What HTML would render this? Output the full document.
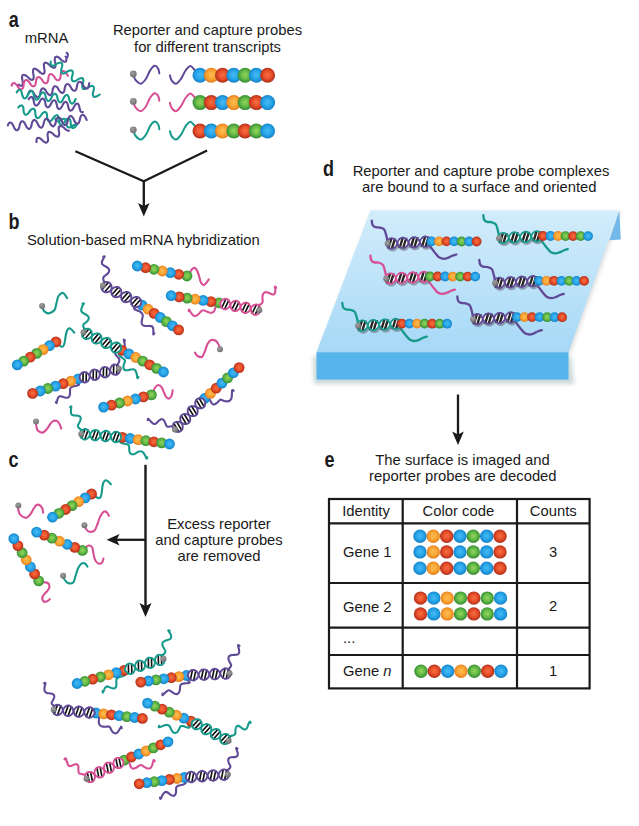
<!DOCTYPE html>
<html><head><meta charset="utf-8"><title>nCounter workflow</title>
<style>
html,body{margin:0;padding:0;background:#fff;}
body{width:639px;height:826px;overflow:hidden;font-family:"Liberation Sans",sans-serif;}
svg{display:block;}
svg text{font-family:"Liberation Sans",sans-serif;fill:#1a1a1a;}
svg path{stroke-linecap:round;stroke-linejoin:round;}
</style></head><body>
<svg width="639" height="826" viewBox="0 0 639 826">
<defs>
<radialGradient id="gb" cx="50%" cy="48%" r="52%"><stop offset="0" stop-color="#48baf3"/><stop offset="0.55" stop-color="#27a5e8"/><stop offset="0.85" stop-color="#1a8cd2"/><stop offset="1" stop-color="#1a80c2"/></radialGradient>
<radialGradient id="go" cx="50%" cy="48%" r="52%"><stop offset="0" stop-color="#fdbd50"/><stop offset="0.55" stop-color="#f9a535"/><stop offset="0.85" stop-color="#ee8a24"/><stop offset="1" stop-color="#e17b20"/></radialGradient>
<radialGradient id="gr" cx="50%" cy="48%" r="52%"><stop offset="0" stop-color="#f56f42"/><stop offset="0.5" stop-color="#ea512b"/><stop offset="0.82" stop-color="#c43a20"/><stop offset="1" stop-color="#a9311c"/></radialGradient>
<radialGradient id="gg" cx="50%" cy="48%" r="52%"><stop offset="0" stop-color="#93d45c"/><stop offset="0.5" stop-color="#68bd48"/><stop offset="0.82" stop-color="#449c3b"/><stop offset="1" stop-color="#3a8b36"/></radialGradient>
<radialGradient id="gd" cx="40%" cy="35%" r="65%"><stop offset="0" stop-color="#a0a0a0"/><stop offset="1" stop-color="#707070"/></radialGradient>
<linearGradient id="top" x1="0" y1="0" x2="0" y2="1"><stop offset="0" stop-color="#d2ecfb"/><stop offset="0.5" stop-color="#bde3f9"/><stop offset="1" stop-color="#a6d8f6"/></linearGradient>
<filter id="sh" x="-5%" y="-5%" width="110%" height="115%"><feGaussianBlur stdDeviation="2"/></filter>
</defs>
<text transform="translate(8.7 26.7) scale(0.8 1)" font-size="22.5" font-weight="bold">a</text>
<text x="46.5" y="43" font-size="14.8" text-anchor="middle" font-weight="normal" >mRNA</text>
<text x="207.5" y="35.2" font-size="14.8" text-anchor="middle" font-weight="normal" >Reporter and capture probes</text>
<text x="207.5" y="52.1" font-size="14.8" text-anchor="middle" font-weight="normal" >for different transcripts</text>
<text transform="translate(8.6 229.2) scale(0.8 1)" font-size="22.5" font-weight="bold">b</text>
<text x="27" y="244.8" font-size="14.8" text-anchor="start" font-weight="normal" >Solution-based mRNA hybridization</text>
<text transform="translate(8.5 466.6) scale(0.8 1)" font-size="22.5" font-weight="bold">c</text>
<text x="219" y="528.6" font-size="14.8" text-anchor="middle" font-weight="normal" >Excess reporter</text>
<text x="219" y="544.9" font-size="14.8" text-anchor="middle" font-weight="normal" >and capture probes</text>
<text x="219" y="561" font-size="14.8" text-anchor="middle" font-weight="normal" >are removed</text>
<text transform="translate(323 175.9) scale(0.8 1)" font-size="22.5" font-weight="bold">d</text>
<text x="481" y="175.8" font-size="14.8" text-anchor="middle" font-weight="normal" >Reporter and capture probe complexes</text>
<text x="479.3" y="192.2" font-size="14.8" text-anchor="middle" font-weight="normal" >are bound to a surface and oriented</text>
<text transform="translate(324.6 466.5) scale(0.8 1)" font-size="22.5" font-weight="bold">e</text>
<text x="462.5" y="465.2" font-size="14.8" text-anchor="middle" font-weight="normal" >The surface is imaged and</text>
<text x="462.8" y="481.1" font-size="14.8" text-anchor="middle" font-weight="normal" >reporter probes are decoded</text>
<path d="M75.4 151.2L143.8 181.2L207.1 150.6" fill="none" stroke="#1a1a1a" stroke-width="2.2" style="stroke-linejoin:miter;stroke-linecap:butt"/>
<path d="M143.8 181.2V207.1" fill="none" style="stroke-linecap:butt" stroke="#1a1a1a" stroke-width="2.3"/>
<path d="M143.8 216.6L138 203.1L143.8 206.1L149.6 203.1Z" fill="#1a1a1a" stroke="none"/>
<path d="M145.5 464.8V607" fill="none" style="stroke-linecap:butt" stroke="#1a1a1a" stroke-width="2.4"/>
<path d="M145.5 617L139.5 603L145.5 606L151.5 603Z" fill="#1a1a1a" stroke="none"/>
<path d="M145.5 539.8H115.6" fill="none" style="stroke-linecap:butt" stroke="#1a1a1a" stroke-width="2.3"/>
<path d="M106.6 539.8L119.6 534L116.6 539.8L119.6 545.6Z" fill="#1a1a1a" stroke="none"/>
<path d="M458 394.5V435.5" fill="none" style="stroke-linecap:butt" stroke="#1a1a1a" stroke-width="2.3"/>
<path d="M458 445L452.2 431.5L458 434.5L463.8 431.5Z" fill="#1a1a1a" stroke="none"/>
<path d="M18.4 84.6C18.7 84.8 19.6 85.4 20.2 85.6C20.7 85.8 21.1 85.9 21.5 85.9C21.9 85.8 22.1 85.6 22.4 85.3C22.6 84.9 22.7 84.4 22.8 83.8C22.8 83.2 22.8 82.5 22.7 81.6C22.6 80.6 22.2 79.1 22.1 78.2C22 77.3 22.1 76.7 22.2 76.2C22.3 75.7 22.5 75.3 22.7 75C23 74.8 23.3 74.7 23.7 74.7C24.2 74.7 24.6 74.9 25.2 75.2C25.8 75.5 26.4 75.9 27.2 76.5C27.9 77.1 28.9 78.3 29.6 78.8C30.3 79.3 30.8 79.5 31.3 79.7C31.8 79.9 32.2 79.9 32.6 79.8C32.9 79.7 33.2 79.4 33.4 79C33.6 78.6 33.7 78.1 33.7 77.5C33.7 76.8 33.7 75.9 33.5 75C33.4 74 33 72.6 33 71.7C32.9 70.9 33 70.4 33.1 69.9C33.3 69.4 33.5 69.1 33.8 68.9C34.1 68.7 34.4 68.6 34.9 68.7C35.3 68.8 35.8 68.9 36.4 69.3C37 69.7 37.8 70.3 38.5 70.9C39.3 71.6 40.2 72.5 40.9 73C41.6 73.5 42 73.6 42.5 73.8C43 73.9 43.4 73.9 43.7 73.7C44 73.5 44.2 73.2 44.4 72.8C44.5 72.3 44.7 71.8 44.6 71.1C44.6 70.3 44.3 69.1 44.2 68.1C44.1 67.1 43.9 66.1 43.9 65.3C43.9 64.6 44 64.1 44.1 63.6C44.3 63.2 44.5 62.9 44.9 62.8C45.2 62.6 45.6 62.6 46 62.7C46.5 62.8 47 63 47.7 63.5C48.3 64 49.3 65 50.1 65.6C50.8 66.2 51.5 66.8 52.1 67.2C52.7 67.6 53.2 67.7 53.7 67.8C54.1 67.8 54.5 67.8 54.7 67.6C55 67.4 55.2 67 55.4 66.5C55.5 66 55.6 65.5 55.5 64.6C55.5 63.8 55.1 62.3 54.9 61.4C54.8 60.4 54.8 59.6 54.8 58.9C54.8 58.3 55 57.8 55.1 57.4C55.3 57 55.6 56.8 56 56.7C56.3 56.6 56.7 56.6 57.2 56.8C57.7 56.9 58.2 57.2 58.9 57.7C59.6 58.2 60.7 59.4 61.4 60C62.2 60.6 62.8 61 63.4 61.3C63.9 61.6 64.4 61.8 64.8 61.8C65.2 61.8 65.5 61.7 65.8 61.4C66.1 61.1 66.2 60.7 66.3 60.2C66.4 59.7 66.4 58.5 66.4 58.2" fill="none" stroke="#604996" stroke-width="2.1" />
<path d="M65.5 56.5C65.8 56.7 66.8 57.9 67.2 57.5C67.6 57.1 67.9 54.8 67.8 54C67.7 53.2 66.8 53 66.6 52.8" fill="none" stroke="#604996" stroke-width="2.1" />
<path d="M11.6 85.7C11.7 85.4 12 84.5 12.2 84C12.5 83.6 12.8 83.3 13.1 83.2C13.4 83 13.8 83 14.2 83.1C14.6 83.1 15 83.4 15.4 83.7C15.9 84.1 16.4 84.6 16.9 85.2C17.4 85.9 18.1 87.2 18.6 87.8C19.1 88.4 19.5 88.7 20 89C20.4 89.2 20.8 89.3 21.2 89.3C21.5 89.3 21.9 89.2 22.1 88.9C22.4 88.7 22.7 88.3 23 87.8C23.2 87.2 23.4 86.6 23.5 85.8C23.7 84.9 23.7 83.5 23.9 82.7C24.1 81.9 24.3 81.5 24.6 81C24.8 80.6 25.1 80.3 25.5 80.2C25.8 80 26.1 80 26.5 80.1C26.9 80.1 27.3 80.4 27.8 80.7C28.2 81.1 28.7 81.6 29.2 82.2C29.8 82.9 30.4 84.2 30.9 84.8C31.4 85.4 31.9 85.7 32.3 86C32.7 86.2 33.1 86.3 33.5 86.3C33.9 86.3 34.2 86.2 34.5 85.9C34.8 85.7 35.1 85.3 35.3 84.8C35.5 84.2 35.7 83.6 35.9 82.8C36 81.9 36.1 80.5 36.2 79.7C36.4 78.9 36.7 78.5 36.9 78C37.2 77.6 37.5 77.3 37.8 77.2C38.1 77 38.5 77 38.9 77.1C39.2 77.1 39.7 77.4 40.1 77.7C40.6 78.1 41 78.6 41.6 79.2C42.1 79.9 42.8 81.2 43.3 81.8C43.8 82.4 44.2 82.7 44.6 83C45.1 83.2 45.5 83.3 45.8 83.3C46.2 83.3 46.5 83.2 46.8 82.9C47.1 82.7 47.4 82.3 47.6 81.8C47.9 81.2 48.1 80.6 48.2 79.8C48.4 78.9 48.4 77.5 48.6 76.7C48.7 75.9 49 75.5 49.2 75C49.5 74.6 49.8 74.3 50.1 74.2C50.4 74 50.8 74 51.2 74.1C51.6 74.1 52 74.4 52.4 74.7C52.9 75.1 53.4 75.6 53.9 76.2C54.4 76.9 55.1 78.2 55.6 78.8C56.1 79.4 56.5 79.7 57 80C57.4 80.2 57.8 80.3 58.2 80.3C58.5 80.3 58.9 80.2 59.1 79.9C59.4 79.7 59.7 79.3 60 78.8C60.2 78.2 60.4 77.6 60.5 76.8C60.7 75.9 60.7 74.5 60.9 73.7C61.1 72.9 61.3 72.5 61.6 72C61.8 71.6 62.1 71.3 62.5 71.2C62.8 71 63.1 71 63.5 71.1C63.9 71.1 64.3 71.4 64.8 71.7C65.2 72.1 65.7 72.6 66.2 73.2C66.8 73.9 67.6 75.4 67.9 75.8" fill="none" stroke="#d74f94" stroke-width="2.1" />
<path d="M50.8 61.5C50.8 61.8 50.6 62.9 50.6 63.5C50.7 64.1 50.8 64.5 51 64.9C51.2 65.2 51.4 65.5 51.8 65.6C52.2 65.7 52.6 65.8 53.1 65.7C53.6 65.6 54.2 65.5 54.9 65.1C55.6 64.7 56.7 63.8 57.5 63.4C58.2 63 58.8 62.8 59.4 62.7C60 62.5 60.4 62.5 60.8 62.6C61.2 62.7 61.5 62.9 61.8 63.2C62 63.5 62.1 63.9 62.2 64.4C62.3 64.9 62.3 65.5 62.2 66.3C62 67.1 61.5 68.4 61.3 69.2C61.2 70.1 61.2 70.7 61.2 71.3C61.2 71.9 61.3 72.3 61.5 72.7C61.7 73 62 73.3 62.4 73.4C62.7 73.5 63.1 73.5 63.7 73.5C64.2 73.4 64.7 73.3 65.4 72.9C66.2 72.5 67.3 71.6 68 71.2C68.8 70.8 69.4 70.6 70 70.5C70.5 70.3 71 70.3 71.4 70.4C71.8 70.5 72.1 70.6 72.3 70.9C72.5 71.2 72.7 71.6 72.8 72.2C72.8 72.7 72.9 73.2 72.7 74C72.6 74.9 72.1 76.2 71.9 77C71.7 77.9 71.7 78.5 71.7 79.1C71.8 79.6 71.9 80.1 72.1 80.4C72.3 80.8 72.6 81 72.9 81.2C73.3 81.3 73.7 81.3 74.2 81.2C74.7 81.2 75.3 81 76 80.7C76.7 80.3 77.8 79.4 78.6 79C79.3 78.6 80 78.4 80.5 78.2C81.1 78.1 81.5 78.1 81.9 78.1C82.3 78.2 82.6 78.4 82.9 78.7C83.1 79 83.2 79.4 83.3 79.9C83.4 80.5 83.4 81 83.3 81.8C83.1 82.6 82.6 84 82.5 84.8C82.3 85.6 82.3 86.3 82.3 86.8C82.3 87.4 82.5 87.9 82.6 88.2C82.8 88.6 83.1 88.8 83.5 88.9C83.8 89.1 84.3 89.1 84.8 89C85.3 88.9 85.8 88.8 86.6 88.4C87.3 88.1 88.4 87.2 89.2 86.8C89.9 86.4 90.5 86.1 91.1 86C91.6 85.9 92.1 85.8 92.5 85.9C92.9 86 93.2 86.2 93.4 86.5C93.7 86.8 93.8 87.2 93.9 87.7C93.9 88.2 94 88.8 93.8 89.6C93.7 90.4 93.2 91.7 93 92.6C92.9 93.4 92.8 94.1 92.9 94.6C92.9 95.2 93 95.7 93.2 96C93.4 96.4 93.7 96.6 94 96.7C94.4 96.9 94.8 96.9 95.3 96.8C95.8 96.7 96.4 96.6 97.1 96.2C97.8 95.8 99.3 94.8 99.7 94.5" fill="none" stroke="#169a8b" stroke-width="2.1" />
<path d="M28.3 94C28.4 93.7 28.8 92.6 29 92C29.3 91.5 29.6 91.1 29.9 90.9C30.2 90.6 30.5 90.5 30.8 90.6C31.2 90.6 31.6 90.7 32 91C32.4 91.3 32.8 91.6 33.3 92.3C33.7 92.9 34.3 94.2 34.8 94.9C35.3 95.6 35.7 96.1 36.1 96.5C36.5 96.9 36.9 97.1 37.3 97.3C37.7 97.4 38 97.4 38.4 97.2C38.7 97.1 39 96.8 39.3 96.4C39.5 96 39.8 95.6 40 94.8C40.2 94 40.3 92.6 40.5 91.8C40.7 91 41 90.4 41.2 89.8C41.5 89.3 41.8 88.9 42.1 88.7C42.4 88.4 42.7 88.3 43 88.4C43.4 88.4 43.8 88.5 44.2 88.8C44.6 89.1 45 89.4 45.5 90.1C45.9 90.7 46.5 92 47 92.7C47.5 93.4 47.9 93.9 48.3 94.3C48.7 94.7 49.1 94.9 49.5 95.1C49.9 95.2 50.2 95.2 50.6 95C50.9 94.9 51.2 94.6 51.5 94.2C51.7 93.8 52 93.4 52.2 92.6C52.4 91.8 52.5 90.4 52.7 89.6C52.9 88.8 53.2 88.2 53.4 87.6C53.7 87.1 54 86.7 54.3 86.5C54.6 86.2 54.9 86.1 55.2 86.2C55.6 86.2 56 86.3 56.4 86.6C56.8 86.9 57.2 87.2 57.7 87.9C58.1 88.5 58.7 89.8 59.2 90.5C59.7 91.2 60.1 91.7 60.5 92.1C60.9 92.5 61.3 92.7 61.7 92.9C62.1 93 62.4 93 62.8 92.8C63.1 92.7 63.4 92.4 63.7 92C63.9 91.6 64.2 91.2 64.4 90.4C64.6 89.6 64.7 88.2 64.9 87.4C65.1 86.6 65.4 86 65.6 85.4C65.9 84.9 66.2 84.5 66.5 84.3C66.8 84 67.1 83.9 67.4 84C67.8 84 68.2 84.1 68.6 84.4C69 84.7 69.4 85 69.9 85.7C70.3 86.3 70.9 87.6 71.4 88.3C71.9 89 72.3 89.5 72.7 89.9C73.1 90.3 73.5 90.5 73.9 90.7C74.3 90.8 74.6 90.8 75 90.6C75.3 90.5 75.6 90.2 75.9 89.8C76.1 89.4 76.4 89 76.6 88.2C76.8 87.4 76.9 86 77.1 85.2C77.3 84.4 77.6 83.8 77.8 83.2C78.1 82.7 78.4 82.3 78.7 82.1C79 81.8 79.3 81.7 79.6 81.8C80 81.8 80.4 81.9 80.8 82.2C81.2 82.5 81.6 82.8 82.1 83.5C82.5 84.1 83.1 85.4 83.6 86.1C84.1 86.8 84.5 87.3 84.9 87.7C85.3 88.1 85.7 88.3 86.1 88.5C86.5 88.6 86.8 88.6 87.2 88.4C87.5 88.3 87.8 88 88.1 87.6C88.3 87.2 88.6 86.8 88.8 86C89 85.2 89.2 83.5 89.3 83" fill="none" stroke="#604996" stroke-width="2.1" />
<path d="M16.6 92.5C16.8 92.2 17.4 91.2 17.8 90.8C18.2 90.4 18.5 90.1 18.9 89.9C19.2 89.8 19.6 89.8 19.9 89.9C20.2 90 20.5 90.3 20.8 90.6C21.1 91 21.4 91.5 21.6 92.2C21.9 93 22 94.3 22.3 95.1C22.5 96 22.8 96.6 23.1 97.1C23.4 97.6 23.6 97.9 24 98.1C24.3 98.4 24.6 98.5 24.9 98.4C25.3 98.4 25.6 98.2 26 97.9C26.3 97.6 26.7 97.2 27.1 96.5C27.5 95.9 28 94.5 28.4 93.8C28.8 93.1 29.2 92.5 29.6 92.1C30 91.7 30.3 91.4 30.7 91.2C31 91.1 31.4 91.1 31.7 91.2C32 91.3 32.3 91.6 32.6 91.9C32.9 92.3 33.2 92.8 33.4 93.5C33.7 94.3 33.8 95.6 34.1 96.4C34.3 97.3 34.6 97.9 34.9 98.4C35.2 98.9 35.4 99.2 35.8 99.4C36.1 99.7 36.4 99.8 36.7 99.7C37.1 99.7 37.4 99.5 37.8 99.2C38.1 98.9 38.5 98.5 38.9 97.8C39.3 97.2 39.8 95.8 40.2 95.1C40.6 94.4 41 93.8 41.4 93.4C41.8 93 42.1 92.7 42.5 92.5C42.8 92.4 43.2 92.4 43.5 92.5C43.8 92.6 44.1 92.9 44.4 93.2C44.7 93.6 45 94.1 45.2 94.8C45.5 95.6 45.6 96.9 45.9 97.7C46.1 98.6 46.4 99.2 46.7 99.7C47 100.2 47.2 100.5 47.6 100.7C47.9 101 48.2 101.1 48.5 101C48.9 101 49.2 100.8 49.6 100.5C49.9 100.2 50.3 99.8 50.7 99.1C51.1 98.5 51.6 97.1 52 96.4C52.4 95.7 52.8 95.1 53.2 94.7C53.6 94.3 53.9 94 54.3 93.8C54.6 93.7 55 93.7 55.3 93.8C55.6 93.9 55.9 94.2 56.2 94.5C56.5 94.9 56.8 95.4 57 96.1C57.3 96.9 57.4 98.2 57.7 99C57.9 99.9 58.2 100.5 58.5 101C58.8 101.5 59 101.8 59.4 102C59.7 102.3 60 102.4 60.3 102.3C60.7 102.3 61 102.1 61.4 101.8C61.7 101.5 62.1 101.1 62.5 100.4C62.9 99.8 63.4 98.4 63.8 97.7C64.2 97 64.6 96.4 65 96C65.4 95.6 65.7 95.3 66.1 95.1C66.4 95 66.8 95 67.1 95.1C67.4 95.2 67.7 95.5 68 95.8C68.3 96.2 68.6 96.7 68.8 97.4C69.1 98.2 69.2 99.5 69.5 100.3C69.7 101.2 70 101.8 70.3 102.3C70.6 102.8 70.8 103.1 71.2 103.3C71.5 103.6 71.8 103.7 72.1 103.6C72.5 103.6 72.8 103.4 73.2 103.1C73.5 102.8 73.9 102.4 74.3 101.7C74.7 101.1 75.4 99.5 75.6 99" fill="none" stroke="#169a8b" stroke-width="2.1" />
<path d="M28.7 99.1C28.9 98.8 29.5 97.9 29.9 97.6C30.3 97.2 30.7 97 31 96.9C31.3 96.8 31.7 96.9 32 97.1C32.3 97.3 32.5 97.6 32.8 98.1C33.1 98.5 33.3 99.1 33.5 99.9C33.7 100.7 33.9 102.1 34.1 102.9C34.3 103.7 34.5 104.2 34.8 104.6C35.1 105 35.3 105.3 35.7 105.5C36 105.7 36.3 105.7 36.6 105.6C37 105.5 37.3 105.2 37.7 104.8C38.1 104.4 38.5 104 38.9 103.2C39.4 102.5 39.9 101.2 40.3 100.5C40.8 99.8 41.1 99.4 41.5 99.1C41.9 98.8 42.2 98.6 42.6 98.6C42.9 98.5 43.2 98.6 43.5 98.8C43.8 99 44.1 99.4 44.4 99.9C44.6 100.4 44.8 101 45.1 101.8C45.3 102.7 45.4 104.1 45.6 104.8C45.8 105.6 46.1 106 46.4 106.4C46.6 106.8 46.9 107.1 47.2 107.2C47.5 107.4 47.9 107.3 48.2 107.2C48.6 107.1 48.9 106.8 49.3 106.4C49.7 105.9 50.1 105.4 50.6 104.6C51 103.9 51.5 102.6 51.9 101.9C52.4 101.3 52.7 101 53.1 100.7C53.5 100.4 53.8 100.2 54.2 100.2C54.5 100.2 54.8 100.3 55.1 100.6C55.4 100.8 55.7 101.2 55.9 101.8C56.2 102.3 56.4 103 56.6 103.8C56.8 104.7 56.9 106 57.2 106.7C57.4 107.5 57.6 107.9 57.9 108.2C58.2 108.6 58.5 108.8 58.8 108.9C59.1 109 59.5 109 59.8 108.8C60.2 108.6 60.5 108.3 60.9 107.9C61.3 107.4 61.8 106.7 62.2 106C62.6 105.2 63.1 104 63.5 103.4C64 102.8 64.3 102.5 64.7 102.2C65.1 102 65.4 101.9 65.7 101.9C66.1 101.9 66.4 102.1 66.7 102.3C66.9 102.6 67.2 103 67.5 103.6C67.7 104.2 67.9 105.1 68.1 105.9C68.3 106.7 68.5 108 68.7 108.6C68.9 109.3 69.2 109.7 69.5 110C69.8 110.4 70.1 110.6 70.4 110.6C70.7 110.7 71 110.6 71.4 110.4C71.8 110.2 72.1 109.9 72.5 109.3C72.9 108.8 73.4 107.9 73.8 107.2C74.3 106.4 74.7 105.4 75.2 104.9C75.6 104.3 75.9 104 76.3 103.8C76.7 103.6 77 103.5 77.3 103.6C77.6 103.6 77.9 103.8 78.2 104.1C78.5 104.5 78.8 104.8 79 105.5C79.2 106.2 79.4 107.4 79.6 108.2C79.8 109 80 109.9 80.2 110.5C80.5 111.1 80.8 111.5 81 111.8C81.3 112.1 81.6 112.3 82 112.3C82.3 112.3 82.8 112 83 112" fill="none" stroke="#604996" stroke-width="2.1" />
<path d="M18.3 107.5C18.5 107.3 19.3 106.4 19.7 106C20.2 105.7 20.6 105.5 21 105.4C21.4 105.3 21.7 105.3 22 105.5C22.3 105.7 22.6 106 22.8 106.4C23.1 106.8 23.3 107.3 23.4 108.1C23.5 108.9 23.5 110.3 23.6 111.1C23.7 112 23.9 112.6 24.1 113.2C24.3 113.7 24.6 114.1 24.8 114.4C25.1 114.6 25.4 114.8 25.8 114.8C26.1 114.8 26.5 114.7 26.9 114.4C27.4 114.2 27.8 113.9 28.3 113.3C28.8 112.7 29.5 111.5 30.1 110.8C30.6 110.2 31.1 109.7 31.5 109.3C32 109 32.4 108.8 32.8 108.7C33.2 108.6 33.5 108.6 33.8 108.8C34.1 109 34.4 109.3 34.6 109.7C34.9 110.1 35.1 110.6 35.2 111.4C35.3 112.2 35.3 113.6 35.4 114.4C35.5 115.3 35.7 115.9 35.9 116.5C36.1 117 36.4 117.4 36.6 117.7C36.9 117.9 37.2 118.1 37.6 118.1C37.9 118.1 38.3 118 38.7 117.7C39.2 117.5 39.6 117.2 40.1 116.6C40.6 116 41.3 114.8 41.9 114.1C42.4 113.5 42.9 113 43.3 112.6C43.8 112.3 44.2 112.1 44.6 112C45 111.9 45.3 111.9 45.6 112.1C45.9 112.3 46.2 112.6 46.4 113C46.7 113.4 46.9 113.9 47 114.7C47.1 115.5 47.1 116.9 47.2 117.7C47.3 118.6 47.5 119.2 47.7 119.8C47.9 120.3 48.2 120.7 48.4 121C48.7 121.2 49 121.4 49.4 121.4C49.7 121.4 50.1 121.3 50.5 121C51 120.8 51.4 120.5 51.9 119.9C52.4 119.3 53.1 118.1 53.7 117.4C54.2 116.8 54.7 116.3 55.1 115.9C55.6 115.6 56 115.4 56.4 115.3C56.8 115.2 57.1 115.2 57.4 115.4C57.7 115.6 58 115.9 58.2 116.3C58.5 116.7 58.7 117.2 58.8 118C58.9 118.8 58.9 120.2 59 121C59.1 121.9 59.3 122.5 59.5 123.1C59.7 123.6 60 124 60.2 124.3C60.5 124.5 60.8 124.7 61.2 124.7C61.5 124.7 61.9 124.6 62.3 124.3C62.8 124.1 63.2 123.8 63.7 123.2C64.2 122.6 64.9 121.4 65.5 120.7C66 120.1 66.5 119.6 66.9 119.2C67.4 118.9 67.8 118.7 68.2 118.6C68.6 118.5 68.9 118.5 69.2 118.7C69.5 118.9 69.8 119.2 70 119.6C70.3 120 70.5 120.5 70.6 121.3C70.7 122.1 70.7 123.5 70.8 124.3C70.9 125.2 71.1 125.8 71.3 126.4C71.5 126.9 71.8 127.3 72 127.6C72.3 127.8 72.6 128 73 128C73.3 128 73.7 127.9 74.1 127.6C74.6 127.4 75 127.1 75.5 126.5C76 125.9 77 124.4 77.3 124" fill="none" stroke="#169a8b" stroke-width="2.1" />
<path d="M55.4 118.6C55.5 118.8 55.7 119.7 55.8 120.1C56 120.5 56.2 120.9 56.5 121.1C56.8 121.4 57.1 121.5 57.5 121.5C57.9 121.6 58.3 121.6 58.8 121.4C59.3 121.3 59.8 121.1 60.4 120.7C61 120.3 61.8 119.6 62.3 119.3C62.9 119 63.4 118.9 63.8 118.8C64.3 118.7 64.6 118.7 65 118.9C65.3 119 65.6 119.2 65.9 119.5C66.1 119.8 66.3 120.2 66.5 120.7C66.6 121.2 66.7 121.8 66.7 122.5C66.8 123.2 66.6 124.2 66.7 124.9C66.8 125.5 66.9 125.9 67.1 126.3C67.4 126.7 67.6 127 67.9 127.1C68.2 127.3 68.6 127.4 69 127.4C69.4 127.5 69.8 127.4 70.3 127.2C70.8 127 71.4 126.6 72 126.3C72.6 125.9 73.3 125.3 73.9 125C74.4 124.7 74.9 124.7 75.3 124.6C75.7 124.6 76.2 124.8 76.4 124.8" fill="none" stroke="#169a8b" stroke-width="2.1" />
<path d="M7.8 125.5C8 125.2 8.4 124.1 8.7 123.7C8.9 123.2 9.3 122.9 9.6 122.7C9.9 122.5 10.2 122.5 10.6 122.6C10.9 122.7 11.3 122.9 11.7 123.3C12.1 123.7 12.4 124.2 12.9 124.9C13.3 125.7 13.8 127.1 14.2 127.8C14.6 128.6 15 129.1 15.4 129.4C15.8 129.8 16.1 130.1 16.5 130.2C16.8 130.3 17.2 130.3 17.5 130.1C17.8 129.9 18.1 129.6 18.4 129.1C18.7 128.7 19 128.2 19.2 127.3C19.5 126.5 19.7 125 19.9 124.2C20.2 123.4 20.4 122.8 20.7 122.4C21 121.9 21.3 121.6 21.6 121.4C22 121.2 22.3 121.2 22.7 121.3C23 121.4 23.4 121.6 23.8 122C24.1 122.4 24.5 122.9 24.9 123.6C25.4 124.4 25.9 125.8 26.3 126.5C26.7 127.3 27.1 127.7 27.5 128.1C27.9 128.5 28.2 128.8 28.6 128.9C28.9 129 29.3 129 29.6 128.8C29.9 128.6 30.2 128.3 30.5 127.8C30.8 127.4 31.1 126.8 31.3 126C31.6 125.2 31.7 123.7 32 122.9C32.2 122.1 32.5 121.5 32.8 121.1C33.1 120.6 33.4 120.3 33.7 120.1C34 119.9 34.4 119.9 34.7 120C35.1 120.1 35.4 120.3 35.8 120.7C36.2 121.1 36.6 121.6 37 122.3C37.4 123.1 37.9 124.5 38.4 125.2C38.8 126 39.2 126.4 39.5 126.8C39.9 127.2 40.3 127.5 40.6 127.6C41 127.7 41.3 127.7 41.7 127.5C42 127.3 42.3 127 42.6 126.5C42.9 126.1 43.1 125.5 43.4 124.7C43.6 123.9 43.8 122.4 44.1 121.6C44.3 120.7 44.6 120.2 44.9 119.8C45.2 119.3 45.5 119 45.8 118.8C46.1 118.6 46.5 118.6 46.8 118.7C47.2 118.8 47.5 119 47.9 119.4C48.3 119.8 48.7 120.3 49.1 121C49.5 121.8 50 123.2 50.4 123.9C50.9 124.7 51.2 125.1 51.6 125.5C52 125.9 52.4 126.2 52.7 126.3C53.1 126.4 53.4 126.3 53.7 126.2C54 126 54.4 125.7 54.6 125.2C54.9 124.8 55.2 124.2 55.5 123.4C55.7 122.6 55.9 121.1 56.1 120.3C56.4 119.4 56.7 118.9 57 118.4C57.3 118 57.6 117.7 57.9 117.5C58.2 117.3 58.5 117.3 58.9 117.4C59.2 117.5 59.6 117.7 60 118.1C60.4 118.5 60.8 118.9 61.2 119.7C61.6 120.4 62.1 121.9 62.5 122.6C62.9 123.4 63.3 123.8 63.7 124.2C64.1 124.6 64.4 124.9 64.8 125C65.2 125.1 65.5 125 65.8 124.9C66.1 124.7 66.4 124.4 66.7 123.9C67 123.4 67.3 122.9 67.5 122.1C67.8 121.3 68 119.8 68.2 119C68.5 118.1 68.8 117.6 69 117.1C69.3 116.7 69.6 116.4 70 116.2C70.3 116 70.6 116 71 116.1C71.3 116.2 71.7 116.4 72.1 116.8C72.4 117.2 72.8 117.6 73.3 118.4C73.7 119.1 74.2 120.6 74.6 121.3C75 122.1 75.4 122.5 75.8 122.9C76.2 123.3 76.5 123.5 76.9 123.7C77.2 123.8 77.6 123.7 77.9 123.6C78.2 123.4 78.5 123.1 78.8 122.6C79.1 122.1 79.4 121.6 79.6 120.8C79.9 120 80 118.5 80.3 117.7C80.5 116.8 80.8 116.3 81.1 115.8C81.4 115.4 81.7 115 82 114.9C82.4 114.7 82.7 114.7 83 114.8C83.4 114.9 83.8 115.1 84.1 115.5C84.5 115.9 84.9 116.3 85.3 117.1C85.7 117.8 86.4 119.5 86.7 120" fill="none" stroke="#604996" stroke-width="2.1" />
<path d="M36.5 142.1C36.5 141.7 36.5 140.5 36.5 139.9C36.6 139.3 36.8 138.8 37 138.5C37.2 138.1 37.5 137.9 37.9 137.8C38.2 137.8 38.6 137.8 39.1 138C39.6 138.2 40.2 138.4 40.8 138.9C41.5 139.4 42.5 140.5 43.2 141.1C43.9 141.6 44.5 142 45 142.2C45.6 142.5 46 142.6 46.4 142.6C46.8 142.6 47.1 142.4 47.4 142.1C47.6 141.9 47.8 141.5 47.9 140.9C48.1 140.4 48.2 139.8 48.1 139C48 138.1 47.7 136.6 47.6 135.8C47.5 134.9 47.6 134.2 47.7 133.7C47.8 133.1 48 132.7 48.2 132.4C48.4 132.1 48.8 131.9 49.1 131.9C49.5 131.8 50 131.9 50.5 132.1C51 132.4 51.5 132.6 52.2 133.2C52.9 133.7 53.9 134.9 54.6 135.4C55.3 135.9 55.8 136.2 56.4 136.4C56.9 136.6 57.3 136.7 57.7 136.6C58.1 136.6 58.4 136.4 58.6 136.1C58.8 135.8 59 135.3 59.1 134.8C59.2 134.2 59.3 133.5 59.2 132.7C59.1 131.8 58.7 130.3 58.7 129.5C58.6 128.6 58.7 128 58.8 127.5C59 127 59.2 126.6 59.4 126.3C59.7 126.1 60 126 60.4 125.9C60.8 125.9 61.3 126.1 61.8 126.3C62.4 126.6 63 126.9 63.7 127.5C64.4 128.1 65.3 129.2 66 129.7C66.7 130.2 67.2 130.4 67.7 130.6C68.2 130.7 68.7 130.7 69 130.7" fill="none" stroke="#604996" stroke-width="2.1" />
<path d="M133.3 74.2C133.6 75.1 134.1 78.1 135.3 79.7C136.6 81.3 139 83.9 140.8 83.7C142.6 83.5 144.5 81 146 78.8C147.5 76.6 148.6 72.8 150 70.6C151.4 68.4 153.2 66.1 154.6 65.8C156 65.5 157.4 67.4 158.2 68.7C159 70 159.1 72.6 159.3 73.4" fill="none" stroke="#604996" stroke-width="2" />
<circle cx="133.3" cy="74" r="3.4" fill="url(#gd)"/>
<path d="M169.9 75.4C170.2 76.2 170.6 79 171.6 80.4C172.6 81.8 174.5 84 176.1 83.7C177.7 83.4 179.4 81 181 78.8C182.6 76.6 183.9 72.7 185.5 70.6C187.1 68.5 188.8 66.2 190.3 66C191.8 65.8 193.2 68.5 194.5 69.7C195.8 70.9 197.4 72.6 198 73.2" fill="none" stroke="#604996" stroke-width="2" />
<circle cx="200" cy="75.2" r="7.5" fill="url(#gb)"/>
<circle cx="211.3" cy="75.2" r="7.5" fill="url(#go)"/>
<circle cx="222.5" cy="75.2" r="7.5" fill="url(#gr)"/>
<circle cx="233.8" cy="75.2" r="7.5" fill="url(#gb)"/>
<circle cx="245.1" cy="75.2" r="7.5" fill="url(#gg)"/>
<circle cx="256.3" cy="75.2" r="7.5" fill="url(#gb)"/>
<circle cx="267.6" cy="75.2" r="7.5" fill="url(#gr)"/>
<path d="M133.3 101.6C133.6 102.5 134.1 105.5 135.3 107.1C136.6 108.7 139 111.2 140.8 111.1C142.6 110.9 144.5 108.4 146 106.2C147.5 104 148.6 100.2 150 98C151.4 95.8 153.2 93.5 154.6 93.2C156 92.9 157.4 94.8 158.2 96.1C159 97.4 159.1 100 159.3 100.8" fill="none" stroke="#d74f94" stroke-width="2" />
<circle cx="133.3" cy="101.4" r="3.4" fill="url(#gd)"/>
<path d="M169.9 102.8C170.2 103.6 170.6 106.4 171.6 107.8C172.6 109.2 174.5 111.4 176.1 111.1C177.7 110.8 179.4 108.4 181 106.2C182.6 104 183.9 100.1 185.5 98C187.1 95.9 188.8 93.5 190.3 93.4C191.8 93.2 193.2 95.9 194.5 97.1C195.8 98.3 197.4 100 198 100.6" fill="none" stroke="#d74f94" stroke-width="2" />
<circle cx="200" cy="102.6" r="7.5" fill="url(#gg)"/>
<circle cx="211.3" cy="102.6" r="7.5" fill="url(#gr)"/>
<circle cx="222.5" cy="102.6" r="7.5" fill="url(#gb)"/>
<circle cx="233.8" cy="102.6" r="7.5" fill="url(#go)"/>
<circle cx="245.1" cy="102.6" r="7.5" fill="url(#gg)"/>
<circle cx="256.3" cy="102.6" r="7.5" fill="url(#gr)"/>
<circle cx="267.6" cy="102.6" r="7.5" fill="url(#gb)"/>
<path d="M133.3 130C133.6 130.9 134.1 133.9 135.3 135.5C136.6 137.1 139 139.7 140.8 139.5C142.6 139.3 144.5 136.8 146 134.6C147.5 132.4 148.6 128.6 150 126.4C151.4 124.2 153.2 121.9 154.6 121.6C156 121.3 157.4 123.2 158.2 124.5C159 125.8 159.1 128.4 159.3 129.2" fill="none" stroke="#169a8b" stroke-width="2" />
<circle cx="133.3" cy="129.8" r="3.4" fill="url(#gd)"/>
<path d="M169.9 131.2C170.2 132 170.6 134.8 171.6 136.2C172.6 137.6 174.5 139.8 176.1 139.5C177.7 139.2 179.4 136.8 181 134.6C182.6 132.4 183.9 128.5 185.5 126.4C187.1 124.3 188.8 122 190.3 121.8C191.8 121.6 193.2 124.3 194.5 125.5C195.8 126.7 197.4 128.4 198 129" fill="none" stroke="#169a8b" stroke-width="2" />
<circle cx="200" cy="131" r="7.5" fill="url(#gr)"/>
<circle cx="211.3" cy="131" r="7.5" fill="url(#gb)"/>
<circle cx="222.5" cy="131" r="7.5" fill="url(#go)"/>
<circle cx="233.8" cy="131" r="7.5" fill="url(#gg)"/>
<circle cx="245.1" cy="131" r="7.5" fill="url(#gr)"/>
<circle cx="256.3" cy="131" r="7.5" fill="url(#gg)"/>
<circle cx="267.6" cy="131" r="7.5" fill="url(#gb)"/>
<path d="M189 275C189 275 189 275 189.5 273.9C189.9 272.8 190.9 270.6 192 269.2C193.1 267.9 194.5 267.4 195.7 268.5C196.9 269.6 197.9 272.2 198.7 274.9C199.5 277.6 200 280.2 200.8 282.2C201.7 284.1 202.9 285.4 204.3 284.8C205.6 284.2 207.2 281.8 208 280.6C208.8 279.4 208.8 279.4 208.8 279.4" fill="none" stroke="#d74f94" stroke-width="2.1"/>
<circle cx="187" cy="276" r="5.4" fill="url(#gg)"/>
<circle cx="178.7" cy="274.3" r="5.4" fill="url(#gr)"/>
<circle cx="170.4" cy="272.7" r="5.4" fill="url(#gb)"/>
<circle cx="162.2" cy="271" r="5.4" fill="url(#go)"/>
<circle cx="153.9" cy="269.3" r="5.4" fill="url(#gg)"/>
<circle cx="145.6" cy="267.7" r="5.4" fill="url(#gr)"/>
<circle cx="137.3" cy="266" r="5.4" fill="url(#gb)"/>
<path d="M136.3 307C136 307.1 135.2 307.5 134.8 307.7C134.4 307.9 134 308.1 133.9 308.3C133.9 308.5 134 308.7 134.3 309C134.5 309.2 135.1 309.5 135.7 309.8C136.4 310.1 137.2 310.4 138 310.8C138.7 311.1 139.6 311.5 140.3 311.9C140.9 312.3 141.6 312.8 142 313.3C142.4 313.8 142.6 314.4 142.7 315C142.8 315.6 142.7 316.4 142.6 317.1C142.5 317.9 142.2 318.8 142 319.6C141.9 320.4 141.7 321.2 141.6 322C141.6 322.7 141.7 323.5 142 324.1C142.2 324.6 142.7 325.1 143.2 325.4C143.8 325.7 144.5 325.9 145.3 326C146 326.1 146.9 326 147.7 326C148.4 326 149.3 325.9 149.9 325.9C150.6 325.9 151.2 326 151.7 326.2C152.1 326.5 152.5 326.9 152.8 327.4C153 327.9 153.2 328.6 153.3 329.3C153.4 330 153.4 330.8 153.4 331.5C153.4 332.2 153.3 332.9 153.3 333.4C153.3 333.9 153.2 334.2 153.3 334.4C153.3 334.5 153.4 334.5 153.6 334.3C153.8 334.1 154.2 333.5 154.3 333.3" fill="none" stroke="#604996" stroke-width="2.1"/>
<path d="M102.9 285.4C103.1 285.5 103.9 285.9 104.3 286.1C104.7 286.2 105.1 286.4 105.3 286.3C105.5 286.3 105.6 286.1 105.6 285.8C105.5 285.4 105.4 284.9 105.2 284.3C105 283.7 104.6 282.9 104.3 282.2C104.1 281.5 103.7 280.8 103.5 280.1C103.3 279.5 103.2 278.9 103.2 278.4C103.2 277.8 103.4 277.4 103.7 277C104 276.5 104.5 276.2 105 275.7C105.5 275.3 106.2 274.9 106.8 274.4C107.4 273.9 108 273.3 108.4 272.7C108.8 272.1 109.2 271.5 109.2 270.9C109.3 270.3 109.2 269.6 108.9 269.1C108.6 268.5 108 268 107.5 267.6C106.9 267.1 106.1 266.7 105.5 266.3C104.8 266 104.1 265.6 103.5 265.3C103 264.9 102.5 264.5 102.2 264.1C102 263.6 101.9 263.1 101.9 262.6C101.9 262 102.1 261.3 102.3 260.7C102.6 260.1 103 259.3 103.3 258.7C103.6 258.2 104 257.6 104.2 257.2C104.5 256.8 104.7 256.5 104.7 256.3C104.7 256.2 104.6 256.2 104.4 256.2C104.2 256.3 103.5 256.6 103.3 256.7" fill="none" stroke="#604996" stroke-width="2.1"/>
<circle cx="142" cy="305.1" r="5.4" fill="url(#gb)"/>
<circle cx="148.1" cy="309.2" r="5.4" fill="url(#go)"/>
<circle cx="154.2" cy="313.4" r="5.4" fill="url(#gr)"/>
<circle cx="160.3" cy="317.5" r="5.4" fill="url(#gb)"/>
<circle cx="166.4" cy="321.6" r="5.4" fill="url(#gg)"/>
<circle cx="172.5" cy="325.8" r="5.4" fill="url(#gb)"/>
<circle cx="178.6" cy="329.9" r="5.4" fill="url(#gr)"/>
<g transform="translate(101.6 284.7) rotate(26.7)">
<path d="M0 0C0.2 0.4 0.6 1.7 0.9 2.3C1.2 2.9 1.5 3.1 1.8 3.4C2.1 3.8 2.4 4 2.8 4.3C3.1 4.5 3.4 4.7 3.7 4.8C4 5 4.3 5.1 4.6 5.2C4.9 5.3 5.2 5.3 5.5 5.3C5.8 5.3 6.1 5.3 6.4 5.2C6.7 5.1 7 5 7.3 4.8C7.7 4.7 8 4.5 8.3 4.3C8.6 4 8.9 3.8 9.2 3.4C9.5 3.1 9.8 2.9 10.1 2.3C10.4 1.7 10.7 0.8 11 0C11.3 -0.8 11.6 -1.7 11.9 -2.3C12.2 -2.9 12.6 -3.1 12.9 -3.4C13.2 -3.8 13.5 -4 13.8 -4.3C14.1 -4.5 14.4 -4.7 14.7 -4.8C15 -5 15.3 -5.1 15.6 -5.2C15.9 -5.3 16.2 -5.3 16.5 -5.3C16.8 -5.3 17.1 -5.3 17.4 -5.2C17.8 -5.1 18.1 -5 18.4 -4.8C18.7 -4.7 19 -4.5 19.3 -4.3C19.6 -4 19.9 -3.8 20.2 -3.4C20.5 -3.1 20.8 -2.9 21.1 -2.3C21.4 -1.7 21.7 -0.8 22 -0C22.3 0.8 22.7 1.7 23 2.3C23.3 2.9 23.6 3.1 23.9 3.4C24.2 3.8 24.5 4 24.8 4.3C25.1 4.5 25.4 4.7 25.7 4.8C26 5 26.3 5.1 26.6 5.2C26.9 5.3 27.2 5.3 27.6 5.3C27.9 5.3 28.2 5.3 28.5 5.2C28.8 5.1 29.1 5 29.4 4.8C29.7 4.7 30 4.5 30.3 4.3C30.6 4 30.9 3.8 31.2 3.4C31.5 3.1 31.8 2.9 32.1 2.3C32.4 1.7 32.8 0.8 33.1 0C33.4 -0.8 33.7 -1.7 34 -2.3C34.3 -2.9 34.6 -3.1 34.9 -3.4C35.2 -3.8 35.5 -4 35.8 -4.3C36.1 -4.5 36.4 -4.7 36.7 -4.8C37 -5 37.3 -5.1 37.7 -5.2C38 -5.3 38.3 -5.3 38.6 -5.3C38.9 -5.3 39.2 -5.3 39.5 -5.2C39.8 -5.1 40.1 -5 40.4 -4.8C40.7 -4.7 41 -4.5 41.3 -4.3C41.6 -4 41.9 -3.8 42.2 -3.4C42.6 -3.1 42.9 -2.9 43.2 -2.3C43.5 -1.7 43.9 -0.4 44.1 -0 L44.1 0 L43.2 2.3 L42.2 3.4 L41.3 4.3 L40.4 4.8 L39.5 5.2 L38.6 5.3 L37.7 5.2 L36.7 4.8 L35.8 4.3 L34.9 3.4 L34 2.3 L33.1 -0 L32.1 -2.3 L31.2 -3.4 L30.3 -4.3 L29.4 -4.8 L28.5 -5.2 L27.6 -5.3 L26.6 -5.2 L25.7 -4.8 L24.8 -4.3 L23.9 -3.4 L23 -2.3 L22 0 L21.1 2.3 L20.2 3.4 L19.3 4.3 L18.4 4.8 L17.4 5.2 L16.5 5.3 L15.6 5.2 L14.7 4.8 L13.8 4.3 L12.9 3.4 L11.9 2.3 L11 -0 L10.1 -2.3 L9.2 -3.4 L8.3 -4.3 L7.3 -4.8 L6.4 -5.2 L5.5 -5.3 L4.6 -5.2 L3.7 -4.8 L2.8 -4.3 L1.8 -3.4 L0.9 -2.3 L0 -0Z" fill="#fff" stroke="none"/>
<path d="M3.7 -4.9V4.9M7.3 -4.9V4.9M14.8 -4.9V4.9M18.3 -4.9V4.9M25.8 -4.9V4.9M29.3 -4.9V4.9M36.8 -4.9V4.9M40.3 -4.9V4.9" fill="none" stroke="#111" stroke-width="1.7" style="stroke-linecap:butt" transform="skewX(-15)"/>
<path d="M0 -0C0.2 -0.4 0.6 -1.7 0.9 -2.3C1.2 -2.9 1.5 -3.1 1.8 -3.4C2.1 -3.8 2.4 -4 2.8 -4.3C3.1 -4.5 3.4 -4.7 3.7 -4.8C4 -5 4.3 -5.1 4.6 -5.2C4.9 -5.3 5.2 -5.3 5.5 -5.3C5.8 -5.3 6.1 -5.3 6.4 -5.2C6.7 -5.1 7 -5 7.3 -4.8C7.7 -4.7 8 -4.5 8.3 -4.3C8.6 -4 8.9 -3.8 9.2 -3.4C9.5 -3.1 9.8 -2.9 10.1 -2.3C10.4 -1.7 10.7 -0.8 11 -0C11.3 0.8 11.6 1.7 11.9 2.3C12.2 2.9 12.6 3.1 12.9 3.4C13.2 3.8 13.5 4 13.8 4.3C14.1 4.5 14.4 4.7 14.7 4.8C15 5 15.3 5.1 15.6 5.2C15.9 5.3 16.2 5.3 16.5 5.3C16.8 5.3 17.1 5.3 17.4 5.2C17.8 5.1 18.1 5 18.4 4.8C18.7 4.7 19 4.5 19.3 4.3C19.6 4 19.9 3.8 20.2 3.4C20.5 3.1 20.8 2.9 21.1 2.3C21.4 1.7 21.7 0.8 22 0C22.3 -0.8 22.7 -1.7 23 -2.3C23.3 -2.9 23.6 -3.1 23.9 -3.4C24.2 -3.8 24.5 -4 24.8 -4.3C25.1 -4.5 25.4 -4.7 25.7 -4.8C26 -5 26.3 -5.1 26.6 -5.2C26.9 -5.3 27.2 -5.3 27.6 -5.3C27.9 -5.3 28.2 -5.3 28.5 -5.2C28.8 -5.1 29.1 -5 29.4 -4.8C29.7 -4.7 30 -4.5 30.3 -4.3C30.6 -4 30.9 -3.8 31.2 -3.4C31.5 -3.1 31.8 -2.9 32.1 -2.3C32.4 -1.7 32.8 -0.8 33.1 -0C33.4 0.8 33.7 1.7 34 2.3C34.3 2.9 34.6 3.1 34.9 3.4C35.2 3.8 35.5 4 35.8 4.3C36.1 4.5 36.4 4.7 36.7 4.8C37 5 37.3 5.1 37.7 5.2C38 5.3 38.3 5.3 38.6 5.3C38.9 5.3 39.2 5.3 39.5 5.2C39.8 5.1 40.1 5 40.4 4.8C40.7 4.7 41 4.5 41.3 4.3C41.6 4 41.9 3.8 42.2 3.4C42.6 3.1 42.9 2.9 43.2 2.3C43.5 1.7 43.9 0.4 44.1 0" fill="none" stroke="#604996" stroke-width="1.9"/>
<path d="M0 0C0.2 0.4 0.6 1.7 0.9 2.3C1.2 2.9 1.5 3.1 1.8 3.4C2.1 3.8 2.4 4 2.8 4.3C3.1 4.5 3.4 4.7 3.7 4.8C4 5 4.3 5.1 4.6 5.2C4.9 5.3 5.2 5.3 5.5 5.3C5.8 5.3 6.1 5.3 6.4 5.2C6.7 5.1 7 5 7.3 4.8C7.7 4.7 8 4.5 8.3 4.3C8.6 4 8.9 3.8 9.2 3.4C9.5 3.1 9.8 2.9 10.1 2.3C10.4 1.7 10.7 0.8 11 0C11.3 -0.8 11.6 -1.7 11.9 -2.3C12.2 -2.9 12.6 -3.1 12.9 -3.4C13.2 -3.8 13.5 -4 13.8 -4.3C14.1 -4.5 14.4 -4.7 14.7 -4.8C15 -5 15.3 -5.1 15.6 -5.2C15.9 -5.3 16.2 -5.3 16.5 -5.3C16.8 -5.3 17.1 -5.3 17.4 -5.2C17.8 -5.1 18.1 -5 18.4 -4.8C18.7 -4.7 19 -4.5 19.3 -4.3C19.6 -4 19.9 -3.8 20.2 -3.4C20.5 -3.1 20.8 -2.9 21.1 -2.3C21.4 -1.7 21.7 -0.8 22 -0C22.3 0.8 22.7 1.7 23 2.3C23.3 2.9 23.6 3.1 23.9 3.4C24.2 3.8 24.5 4 24.8 4.3C25.1 4.5 25.4 4.7 25.7 4.8C26 5 26.3 5.1 26.6 5.2C26.9 5.3 27.2 5.3 27.6 5.3C27.9 5.3 28.2 5.3 28.5 5.2C28.8 5.1 29.1 5 29.4 4.8C29.7 4.7 30 4.5 30.3 4.3C30.6 4 30.9 3.8 31.2 3.4C31.5 3.1 31.8 2.9 32.1 2.3C32.4 1.7 32.8 0.8 33.1 0C33.4 -0.8 33.7 -1.7 34 -2.3C34.3 -2.9 34.6 -3.1 34.9 -3.4C35.2 -3.8 35.5 -4 35.8 -4.3C36.1 -4.5 36.4 -4.7 36.7 -4.8C37 -5 37.3 -5.1 37.7 -5.2C38 -5.3 38.3 -5.3 38.6 -5.3C38.9 -5.3 39.2 -5.3 39.5 -5.2C39.8 -5.1 40.1 -5 40.4 -4.8C40.7 -4.7 41 -4.5 41.3 -4.3C41.6 -4 41.9 -3.8 42.2 -3.4C42.6 -3.1 42.9 -2.9 43.2 -2.3C43.5 -1.7 43.9 -0.4 44.1 -0" fill="none" stroke="#604996" stroke-width="1.9"/>
</g>
<circle cx="102.9" cy="285.4" r="3" fill="url(#gd)"/>
<path d="M219 305C218.8 304.8 218.3 304 218 303.6C217.7 303.3 217.5 303 217.2 303C217 302.9 216.7 303.1 216.5 303.5C216.3 303.8 216.1 304.5 215.9 305.1C215.7 305.8 215.6 306.7 215.4 307.5C215.2 308.3 215 309.2 214.7 309.9C214.4 310.6 214 311.3 213.6 311.8C213.1 312.2 212.5 312.5 211.8 312.7C211.2 312.8 210.4 312.7 209.6 312.6C208.9 312.4 208 312.1 207.3 311.8C206.5 311.5 205.8 311 205.1 310.8C204.5 310.6 203.9 310.3 203.4 310.3C202.9 310.3 202.4 310.4 202 310.7C201.5 311 201 311.5 200.5 312C200 312.5 199.4 313.2 198.9 313.7C198.3 314.3 197.7 314.9 197 315.3C196.4 315.6 195.8 315.9 195.2 316C194.6 316 194.1 315.9 193.5 315.6C193 315.3 192.5 314.8 192 314.2C191.6 313.7 191.1 312.9 190.7 312.3C190.4 311.7 190 311 189.7 310.6C189.5 310.2 189.3 309.8 189.2 309.7C189 309.6 188.9 309.7 188.9 309.9C188.8 310.2 188.7 310.9 188.7 311.1" fill="none" stroke="#d74f94" stroke-width="2.1"/>
<path d="M259.3 310.3C259 310.3 258.1 310.5 257.6 310.4C257.2 310.4 256.8 310.4 256.6 310.2C256.4 309.9 256.4 309.6 256.5 309.1C256.6 308.6 257 307.9 257.4 307.3C257.9 306.7 258.5 306 259.1 305.4C259.7 304.9 260.4 304.4 260.9 303.9C261.4 303.5 261.9 303.2 262.2 302.8C262.5 302.4 262.6 302.1 262.7 301.5C262.8 301 262.6 300.4 262.6 299.7C262.5 299 262.4 298.1 262.4 297.3C262.5 296.5 262.6 295.6 262.8 294.8C263.1 294.1 263.4 293.4 263.9 293C264.4 292.5 265 292.2 265.6 292.1C266.3 292 267 292.2 267.7 292.4C268.4 292.6 269.1 293 269.8 293.3C270.5 293.6 271.2 294 271.8 294.2C272.4 294.4 273 294.5 273.5 294.4C274 294.3 274.4 294 274.7 293.5C275 293.1 275.2 292.4 275.3 291.8C275.4 291.1 275.3 290.3 275.3 289.6C275.2 289 275.1 288.3 275 287.8C275 287.3 274.9 286.9 274.9 286.7C275 286.6 275.1 286.6 275.3 286.8C275.5 286.9 276 287.5 276.2 287.7" fill="none" stroke="#d74f94" stroke-width="2.1"/>
<circle cx="219" cy="302.8" r="5.4" fill="url(#gg)"/>
<circle cx="211" cy="301.6" r="5.4" fill="url(#gr)"/>
<circle cx="203.1" cy="300.4" r="5.4" fill="url(#gb)"/>
<circle cx="195.1" cy="299.2" r="5.4" fill="url(#go)"/>
<circle cx="187.1" cy="298.1" r="5.4" fill="url(#gg)"/>
<circle cx="179.2" cy="296.9" r="5.4" fill="url(#gr)"/>
<circle cx="171.2" cy="295.7" r="5.4" fill="url(#gb)"/>
<g transform="translate(260.8 310.6) rotate(-169.5)">
<path d="M0 0C0.1 0.4 0.6 1.7 0.9 2.3C1.1 2.9 1.4 3.1 1.7 3.4C2 3.8 2.3 4 2.6 4.3C2.9 4.5 3.2 4.7 3.4 4.8C3.7 5 4 5.1 4.3 5.2C4.6 5.3 4.9 5.3 5.2 5.3C5.4 5.3 5.7 5.3 6 5.2C6.3 5.1 6.6 5 6.9 4.8C7.2 4.7 7.5 4.5 7.7 4.3C8 4 8.3 3.8 8.6 3.4C8.9 3.1 9.2 2.9 9.5 2.3C9.7 1.7 10 0.8 10.3 0C10.6 -0.8 10.9 -1.7 11.2 -2.3C11.5 -2.9 11.8 -3.1 12 -3.4C12.3 -3.8 12.6 -4 12.9 -4.3C13.2 -4.5 13.5 -4.7 13.8 -4.8C14.1 -5 14.3 -5.1 14.6 -5.2C14.9 -5.3 15.2 -5.3 15.5 -5.3C15.8 -5.3 16.1 -5.3 16.3 -5.2C16.6 -5.1 16.9 -5 17.2 -4.8C17.5 -4.7 17.8 -4.5 18.1 -4.3C18.4 -4 18.6 -3.8 18.9 -3.4C19.2 -3.1 19.5 -2.9 19.8 -2.3C20.1 -1.7 20.4 -0.8 20.6 -0C20.9 0.8 21.2 1.7 21.5 2.3C21.8 2.9 22.1 3.1 22.4 3.4C22.7 3.8 22.9 4 23.2 4.3C23.5 4.5 23.8 4.7 24.1 4.8C24.4 5 24.7 5.1 24.9 5.2C25.2 5.3 25.5 5.3 25.8 5.3C26.1 5.3 26.4 5.3 26.7 5.2C27 5.1 27.2 5 27.5 4.8C27.8 4.7 28.1 4.5 28.4 4.3C28.7 4 29 3.8 29.2 3.4C29.5 3.1 29.8 2.9 30.1 2.3C30.4 1.7 30.7 0.8 31 0C31.3 -0.8 31.5 -1.7 31.8 -2.3C32.1 -2.9 32.4 -3.1 32.7 -3.4C33 -3.8 33.3 -4 33.5 -4.3C33.8 -4.5 34.1 -4.7 34.4 -4.8C34.7 -5 35 -5.1 35.3 -5.2C35.6 -5.3 35.8 -5.3 36.1 -5.3C36.4 -5.3 36.7 -5.3 37 -5.2C37.3 -5.1 37.6 -5 37.9 -4.8C38.1 -4.7 38.4 -4.5 38.7 -4.3C39 -4 39.3 -3.8 39.6 -3.4C39.9 -3.1 40.1 -2.9 40.4 -2.3C40.7 -1.7 41.1 -0.4 41.3 -0 L41.3 0 L40.4 2.3 L39.6 3.4 L38.7 4.3 L37.9 4.8 L37 5.2 L36.1 5.3 L35.3 5.2 L34.4 4.8 L33.5 4.3 L32.7 3.4 L31.8 2.3 L31 -0 L30.1 -2.3 L29.2 -3.4 L28.4 -4.3 L27.5 -4.8 L26.7 -5.2 L25.8 -5.3 L24.9 -5.2 L24.1 -4.8 L23.2 -4.3 L22.4 -3.4 L21.5 -2.3 L20.6 0 L19.8 2.3 L18.9 3.4 L18.1 4.3 L17.2 4.8 L16.3 5.2 L15.5 5.3 L14.6 5.2 L13.8 4.8 L12.9 4.3 L12 3.4 L11.2 2.3 L10.3 -0 L9.5 -2.3 L8.6 -3.4 L7.7 -4.3 L6.9 -4.8 L6 -5.2 L5.2 -5.3 L4.3 -5.2 L3.4 -4.8 L2.6 -4.3 L1.7 -3.4 L0.9 -2.3 L0 -0Z" fill="#fff" stroke="none"/>
<path d="M3.5 -4.9V4.9M6.8 -4.9V4.9M13.8 -4.9V4.9M17.1 -4.9V4.9M24.2 -4.9V4.9M27.5 -4.9V4.9M34.5 -4.9V4.9M37.8 -4.9V4.9" fill="none" stroke="#111" stroke-width="1.7" style="stroke-linecap:butt" transform="skewX(-15)"/>
<path d="M0 -0C0.1 -0.4 0.6 -1.7 0.9 -2.3C1.1 -2.9 1.4 -3.1 1.7 -3.4C2 -3.8 2.3 -4 2.6 -4.3C2.9 -4.5 3.2 -4.7 3.4 -4.8C3.7 -5 4 -5.1 4.3 -5.2C4.6 -5.3 4.9 -5.3 5.2 -5.3C5.4 -5.3 5.7 -5.3 6 -5.2C6.3 -5.1 6.6 -5 6.9 -4.8C7.2 -4.7 7.5 -4.5 7.7 -4.3C8 -4 8.3 -3.8 8.6 -3.4C8.9 -3.1 9.2 -2.9 9.5 -2.3C9.7 -1.7 10 -0.8 10.3 -0C10.6 0.8 10.9 1.7 11.2 2.3C11.5 2.9 11.8 3.1 12 3.4C12.3 3.8 12.6 4 12.9 4.3C13.2 4.5 13.5 4.7 13.8 4.8C14.1 5 14.3 5.1 14.6 5.2C14.9 5.3 15.2 5.3 15.5 5.3C15.8 5.3 16.1 5.3 16.3 5.2C16.6 5.1 16.9 5 17.2 4.8C17.5 4.7 17.8 4.5 18.1 4.3C18.4 4 18.6 3.8 18.9 3.4C19.2 3.1 19.5 2.9 19.8 2.3C20.1 1.7 20.4 0.8 20.6 0C20.9 -0.8 21.2 -1.7 21.5 -2.3C21.8 -2.9 22.1 -3.1 22.4 -3.4C22.7 -3.8 22.9 -4 23.2 -4.3C23.5 -4.5 23.8 -4.7 24.1 -4.8C24.4 -5 24.7 -5.1 24.9 -5.2C25.2 -5.3 25.5 -5.3 25.8 -5.3C26.1 -5.3 26.4 -5.3 26.7 -5.2C27 -5.1 27.2 -5 27.5 -4.8C27.8 -4.7 28.1 -4.5 28.4 -4.3C28.7 -4 29 -3.8 29.2 -3.4C29.5 -3.1 29.8 -2.9 30.1 -2.3C30.4 -1.7 30.7 -0.8 31 -0C31.3 0.8 31.5 1.7 31.8 2.3C32.1 2.9 32.4 3.1 32.7 3.4C33 3.8 33.3 4 33.5 4.3C33.8 4.5 34.1 4.7 34.4 4.8C34.7 5 35 5.1 35.3 5.2C35.6 5.3 35.8 5.3 36.1 5.3C36.4 5.3 36.7 5.3 37 5.2C37.3 5.1 37.6 5 37.9 4.8C38.1 4.7 38.4 4.5 38.7 4.3C39 4 39.3 3.8 39.6 3.4C39.9 3.1 40.1 2.9 40.4 2.3C40.7 1.7 41.1 0.4 41.3 0" fill="none" stroke="#d74f94" stroke-width="1.9"/>
<path d="M0 0C0.1 0.4 0.6 1.7 0.9 2.3C1.1 2.9 1.4 3.1 1.7 3.4C2 3.8 2.3 4 2.6 4.3C2.9 4.5 3.2 4.7 3.4 4.8C3.7 5 4 5.1 4.3 5.2C4.6 5.3 4.9 5.3 5.2 5.3C5.4 5.3 5.7 5.3 6 5.2C6.3 5.1 6.6 5 6.9 4.8C7.2 4.7 7.5 4.5 7.7 4.3C8 4 8.3 3.8 8.6 3.4C8.9 3.1 9.2 2.9 9.5 2.3C9.7 1.7 10 0.8 10.3 0C10.6 -0.8 10.9 -1.7 11.2 -2.3C11.5 -2.9 11.8 -3.1 12 -3.4C12.3 -3.8 12.6 -4 12.9 -4.3C13.2 -4.5 13.5 -4.7 13.8 -4.8C14.1 -5 14.3 -5.1 14.6 -5.2C14.9 -5.3 15.2 -5.3 15.5 -5.3C15.8 -5.3 16.1 -5.3 16.3 -5.2C16.6 -5.1 16.9 -5 17.2 -4.8C17.5 -4.7 17.8 -4.5 18.1 -4.3C18.4 -4 18.6 -3.8 18.9 -3.4C19.2 -3.1 19.5 -2.9 19.8 -2.3C20.1 -1.7 20.4 -0.8 20.6 -0C20.9 0.8 21.2 1.7 21.5 2.3C21.8 2.9 22.1 3.1 22.4 3.4C22.7 3.8 22.9 4 23.2 4.3C23.5 4.5 23.8 4.7 24.1 4.8C24.4 5 24.7 5.1 24.9 5.2C25.2 5.3 25.5 5.3 25.8 5.3C26.1 5.3 26.4 5.3 26.7 5.2C27 5.1 27.2 5 27.5 4.8C27.8 4.7 28.1 4.5 28.4 4.3C28.7 4 29 3.8 29.2 3.4C29.5 3.1 29.8 2.9 30.1 2.3C30.4 1.7 30.7 0.8 31 0C31.3 -0.8 31.5 -1.7 31.8 -2.3C32.1 -2.9 32.4 -3.1 32.7 -3.4C33 -3.8 33.3 -4 33.5 -4.3C33.8 -4.5 34.1 -4.7 34.4 -4.8C34.7 -5 35 -5.1 35.3 -5.2C35.6 -5.3 35.8 -5.3 36.1 -5.3C36.4 -5.3 36.7 -5.3 37 -5.2C37.3 -5.1 37.6 -5 37.9 -4.8C38.1 -4.7 38.4 -4.5 38.7 -4.3C39 -4 39.3 -3.8 39.6 -3.4C39.9 -3.1 40.1 -2.9 40.4 -2.3C40.7 -1.7 41.1 -0.4 41.3 -0" fill="none" stroke="#d74f94" stroke-width="1.9"/>
</g>
<circle cx="259.3" cy="310.3" r="3" fill="url(#gd)"/>
<path d="M42.1 305.9C42.4 306.8 42.9 309.8 44 311C45.1 312.2 47 313.6 48.8 313.4C50.5 313.2 53.2 311.7 54.5 310C55.8 308.3 55.8 305.3 56.5 303C57.2 300.7 57.4 297.7 58.5 296C59.6 294.3 61.7 292.6 63.1 293C64.5 293.4 66.4 297.2 67.1 298.1" fill="none" stroke="#169a8b" stroke-width="2.1" />
<circle cx="42.1" cy="305.9" r="3" fill="url(#gd)"/>
<path d="M220 349.2C219.8 348.5 219.5 346.4 218.8 345C218.1 343.6 217.3 341.8 216 341C214.7 340.2 212.6 339.6 211.2 340.1C209.8 340.6 208.5 342.2 207.5 344C206.5 345.8 205.9 348.9 205 351C204.1 353.1 203.3 356 202.1 356.8C200.8 357.6 198.7 356.7 197.5 356C196.3 355.3 195.3 353.1 194.9 352.5" fill="none" stroke="#d74f94" stroke-width="2.1" />
<circle cx="220" cy="349.2" r="3" fill="url(#gd)"/>
<path d="M58 342.9C58 342.9 58 342.9 58.5 343.7C59.1 344.5 60.1 346.2 61.2 346.6C62.3 347.1 63.4 346.4 64.1 344.5C64.8 342.7 65.1 339.7 65.5 337C65.9 334.3 66.4 331.9 67.2 330.3C68 328.8 69 328.1 70.3 328.6C71.5 329.2 72.9 330.9 73.6 331.8C74.3 332.7 74.3 332.7 74.3 332.7" fill="none" stroke="#169a8b" stroke-width="2.1"/>
<circle cx="56" cy="341.9" r="5.4" fill="url(#gr)"/>
<circle cx="49.5" cy="345.7" r="5.4" fill="url(#gb)"/>
<circle cx="43.1" cy="349.6" r="5.4" fill="url(#go)"/>
<circle cx="36.6" cy="353.4" r="5.4" fill="url(#gg)"/>
<circle cx="30.2" cy="357.2" r="5.4" fill="url(#gr)"/>
<circle cx="23.7" cy="361.1" r="5.4" fill="url(#gg)"/>
<circle cx="17.3" cy="364.9" r="5.4" fill="url(#gb)"/>
<path d="M77 383C77.2 383.1 78 383.6 78.3 383.8C78.6 384.1 78.9 384.3 79 384.5C79 384.7 78.9 384.9 78.6 385C78.3 385.2 77.8 385.3 77.2 385.5C76.6 385.6 75.8 385.8 75.1 385.9C74.3 386.1 73.5 386.3 72.9 386.5C72.2 386.7 71.6 387 71.2 387.3C70.7 387.7 70.4 388.1 70.3 388.6C70.1 389.1 70 389.8 70 390.5C70 391.2 70.1 392 70 392.7C70 393.5 70 394.3 69.8 395C69.6 395.7 69.4 396.3 69 396.8C68.6 397.2 68.1 397.5 67.5 397.7C67 397.8 66.3 397.8 65.6 397.7C64.9 397.6 64.1 397.3 63.4 397.1C62.7 396.9 62 396.5 61.4 396.4C60.8 396.3 60.3 396.2 59.8 396.3C59.3 396.4 58.9 396.6 58.6 397C58.2 397.4 58 398 57.7 398.6C57.5 399.2 57.3 399.9 57.2 400.5C57 401.1 56.9 401.8 56.8 402.2C56.7 402.7 56.7 403 56.6 403.1C56.5 403.2 56.5 403.2 56.4 403C56.2 402.8 56 402.1 55.9 401.9" fill="none" stroke="#604996" stroke-width="2.1"/>
<path d="M118.8 368.8C118.5 368.9 117.6 369.2 117.2 369.2C116.8 369.3 116.4 369.4 116.1 369.2C115.9 369.1 115.9 368.8 115.9 368.4C116 368 116.2 367.3 116.5 366.7C116.8 366 117.2 365.2 117.6 364.5C118 363.7 118.5 363 118.8 362.3C119.1 361.6 119.3 361 119.4 360.4C119.5 359.9 119.4 359.4 119.1 358.9C118.9 358.4 118.4 357.9 118 357.4C117.5 356.9 116.9 356.3 116.4 355.7C116 355.1 115.4 354.3 115.2 353.7C114.9 353 114.8 352.2 114.9 351.6C115 351 115.3 350.4 115.8 350C116.2 349.6 117 349.3 117.7 349.1C118.4 348.8 119.2 348.8 120 348.7C120.7 348.6 121.5 348.6 122.2 348.5C122.8 348.4 123.4 348.3 123.8 348C124.2 347.7 124.4 347.2 124.6 346.7C124.8 346.2 124.8 345.5 124.7 344.8C124.7 344.1 124.5 343.3 124.4 342.6C124.2 342 124 341.3 123.9 340.8C123.8 340.3 123.7 339.9 123.8 339.7C123.8 339.6 123.9 339.6 124.1 339.7C124.3 339.9 124.9 340.4 125.1 340.5" fill="none" stroke="#604996" stroke-width="2.1"/>
<circle cx="78.3" cy="378.8" r="5.4" fill="url(#gb)"/>
<circle cx="70.7" cy="381.2" r="5.4" fill="url(#go)"/>
<circle cx="63.1" cy="383.7" r="5.4" fill="url(#gr)"/>
<circle cx="55.5" cy="386.1" r="5.4" fill="url(#gb)"/>
<circle cx="47.8" cy="388.5" r="5.4" fill="url(#gg)"/>
<circle cx="40.2" cy="391" r="5.4" fill="url(#gb)"/>
<circle cx="32.6" cy="393.4" r="5.4" fill="url(#gr)"/>
<g transform="translate(120.3 368.4) rotate(166.1)">
<path d="M0 0C0.1 0.4 0.6 1.7 0.9 2.3C1.2 2.9 1.5 3.1 1.8 3.4C2 3.8 2.3 4 2.6 4.3C2.9 4.5 3.2 4.7 3.5 4.8C3.8 5 4.1 5.1 4.4 5.2C4.7 5.3 5 5.3 5.3 5.3C5.5 5.3 5.8 5.3 6.1 5.2C6.4 5.1 6.7 5 7 4.8C7.3 4.7 7.6 4.5 7.9 4.3C8.2 4 8.5 3.8 8.8 3.4C9 3.1 9.3 2.9 9.6 2.3C9.9 1.7 10.2 0.8 10.5 0C10.8 -0.8 11.1 -1.7 11.4 -2.3C11.7 -2.9 12 -3.1 12.3 -3.4C12.5 -3.8 12.8 -4 13.1 -4.3C13.4 -4.5 13.7 -4.7 14 -4.8C14.3 -5 14.6 -5.1 14.9 -5.2C15.2 -5.3 15.5 -5.3 15.8 -5.3C16 -5.3 16.3 -5.3 16.6 -5.2C16.9 -5.1 17.2 -5 17.5 -4.8C17.8 -4.7 18.1 -4.5 18.4 -4.3C18.7 -4 19 -3.8 19.3 -3.4C19.5 -3.1 19.8 -2.9 20.1 -2.3C20.4 -1.7 20.7 -0.8 21 -0C21.3 0.8 21.6 1.7 21.9 2.3C22.2 2.9 22.5 3.1 22.8 3.4C23.1 3.8 23.3 4 23.6 4.3C23.9 4.5 24.2 4.7 24.5 4.8C24.8 5 25.1 5.1 25.4 5.2C25.7 5.3 26 5.3 26.3 5.3C26.6 5.3 26.8 5.3 27.1 5.2C27.4 5.1 27.7 5 28 4.8C28.3 4.7 28.6 4.5 28.9 4.3C29.2 4 29.5 3.8 29.8 3.4C30.1 3.1 30.3 2.9 30.6 2.3C30.9 1.7 31.2 0.8 31.5 0C31.8 -0.8 32.1 -1.7 32.4 -2.3C32.7 -2.9 33 -3.1 33.3 -3.4C33.6 -3.8 33.8 -4 34.1 -4.3C34.4 -4.5 34.7 -4.7 35 -4.8C35.3 -5 35.6 -5.1 35.9 -5.2C36.2 -5.3 36.5 -5.3 36.8 -5.3C37.1 -5.3 37.3 -5.3 37.6 -5.2C37.9 -5.1 38.2 -5 38.5 -4.8C38.8 -4.7 39.1 -4.5 39.4 -4.3C39.7 -4 40 -3.8 40.3 -3.4C40.6 -3.1 40.8 -2.9 41.1 -2.3C41.4 -1.7 41.9 -0.4 42 -0 L42 0 L41.1 2.3 L40.3 3.4 L39.4 4.3 L38.5 4.8 L37.6 5.2 L36.8 5.3 L35.9 5.2 L35 4.8 L34.1 4.3 L33.3 3.4 L32.4 2.3 L31.5 -0 L30.6 -2.3 L29.8 -3.4 L28.9 -4.3 L28 -4.8 L27.1 -5.2 L26.3 -5.3 L25.4 -5.2 L24.5 -4.8 L23.6 -4.3 L22.8 -3.4 L21.9 -2.3 L21 0 L20.1 2.3 L19.3 3.4 L18.4 4.3 L17.5 4.8 L16.6 5.2 L15.8 5.3 L14.9 5.2 L14 4.8 L13.1 4.3 L12.3 3.4 L11.4 2.3 L10.5 -0 L9.6 -2.3 L8.8 -3.4 L7.9 -4.3 L7 -4.8 L6.1 -5.2 L5.3 -5.3 L4.4 -5.2 L3.5 -4.8 L2.6 -4.3 L1.8 -3.4 L0.9 -2.3 L0 -0Z" fill="#fff" stroke="none"/>
<path d="M3.6 -4.9V4.9M6.9 -4.9V4.9M14.1 -4.9V4.9M17.4 -4.9V4.9M24.6 -4.9V4.9M27.9 -4.9V4.9M35.1 -4.9V4.9M38.4 -4.9V4.9" fill="none" stroke="#111" stroke-width="1.7" style="stroke-linecap:butt" transform="skewX(-15)"/>
<path d="M0 -0C0.1 -0.4 0.6 -1.7 0.9 -2.3C1.2 -2.9 1.5 -3.1 1.8 -3.4C2 -3.8 2.3 -4 2.6 -4.3C2.9 -4.5 3.2 -4.7 3.5 -4.8C3.8 -5 4.1 -5.1 4.4 -5.2C4.7 -5.3 5 -5.3 5.3 -5.3C5.5 -5.3 5.8 -5.3 6.1 -5.2C6.4 -5.1 6.7 -5 7 -4.8C7.3 -4.7 7.6 -4.5 7.9 -4.3C8.2 -4 8.5 -3.8 8.8 -3.4C9 -3.1 9.3 -2.9 9.6 -2.3C9.9 -1.7 10.2 -0.8 10.5 -0C10.8 0.8 11.1 1.7 11.4 2.3C11.7 2.9 12 3.1 12.3 3.4C12.5 3.8 12.8 4 13.1 4.3C13.4 4.5 13.7 4.7 14 4.8C14.3 5 14.6 5.1 14.9 5.2C15.2 5.3 15.5 5.3 15.8 5.3C16 5.3 16.3 5.3 16.6 5.2C16.9 5.1 17.2 5 17.5 4.8C17.8 4.7 18.1 4.5 18.4 4.3C18.7 4 19 3.8 19.3 3.4C19.5 3.1 19.8 2.9 20.1 2.3C20.4 1.7 20.7 0.8 21 0C21.3 -0.8 21.6 -1.7 21.9 -2.3C22.2 -2.9 22.5 -3.1 22.8 -3.4C23.1 -3.8 23.3 -4 23.6 -4.3C23.9 -4.5 24.2 -4.7 24.5 -4.8C24.8 -5 25.1 -5.1 25.4 -5.2C25.7 -5.3 26 -5.3 26.3 -5.3C26.6 -5.3 26.8 -5.3 27.1 -5.2C27.4 -5.1 27.7 -5 28 -4.8C28.3 -4.7 28.6 -4.5 28.9 -4.3C29.2 -4 29.5 -3.8 29.8 -3.4C30.1 -3.1 30.3 -2.9 30.6 -2.3C30.9 -1.7 31.2 -0.8 31.5 -0C31.8 0.8 32.1 1.7 32.4 2.3C32.7 2.9 33 3.1 33.3 3.4C33.6 3.8 33.8 4 34.1 4.3C34.4 4.5 34.7 4.7 35 4.8C35.3 5 35.6 5.1 35.9 5.2C36.2 5.3 36.5 5.3 36.8 5.3C37.1 5.3 37.3 5.3 37.6 5.2C37.9 5.1 38.2 5 38.5 4.8C38.8 4.7 39.1 4.5 39.4 4.3C39.7 4 40 3.8 40.3 3.4C40.6 3.1 40.8 2.9 41.1 2.3C41.4 1.7 41.9 0.4 42 0" fill="none" stroke="#604996" stroke-width="1.9"/>
<path d="M0 0C0.1 0.4 0.6 1.7 0.9 2.3C1.2 2.9 1.5 3.1 1.8 3.4C2 3.8 2.3 4 2.6 4.3C2.9 4.5 3.2 4.7 3.5 4.8C3.8 5 4.1 5.1 4.4 5.2C4.7 5.3 5 5.3 5.3 5.3C5.5 5.3 5.8 5.3 6.1 5.2C6.4 5.1 6.7 5 7 4.8C7.3 4.7 7.6 4.5 7.9 4.3C8.2 4 8.5 3.8 8.8 3.4C9 3.1 9.3 2.9 9.6 2.3C9.9 1.7 10.2 0.8 10.5 0C10.8 -0.8 11.1 -1.7 11.4 -2.3C11.7 -2.9 12 -3.1 12.3 -3.4C12.5 -3.8 12.8 -4 13.1 -4.3C13.4 -4.5 13.7 -4.7 14 -4.8C14.3 -5 14.6 -5.1 14.9 -5.2C15.2 -5.3 15.5 -5.3 15.8 -5.3C16 -5.3 16.3 -5.3 16.6 -5.2C16.9 -5.1 17.2 -5 17.5 -4.8C17.8 -4.7 18.1 -4.5 18.4 -4.3C18.7 -4 19 -3.8 19.3 -3.4C19.5 -3.1 19.8 -2.9 20.1 -2.3C20.4 -1.7 20.7 -0.8 21 -0C21.3 0.8 21.6 1.7 21.9 2.3C22.2 2.9 22.5 3.1 22.8 3.4C23.1 3.8 23.3 4 23.6 4.3C23.9 4.5 24.2 4.7 24.5 4.8C24.8 5 25.1 5.1 25.4 5.2C25.7 5.3 26 5.3 26.3 5.3C26.6 5.3 26.8 5.3 27.1 5.2C27.4 5.1 27.7 5 28 4.8C28.3 4.7 28.6 4.5 28.9 4.3C29.2 4 29.5 3.8 29.8 3.4C30.1 3.1 30.3 2.9 30.6 2.3C30.9 1.7 31.2 0.8 31.5 0C31.8 -0.8 32.1 -1.7 32.4 -2.3C32.7 -2.9 33 -3.1 33.3 -3.4C33.6 -3.8 33.8 -4 34.1 -4.3C34.4 -4.5 34.7 -4.7 35 -4.8C35.3 -5 35.6 -5.1 35.9 -5.2C36.2 -5.3 36.5 -5.3 36.8 -5.3C37.1 -5.3 37.3 -5.3 37.6 -5.2C37.9 -5.1 38.2 -5 38.5 -4.8C38.8 -4.7 39.1 -4.5 39.4 -4.3C39.7 -4 40 -3.8 40.3 -3.4C40.6 -3.1 40.8 -2.9 41.1 -2.3C41.4 -1.7 41.9 -0.4 42 -0" fill="none" stroke="#604996" stroke-width="1.9"/>
</g>
<circle cx="118.8" cy="368.8" r="3" fill="url(#gd)"/>
<path d="M121.5 353.5C121.2 353.5 120.3 353.5 119.8 353.6C119.4 353.6 119 353.7 118.8 353.8C118.7 354 118.7 354.3 118.9 354.6C119.1 354.9 119.5 355.4 119.9 355.9C120.4 356.4 121.1 356.9 121.7 357.4C122.3 357.9 123 358.4 123.5 358.8C124 359.3 124.5 359.6 124.7 360C124.9 360.4 125 360.8 125 361.3C124.9 361.8 124.6 362.3 124.4 362.9C124.2 363.5 123.8 364.2 123.7 364.9C123.5 365.7 123.3 366.5 123.3 367.2C123.4 367.9 123.6 368.6 123.9 369.1C124.2 369.6 124.8 370 125.4 370.2C125.9 370.4 126.7 370.3 127.4 370.3C128.2 370.2 129 369.9 129.8 369.7C130.5 369.6 131.3 369.3 132 369.3C132.7 369.2 133.4 369.2 134 369.4C134.5 369.6 135 370 135.4 370.5C135.8 371 136.1 371.8 136.3 372.5C136.6 373.2 136.7 374.1 136.9 374.9C137 375.6 137.1 376.4 137.2 377C137.2 377.5 137.3 377.9 137.4 378.1C137.5 378.3 137.6 378.2 137.8 378.1C138 377.9 138.4 377.2 138.5 377.1" fill="none" stroke="#169a8b" stroke-width="2.1"/>
<path d="M83.5 332.2C83.7 332.3 84.6 332.7 85 332.8C85.4 332.9 85.7 333.1 85.9 333C86.1 332.9 86.2 332.8 86.1 332.5C86.1 332.2 85.9 331.7 85.6 331.1C85.4 330.6 85 329.9 84.6 329.3C84.3 328.6 83.9 327.9 83.7 327.3C83.4 326.8 83.2 326.2 83.2 325.7C83.2 325.3 83.3 324.9 83.5 324.4C83.8 324 84.3 323.7 84.8 323.2C85.3 322.8 86 322.4 86.5 321.9C87 321.4 87.7 320.8 88 320.2C88.4 319.7 88.7 319 88.8 318.4C88.8 317.8 88.7 317.2 88.4 316.7C88 316.2 87.5 315.7 86.9 315.2C86.3 314.8 85.6 314.4 84.9 314C84.2 313.6 83.5 313.3 83 312.9C82.4 312.5 81.9 312.1 81.6 311.6C81.3 311.1 81.2 310.5 81.2 309.9C81.2 309.3 81.4 308.6 81.6 308C81.9 307.3 82.2 306.5 82.5 305.9C82.8 305.3 83.2 304.7 83.4 304.3C83.7 303.8 83.9 303.5 83.9 303.4C83.9 303.2 83.8 303.2 83.6 303.3C83.4 303.3 82.7 303.6 82.5 303.7" fill="none" stroke="#169a8b" stroke-width="2.1"/>
<circle cx="122" cy="350.3" r="5.4" fill="url(#gr)"/>
<circle cx="128.9" cy="353.9" r="5.4" fill="url(#gb)"/>
<circle cx="135.8" cy="357.5" r="5.4" fill="url(#go)"/>
<circle cx="142.8" cy="361.1" r="5.4" fill="url(#gg)"/>
<circle cx="149.7" cy="364.8" r="5.4" fill="url(#gr)"/>
<circle cx="156.6" cy="368.4" r="5.4" fill="url(#gg)"/>
<circle cx="163.5" cy="372" r="5.4" fill="url(#gb)"/>
<g transform="translate(82.1 331.6) rotate(25.2)">
<path d="M0 0C0.1 0.4 0.6 1.7 0.9 2.3C1.2 2.9 1.5 3.1 1.8 3.4C2.1 3.8 2.4 4 2.7 4.3C3 4.5 3.3 4.7 3.6 4.8C3.9 5 4.2 5.1 4.5 5.2C4.8 5.3 5.1 5.3 5.4 5.3C5.7 5.3 6 5.3 6.2 5.2C6.5 5.1 6.8 5 7.1 4.8C7.4 4.7 7.7 4.5 8 4.3C8.3 4 8.6 3.8 8.9 3.4C9.2 3.1 9.5 2.9 9.8 2.3C10.1 1.7 10.4 0.8 10.7 0C11 -0.8 11.3 -1.7 11.6 -2.3C11.9 -2.9 12.2 -3.1 12.5 -3.4C12.8 -3.8 13.1 -4 13.4 -4.3C13.7 -4.5 14 -4.7 14.3 -4.8C14.6 -5 14.9 -5.1 15.2 -5.2C15.5 -5.3 15.8 -5.3 16.1 -5.3C16.4 -5.3 16.7 -5.3 17 -5.2C17.3 -5.1 17.6 -5 17.9 -4.8C18.1 -4.7 18.4 -4.5 18.7 -4.3C19 -4 19.3 -3.8 19.6 -3.4C19.9 -3.1 20.2 -2.9 20.5 -2.3C20.8 -1.7 21.1 -0.8 21.4 -0C21.7 0.8 22 1.7 22.3 2.3C22.6 2.9 22.9 3.1 23.2 3.4C23.5 3.8 23.8 4 24.1 4.3C24.4 4.5 24.7 4.7 25 4.8C25.3 5 25.6 5.1 25.9 5.2C26.2 5.3 26.5 5.3 26.8 5.3C27.1 5.3 27.4 5.3 27.7 5.2C28 5.1 28.3 5 28.6 4.8C28.9 4.7 29.2 4.5 29.5 4.3C29.8 4 30 3.8 30.3 3.4C30.6 3.1 30.9 2.9 31.2 2.3C31.5 1.7 31.8 0.8 32.1 0C32.4 -0.8 32.7 -1.7 33 -2.3C33.3 -2.9 33.6 -3.1 33.9 -3.4C34.2 -3.8 34.5 -4 34.8 -4.3C35.1 -4.5 35.4 -4.7 35.7 -4.8C36 -5 36.3 -5.1 36.6 -5.2C36.9 -5.3 37.2 -5.3 37.5 -5.3C37.8 -5.3 38.1 -5.3 38.4 -5.2C38.7 -5.1 39 -5 39.3 -4.8C39.6 -4.7 39.9 -4.5 40.2 -4.3C40.5 -4 40.8 -3.8 41.1 -3.4C41.4 -3.1 41.7 -2.9 41.9 -2.3C42.2 -1.7 42.7 -0.4 42.8 -0 L42.8 0 L41.9 2.3 L41.1 3.4 L40.2 4.3 L39.3 4.8 L38.4 5.2 L37.5 5.3 L36.6 5.2 L35.7 4.8 L34.8 4.3 L33.9 3.4 L33 2.3 L32.1 -0 L31.2 -2.3 L30.3 -3.4 L29.5 -4.3 L28.6 -4.8 L27.7 -5.2 L26.8 -5.3 L25.9 -5.2 L25 -4.8 L24.1 -4.3 L23.2 -3.4 L22.3 -2.3 L21.4 0 L20.5 2.3 L19.6 3.4 L18.7 4.3 L17.9 4.8 L17 5.2 L16.1 5.3 L15.2 5.2 L14.3 4.8 L13.4 4.3 L12.5 3.4 L11.6 2.3 L10.7 -0 L9.8 -2.3 L8.9 -3.4 L8 -4.3 L7.1 -4.8 L6.2 -5.2 L5.4 -5.3 L4.5 -5.2 L3.6 -4.8 L2.7 -4.3 L1.8 -3.4 L0.9 -2.3 L0 -0Z" fill="#fff" stroke="none"/>
<path d="M3.6 -4.9V4.9M7.1 -4.9V4.9M14.4 -4.9V4.9M17.8 -4.9V4.9M25.1 -4.9V4.9M28.5 -4.9V4.9M35.8 -4.9V4.9M39.2 -4.9V4.9" fill="none" stroke="#111" stroke-width="1.7" style="stroke-linecap:butt" transform="skewX(-15)"/>
<path d="M0 -0C0.1 -0.4 0.6 -1.7 0.9 -2.3C1.2 -2.9 1.5 -3.1 1.8 -3.4C2.1 -3.8 2.4 -4 2.7 -4.3C3 -4.5 3.3 -4.7 3.6 -4.8C3.9 -5 4.2 -5.1 4.5 -5.2C4.8 -5.3 5.1 -5.3 5.4 -5.3C5.7 -5.3 6 -5.3 6.2 -5.2C6.5 -5.1 6.8 -5 7.1 -4.8C7.4 -4.7 7.7 -4.5 8 -4.3C8.3 -4 8.6 -3.8 8.9 -3.4C9.2 -3.1 9.5 -2.9 9.8 -2.3C10.1 -1.7 10.4 -0.8 10.7 -0C11 0.8 11.3 1.7 11.6 2.3C11.9 2.9 12.2 3.1 12.5 3.4C12.8 3.8 13.1 4 13.4 4.3C13.7 4.5 14 4.7 14.3 4.8C14.6 5 14.9 5.1 15.2 5.2C15.5 5.3 15.8 5.3 16.1 5.3C16.4 5.3 16.7 5.3 17 5.2C17.3 5.1 17.6 5 17.9 4.8C18.1 4.7 18.4 4.5 18.7 4.3C19 4 19.3 3.8 19.6 3.4C19.9 3.1 20.2 2.9 20.5 2.3C20.8 1.7 21.1 0.8 21.4 0C21.7 -0.8 22 -1.7 22.3 -2.3C22.6 -2.9 22.9 -3.1 23.2 -3.4C23.5 -3.8 23.8 -4 24.1 -4.3C24.4 -4.5 24.7 -4.7 25 -4.8C25.3 -5 25.6 -5.1 25.9 -5.2C26.2 -5.3 26.5 -5.3 26.8 -5.3C27.1 -5.3 27.4 -5.3 27.7 -5.2C28 -5.1 28.3 -5 28.6 -4.8C28.9 -4.7 29.2 -4.5 29.5 -4.3C29.8 -4 30 -3.8 30.3 -3.4C30.6 -3.1 30.9 -2.9 31.2 -2.3C31.5 -1.7 31.8 -0.8 32.1 -0C32.4 0.8 32.7 1.7 33 2.3C33.3 2.9 33.6 3.1 33.9 3.4C34.2 3.8 34.5 4 34.8 4.3C35.1 4.5 35.4 4.7 35.7 4.8C36 5 36.3 5.1 36.6 5.2C36.9 5.3 37.2 5.3 37.5 5.3C37.8 5.3 38.1 5.3 38.4 5.2C38.7 5.1 39 5 39.3 4.8C39.6 4.7 39.9 4.5 40.2 4.3C40.5 4 40.8 3.8 41.1 3.4C41.4 3.1 41.7 2.9 41.9 2.3C42.2 1.7 42.7 0.4 42.8 0" fill="none" stroke="#169a8b" stroke-width="1.9"/>
<path d="M0 0C0.1 0.4 0.6 1.7 0.9 2.3C1.2 2.9 1.5 3.1 1.8 3.4C2.1 3.8 2.4 4 2.7 4.3C3 4.5 3.3 4.7 3.6 4.8C3.9 5 4.2 5.1 4.5 5.2C4.8 5.3 5.1 5.3 5.4 5.3C5.7 5.3 6 5.3 6.2 5.2C6.5 5.1 6.8 5 7.1 4.8C7.4 4.7 7.7 4.5 8 4.3C8.3 4 8.6 3.8 8.9 3.4C9.2 3.1 9.5 2.9 9.8 2.3C10.1 1.7 10.4 0.8 10.7 0C11 -0.8 11.3 -1.7 11.6 -2.3C11.9 -2.9 12.2 -3.1 12.5 -3.4C12.8 -3.8 13.1 -4 13.4 -4.3C13.7 -4.5 14 -4.7 14.3 -4.8C14.6 -5 14.9 -5.1 15.2 -5.2C15.5 -5.3 15.8 -5.3 16.1 -5.3C16.4 -5.3 16.7 -5.3 17 -5.2C17.3 -5.1 17.6 -5 17.9 -4.8C18.1 -4.7 18.4 -4.5 18.7 -4.3C19 -4 19.3 -3.8 19.6 -3.4C19.9 -3.1 20.2 -2.9 20.5 -2.3C20.8 -1.7 21.1 -0.8 21.4 -0C21.7 0.8 22 1.7 22.3 2.3C22.6 2.9 22.9 3.1 23.2 3.4C23.5 3.8 23.8 4 24.1 4.3C24.4 4.5 24.7 4.7 25 4.8C25.3 5 25.6 5.1 25.9 5.2C26.2 5.3 26.5 5.3 26.8 5.3C27.1 5.3 27.4 5.3 27.7 5.2C28 5.1 28.3 5 28.6 4.8C28.9 4.7 29.2 4.5 29.5 4.3C29.8 4 30 3.8 30.3 3.4C30.6 3.1 30.9 2.9 31.2 2.3C31.5 1.7 31.8 0.8 32.1 0C32.4 -0.8 32.7 -1.7 33 -2.3C33.3 -2.9 33.6 -3.1 33.9 -3.4C34.2 -3.8 34.5 -4 34.8 -4.3C35.1 -4.5 35.4 -4.7 35.7 -4.8C36 -5 36.3 -5.1 36.6 -5.2C36.9 -5.3 37.2 -5.3 37.5 -5.3C37.8 -5.3 38.1 -5.3 38.4 -5.2C38.7 -5.1 39 -5 39.3 -4.8C39.6 -4.7 39.9 -4.5 40.2 -4.3C40.5 -4 40.8 -3.8 41.1 -3.4C41.4 -3.1 41.7 -2.9 41.9 -2.3C42.2 -1.7 42.7 -0.4 42.8 -0" fill="none" stroke="#169a8b" stroke-width="1.9"/>
</g>
<circle cx="83.5" cy="332.2" r="3" fill="url(#gd)"/>
<path d="M153 393C153 393 153 393 153.2 392C153.5 391.1 154 389.2 154.9 387.7C155.8 386.2 157.2 385.1 158.5 385C159.7 385 160.8 385.9 161.6 387.1C162.4 388.3 163 389.8 163.6 391.6C164.3 393.4 165 395.5 166 396.8C166.9 398.2 168.1 398.8 169.2 398.5C170.2 398.1 171.1 396.8 171.7 395.3C172.3 393.7 172.5 392 172.6 391.1C172.7 390.2 172.7 390.2 172.7 390.2" fill="none" stroke="#d74f94" stroke-width="2.1"/>
<circle cx="151.4" cy="394.9" r="5.4" fill="url(#gg)"/>
<circle cx="143.4" cy="396.9" r="5.4" fill="url(#gr)"/>
<circle cx="135.5" cy="399" r="5.4" fill="url(#gb)"/>
<circle cx="127.5" cy="401" r="5.4" fill="url(#go)"/>
<circle cx="119.5" cy="403" r="5.4" fill="url(#gg)"/>
<circle cx="111.6" cy="405.1" r="5.4" fill="url(#gr)"/>
<circle cx="103.6" cy="407.1" r="5.4" fill="url(#gb)"/>
<path d="M207.1 400.6C207.1 400.3 207.2 399.4 207.3 398.9C207.3 398.5 207.4 398.1 207.6 398C207.8 397.8 208 397.8 208.3 398C208.6 398.2 209 398.7 209.4 399.2C209.8 399.7 210.2 400.4 210.5 401C210.9 401.7 211.2 402.4 211.5 402.9C211.9 403.4 212.2 403.9 212.7 404.1C213.1 404.4 213.5 404.5 214 404.4C214.6 404.3 215.2 404 215.8 403.6C216.4 403.3 217 402.7 217.6 402.3C218.1 401.8 218.6 401.2 219 400.8C219.5 400.4 219.8 400 220.1 399.8C220.5 399.6 220.8 399.6 221.2 399.7C221.7 399.8 222.2 400.2 222.8 400.4C223.4 400.6 224.2 401 225 401.2C225.8 401.3 226.7 401.5 227.5 401.4C228.2 401.3 229 401.1 229.6 400.8C230.2 400.4 230.7 399.8 231.1 399.1C231.4 398.5 231.6 397.6 231.7 396.8C231.9 395.9 231.9 394.9 231.9 394C232 393.1 232 392.2 232 391.6C232.1 390.9 232.1 390.4 232.2 390.1C232.3 389.9 232.4 389.9 232.7 390C232.9 390.1 233.5 390.6 233.7 390.8" fill="none" stroke="#604996" stroke-width="2.1"/>
<path d="M175 429.6C175.2 429.4 175.9 428.8 176.1 428.5C176.4 428.1 176.6 427.8 176.6 427.5C176.5 427.2 176.2 426.9 175.8 426.7C175.3 426.4 174.6 426.3 173.9 426.2C173.2 426.1 172.3 426.2 171.5 426.3C170.8 426.3 170 426.5 169.4 426.6C168.7 426.7 168.2 426.8 167.8 426.8C167.3 426.7 167 426.5 166.7 426.1C166.4 425.8 166.1 425.2 165.9 424.6C165.6 424.1 165.4 423.3 165.1 422.6C164.8 422 164.5 421.2 164.1 420.7C163.8 420.2 163.4 419.7 162.9 419.4C162.4 419.2 161.9 419.1 161.3 419.2C160.8 419.3 160.2 419.7 159.6 420.1C159 420.4 158.5 421.1 158 421.6C157.5 422.1 157 422.7 156.5 423.1C156.1 423.5 155.7 423.9 155.2 424C154.7 424.1 154.2 424.1 153.7 423.9C153.2 423.7 152.6 423.2 152.1 422.8C151.6 422.3 151 421.7 150.5 421.2C150 420.6 149.5 420 149.1 419.6C148.7 419.3 148.4 418.9 148.2 418.8C148 418.7 147.9 418.8 147.8 419.1C147.7 419.3 147.7 420.1 147.7 420.3" fill="none" stroke="#604996" stroke-width="2.1"/>
<circle cx="204.7" cy="398.5" r="5.4" fill="url(#gb)"/>
<circle cx="210.4" cy="393.4" r="5.4" fill="url(#go)"/>
<circle cx="216.2" cy="388.2" r="5.4" fill="url(#gr)"/>
<circle cx="221.9" cy="383.1" r="5.4" fill="url(#gb)"/>
<circle cx="227.6" cy="377.9" r="5.4" fill="url(#gg)"/>
<circle cx="233.4" cy="372.8" r="5.4" fill="url(#gb)"/>
<circle cx="239.1" cy="367.6" r="5.4" fill="url(#gr)"/>
<g transform="translate(174 430.7) rotate(-46.3)">
<path d="M0 0C0.2 0.4 0.6 1.7 0.9 2.3C1.2 2.9 1.5 3.1 1.8 3.4C2.1 3.8 2.4 4 2.7 4.3C3 4.5 3.3 4.7 3.6 4.8C3.9 5 4.2 5.1 4.5 5.2C4.8 5.3 5.1 5.3 5.4 5.3C5.7 5.3 6 5.3 6.3 5.2C6.6 5.1 6.9 5 7.2 4.8C7.5 4.7 7.8 4.5 8.1 4.3C8.4 4 8.7 3.8 9 3.4C9.3 3.1 9.6 2.9 9.9 2.3C10.2 1.7 10.5 0.8 10.8 -0C11.1 -0.8 11.4 -1.7 11.7 -2.3C12 -2.9 12.3 -3.1 12.6 -3.4C12.9 -3.8 13.2 -4 13.5 -4.3C13.8 -4.5 14.1 -4.7 14.4 -4.8C14.7 -5 15 -5.1 15.3 -5.2C15.6 -5.3 15.9 -5.3 16.2 -5.3C16.5 -5.3 16.8 -5.3 17.1 -5.2C17.4 -5.1 17.7 -5 18 -4.8C18.3 -4.7 18.6 -4.5 18.9 -4.3C19.2 -4 19.5 -3.8 19.8 -3.4C20.1 -3.1 20.4 -2.9 20.7 -2.3C21.1 -1.7 21.4 -0.8 21.7 0C22 0.8 22.3 1.7 22.6 2.3C22.9 2.9 23.2 3.1 23.5 3.4C23.8 3.8 24.1 4 24.4 4.3C24.7 4.5 25 4.7 25.3 4.8C25.6 5 25.9 5.1 26.2 5.2C26.5 5.3 26.8 5.3 27.1 5.3C27.4 5.3 27.7 5.3 28 5.2C28.3 5.1 28.6 5 28.9 4.8C29.2 4.7 29.5 4.5 29.8 4.3C30.1 4 30.4 3.8 30.7 3.4C31 3.1 31.3 2.9 31.6 2.3C31.9 1.7 32.2 0.8 32.5 0C32.8 -0.8 33.1 -1.7 33.4 -2.3C33.7 -2.9 34 -3.1 34.3 -3.4C34.6 -3.8 34.9 -4 35.2 -4.3C35.5 -4.5 35.8 -4.7 36.1 -4.8C36.4 -5 36.7 -5.1 37 -5.2C37.3 -5.3 37.6 -5.3 37.9 -5.3C38.2 -5.3 38.5 -5.3 38.8 -5.2C39.1 -5.1 39.4 -5 39.7 -4.8C40 -4.7 40.3 -4.5 40.6 -4.3C40.9 -4 41.2 -3.8 41.5 -3.4C41.8 -3.1 42.1 -2.9 42.4 -2.3C42.7 -1.7 43.2 -0.4 43.3 0 L43.3 -0 L42.4 2.3 L41.5 3.4 L40.6 4.3 L39.7 4.8 L38.8 5.2 L37.9 5.3 L37 5.2 L36.1 4.8 L35.2 4.3 L34.3 3.4 L33.4 2.3 L32.5 -0 L31.6 -2.3 L30.7 -3.4 L29.8 -4.3 L28.9 -4.8 L28 -5.2 L27.1 -5.3 L26.2 -5.2 L25.3 -4.8 L24.4 -4.3 L23.5 -3.4 L22.6 -2.3 L21.7 -0 L20.7 2.3 L19.8 3.4 L18.9 4.3 L18 4.8 L17.1 5.2 L16.2 5.3 L15.3 5.2 L14.4 4.8 L13.5 4.3 L12.6 3.4 L11.7 2.3 L10.8 0 L9.9 -2.3 L9 -3.4 L8.1 -4.3 L7.2 -4.8 L6.3 -5.2 L5.4 -5.3 L4.5 -5.2 L3.6 -4.8 L2.7 -4.3 L1.8 -3.4 L0.9 -2.3 L0 -0Z" fill="#fff" stroke="none"/>
<path d="M3.7 -4.9V4.9M7.1 -4.9V4.9M14.5 -4.9V4.9M18 -4.9V4.9M25.3 -4.9V4.9M28.8 -4.9V4.9M36.2 -4.9V4.9M39.6 -4.9V4.9" fill="none" stroke="#111" stroke-width="1.7" style="stroke-linecap:butt" transform="skewX(-15)"/>
<path d="M0 -0C0.2 -0.4 0.6 -1.7 0.9 -2.3C1.2 -2.9 1.5 -3.1 1.8 -3.4C2.1 -3.8 2.4 -4 2.7 -4.3C3 -4.5 3.3 -4.7 3.6 -4.8C3.9 -5 4.2 -5.1 4.5 -5.2C4.8 -5.3 5.1 -5.3 5.4 -5.3C5.7 -5.3 6 -5.3 6.3 -5.2C6.6 -5.1 6.9 -5 7.2 -4.8C7.5 -4.7 7.8 -4.5 8.1 -4.3C8.4 -4 8.7 -3.8 9 -3.4C9.3 -3.1 9.6 -2.9 9.9 -2.3C10.2 -1.7 10.5 -0.8 10.8 0C11.1 0.8 11.4 1.7 11.7 2.3C12 2.9 12.3 3.1 12.6 3.4C12.9 3.8 13.2 4 13.5 4.3C13.8 4.5 14.1 4.7 14.4 4.8C14.7 5 15 5.1 15.3 5.2C15.6 5.3 15.9 5.3 16.2 5.3C16.5 5.3 16.8 5.3 17.1 5.2C17.4 5.1 17.7 5 18 4.8C18.3 4.7 18.6 4.5 18.9 4.3C19.2 4 19.5 3.8 19.8 3.4C20.1 3.1 20.4 2.9 20.7 2.3C21.1 1.7 21.4 0.8 21.7 -0C22 -0.8 22.3 -1.7 22.6 -2.3C22.9 -2.9 23.2 -3.1 23.5 -3.4C23.8 -3.8 24.1 -4 24.4 -4.3C24.7 -4.5 25 -4.7 25.3 -4.8C25.6 -5 25.9 -5.1 26.2 -5.2C26.5 -5.3 26.8 -5.3 27.1 -5.3C27.4 -5.3 27.7 -5.3 28 -5.2C28.3 -5.1 28.6 -5 28.9 -4.8C29.2 -4.7 29.5 -4.5 29.8 -4.3C30.1 -4 30.4 -3.8 30.7 -3.4C31 -3.1 31.3 -2.9 31.6 -2.3C31.9 -1.7 32.2 -0.8 32.5 -0C32.8 0.8 33.1 1.7 33.4 2.3C33.7 2.9 34 3.1 34.3 3.4C34.6 3.8 34.9 4 35.2 4.3C35.5 4.5 35.8 4.7 36.1 4.8C36.4 5 36.7 5.1 37 5.2C37.3 5.3 37.6 5.3 37.9 5.3C38.2 5.3 38.5 5.3 38.8 5.2C39.1 5.1 39.4 5 39.7 4.8C40 4.7 40.3 4.5 40.6 4.3C40.9 4 41.2 3.8 41.5 3.4C41.8 3.1 42.1 2.9 42.4 2.3C42.7 1.7 43.2 0.4 43.3 -0" fill="none" stroke="#604996" stroke-width="1.9"/>
<path d="M0 0C0.2 0.4 0.6 1.7 0.9 2.3C1.2 2.9 1.5 3.1 1.8 3.4C2.1 3.8 2.4 4 2.7 4.3C3 4.5 3.3 4.7 3.6 4.8C3.9 5 4.2 5.1 4.5 5.2C4.8 5.3 5.1 5.3 5.4 5.3C5.7 5.3 6 5.3 6.3 5.2C6.6 5.1 6.9 5 7.2 4.8C7.5 4.7 7.8 4.5 8.1 4.3C8.4 4 8.7 3.8 9 3.4C9.3 3.1 9.6 2.9 9.9 2.3C10.2 1.7 10.5 0.8 10.8 -0C11.1 -0.8 11.4 -1.7 11.7 -2.3C12 -2.9 12.3 -3.1 12.6 -3.4C12.9 -3.8 13.2 -4 13.5 -4.3C13.8 -4.5 14.1 -4.7 14.4 -4.8C14.7 -5 15 -5.1 15.3 -5.2C15.6 -5.3 15.9 -5.3 16.2 -5.3C16.5 -5.3 16.8 -5.3 17.1 -5.2C17.4 -5.1 17.7 -5 18 -4.8C18.3 -4.7 18.6 -4.5 18.9 -4.3C19.2 -4 19.5 -3.8 19.8 -3.4C20.1 -3.1 20.4 -2.9 20.7 -2.3C21.1 -1.7 21.4 -0.8 21.7 0C22 0.8 22.3 1.7 22.6 2.3C22.9 2.9 23.2 3.1 23.5 3.4C23.8 3.8 24.1 4 24.4 4.3C24.7 4.5 25 4.7 25.3 4.8C25.6 5 25.9 5.1 26.2 5.2C26.5 5.3 26.8 5.3 27.1 5.3C27.4 5.3 27.7 5.3 28 5.2C28.3 5.1 28.6 5 28.9 4.8C29.2 4.7 29.5 4.5 29.8 4.3C30.1 4 30.4 3.8 30.7 3.4C31 3.1 31.3 2.9 31.6 2.3C31.9 1.7 32.2 0.8 32.5 0C32.8 -0.8 33.1 -1.7 33.4 -2.3C33.7 -2.9 34 -3.1 34.3 -3.4C34.6 -3.8 34.9 -4 35.2 -4.3C35.5 -4.5 35.8 -4.7 36.1 -4.8C36.4 -5 36.7 -5.1 37 -5.2C37.3 -5.3 37.6 -5.3 37.9 -5.3C38.2 -5.3 38.5 -5.3 38.8 -5.2C39.1 -5.1 39.4 -5 39.7 -4.8C40 -4.7 40.3 -4.5 40.6 -4.3C40.9 -4 41.2 -3.8 41.5 -3.4C41.8 -3.1 42.1 -2.9 42.4 -2.3C42.7 -1.7 43.2 -0.4 43.3 0" fill="none" stroke="#604996" stroke-width="1.9"/>
</g>
<circle cx="175" cy="429.6" r="3" fill="url(#gd)"/>
<path d="M36 421.4C36 422.2 36 424.5 36.3 426C36.6 427.5 36.8 429.4 37.8 430.5C38.8 431.6 41.1 432.8 42.6 432.6C44.1 432.4 45.4 430.7 46.5 429.5C47.6 428.3 48.3 426.8 49.3 425.5C50.3 424.2 51.3 422.3 52.5 421.5C53.7 420.7 55.3 420.4 56.5 420.8C57.7 421.2 58.7 422.7 59.5 424C60.3 425.3 60.9 427.8 61.2 428.6" fill="none" stroke="#d74f94" stroke-width="2.1" />
<circle cx="36" cy="421.4" r="3" fill="url(#gd)"/>
<path d="M122.4 440.5C122.2 440.6 121.3 441.1 121 441.3C120.6 441.6 120.3 441.8 120.2 442.1C120.1 442.3 120.3 442.5 120.6 442.7C120.9 442.9 121.5 443.1 122.1 443.3C122.8 443.4 123.6 443.6 124.4 443.8C125.1 443.9 125.9 444 126.6 444.2C127.2 444.4 127.8 444.5 128.2 444.8C128.6 445.1 128.9 445.4 129 445.9C129.2 446.4 129.2 447 129.2 447.7C129.2 448.3 129.2 449.2 129.2 449.9C129.3 450.7 129.4 451.5 129.7 452.2C130 452.8 130.4 453.5 130.8 453.8C131.3 454.2 131.9 454.4 132.6 454.4C133.2 454.4 133.9 454.2 134.6 453.9C135.3 453.6 136 453.1 136.7 452.7C137.4 452.3 138.1 451.8 138.8 451.6C139.5 451.3 140.1 451.1 140.7 451.2C141.3 451.2 141.9 451.4 142.4 451.8C143 452.2 143.5 452.8 143.9 453.5C144.4 454.1 144.8 454.9 145.1 455.6C145.5 456.3 145.8 457 146 457.5C146.3 458 146.4 458.4 146.6 458.5C146.7 458.7 146.8 458.6 146.9 458.4C147.1 458.2 147.3 457.4 147.3 457.2" fill="none" stroke="#169a8b" stroke-width="2.1"/>
<path d="M81.2 433.9C81.5 433.9 82.4 433.9 82.8 433.8C83.2 433.8 83.6 433.7 83.8 433.5C83.9 433.3 83.9 433.1 83.7 432.7C83.5 432.4 83.1 431.9 82.7 431.4C82.2 430.9 81.6 430.4 81 429.8C80.4 429.3 79.8 428.8 79.3 428.3C78.8 427.8 78.4 427.3 78.2 426.8C77.9 426.4 77.9 425.9 78 425.3C78.1 424.8 78.4 424.3 78.7 423.7C79 423 79.4 422.4 79.8 421.7C80.1 421 80.5 420.3 80.6 419.6C80.8 419 80.8 418.3 80.7 417.8C80.5 417.2 80.2 416.8 79.7 416.4C79.3 416.1 78.6 415.9 78 415.7C77.3 415.6 76.5 415.6 75.7 415.5C75 415.4 74.3 415.5 73.6 415.4C73 415.2 72.5 415.1 72.1 414.8C71.7 414.5 71.4 414.1 71.2 413.6C71 413.1 70.9 412.4 70.9 411.7C70.9 411 71 410.2 71 409.5C71.1 408.8 71.2 408 71.2 407.5C71.3 407 71.4 406.6 71.3 406.4C71.2 406.3 71.1 406.3 70.9 406.4C70.7 406.6 70.2 407.1 70.1 407.2" fill="none" stroke="#169a8b" stroke-width="2.1"/>
<circle cx="122.4" cy="437.4" r="5.4" fill="url(#gr)"/>
<circle cx="130.2" cy="438.5" r="5.4" fill="url(#gb)"/>
<circle cx="138.1" cy="439.6" r="5.4" fill="url(#go)"/>
<circle cx="145.9" cy="440.7" r="5.4" fill="url(#gg)"/>
<circle cx="153.8" cy="441.8" r="5.4" fill="url(#gr)"/>
<circle cx="161.7" cy="442.9" r="5.4" fill="url(#gg)"/>
<circle cx="169.5" cy="444" r="5.4" fill="url(#gb)"/>
<g transform="translate(79.7 433.8) rotate(4.9)">
<path d="M0 0C0.1 0.4 0.6 1.7 0.9 2.3C1.2 2.9 1.4 3.1 1.7 3.4C2 3.8 2.3 4 2.6 4.3C2.9 4.5 3.2 4.7 3.5 4.8C3.8 5 4 5.1 4.3 5.2C4.6 5.3 4.9 5.3 5.2 5.3C5.5 5.3 5.8 5.3 6.1 5.2C6.4 5.1 6.7 5 6.9 4.8C7.2 4.7 7.5 4.5 7.8 4.3C8.1 4 8.4 3.8 8.7 3.4C9 3.1 9.3 2.9 9.5 2.3C9.8 1.7 10.1 0.8 10.4 0C10.7 -0.8 11 -1.7 11.3 -2.3C11.6 -2.9 11.9 -3.1 12.1 -3.4C12.4 -3.8 12.7 -4 13 -4.3C13.3 -4.5 13.6 -4.7 13.9 -4.8C14.2 -5 14.5 -5.1 14.8 -5.2C15 -5.3 15.3 -5.3 15.6 -5.3C15.9 -5.3 16.2 -5.3 16.5 -5.2C16.8 -5.1 17.1 -5 17.4 -4.8C17.6 -4.7 17.9 -4.5 18.2 -4.3C18.5 -4 18.8 -3.8 19.1 -3.4C19.4 -3.1 19.7 -2.9 20 -2.3C20.2 -1.7 20.5 -0.8 20.8 -0C21.1 0.8 21.4 1.7 21.7 2.3C22 2.9 22.3 3.1 22.6 3.4C22.8 3.8 23.1 4 23.4 4.3C23.7 4.5 24 4.7 24.3 4.8C24.6 5 24.9 5.1 25.2 5.2C25.5 5.3 25.7 5.3 26 5.3C26.3 5.3 26.6 5.3 26.9 5.2C27.2 5.1 27.5 5 27.8 4.8C28.1 4.7 28.3 4.5 28.6 4.3C28.9 4 29.2 3.8 29.5 3.4C29.8 3.1 30.1 2.9 30.4 2.3C30.7 1.7 30.9 0.8 31.2 0C31.5 -0.8 31.8 -1.7 32.1 -2.3C32.4 -2.9 32.7 -3.1 33 -3.4C33.3 -3.8 33.6 -4 33.8 -4.3C34.1 -4.5 34.4 -4.7 34.7 -4.8C35 -5 35.3 -5.1 35.6 -5.2C35.9 -5.3 36.2 -5.3 36.4 -5.3C36.7 -5.3 37 -5.3 37.3 -5.2C37.6 -5.1 37.9 -5 38.2 -4.8C38.5 -4.7 38.8 -4.5 39 -4.3C39.3 -4 39.6 -3.8 39.9 -3.4C40.2 -3.1 40.5 -2.9 40.8 -2.3C41.1 -1.7 41.5 -0.4 41.6 -0 L41.6 0 L40.8 2.3 L39.9 3.4 L39 4.3 L38.2 4.8 L37.3 5.2 L36.4 5.3 L35.6 5.2 L34.7 4.8 L33.8 4.3 L33 3.4 L32.1 2.3 L31.2 -0 L30.4 -2.3 L29.5 -3.4 L28.6 -4.3 L27.8 -4.8 L26.9 -5.2 L26 -5.3 L25.2 -5.2 L24.3 -4.8 L23.4 -4.3 L22.6 -3.4 L21.7 -2.3 L20.8 0 L20 2.3 L19.1 3.4 L18.2 4.3 L17.4 4.8 L16.5 5.2 L15.6 5.3 L14.8 5.2 L13.9 4.8 L13 4.3 L12.1 3.4 L11.3 2.3 L10.4 -0 L9.5 -2.3 L8.7 -3.4 L7.8 -4.3 L6.9 -4.8 L6.1 -5.2 L5.2 -5.3 L4.3 -5.2 L3.5 -4.8 L2.6 -4.3 L1.7 -3.4 L0.9 -2.3 L0 -0Z" fill="#fff" stroke="none"/>
<path d="M3.5 -4.9V4.9M6.9 -4.9V4.9M14 -4.9V4.9M17.3 -4.9V4.9M24.4 -4.9V4.9M27.7 -4.9V4.9M34.8 -4.9V4.9M38.1 -4.9V4.9" fill="none" stroke="#111" stroke-width="1.7" style="stroke-linecap:butt" transform="skewX(-15)"/>
<path d="M0 -0C0.1 -0.4 0.6 -1.7 0.9 -2.3C1.2 -2.9 1.4 -3.1 1.7 -3.4C2 -3.8 2.3 -4 2.6 -4.3C2.9 -4.5 3.2 -4.7 3.5 -4.8C3.8 -5 4 -5.1 4.3 -5.2C4.6 -5.3 4.9 -5.3 5.2 -5.3C5.5 -5.3 5.8 -5.3 6.1 -5.2C6.4 -5.1 6.7 -5 6.9 -4.8C7.2 -4.7 7.5 -4.5 7.8 -4.3C8.1 -4 8.4 -3.8 8.7 -3.4C9 -3.1 9.3 -2.9 9.5 -2.3C9.8 -1.7 10.1 -0.8 10.4 -0C10.7 0.8 11 1.7 11.3 2.3C11.6 2.9 11.9 3.1 12.1 3.4C12.4 3.8 12.7 4 13 4.3C13.3 4.5 13.6 4.7 13.9 4.8C14.2 5 14.5 5.1 14.8 5.2C15 5.3 15.3 5.3 15.6 5.3C15.9 5.3 16.2 5.3 16.5 5.2C16.8 5.1 17.1 5 17.4 4.8C17.6 4.7 17.9 4.5 18.2 4.3C18.5 4 18.8 3.8 19.1 3.4C19.4 3.1 19.7 2.9 20 2.3C20.2 1.7 20.5 0.8 20.8 0C21.1 -0.8 21.4 -1.7 21.7 -2.3C22 -2.9 22.3 -3.1 22.6 -3.4C22.8 -3.8 23.1 -4 23.4 -4.3C23.7 -4.5 24 -4.7 24.3 -4.8C24.6 -5 24.9 -5.1 25.2 -5.2C25.5 -5.3 25.7 -5.3 26 -5.3C26.3 -5.3 26.6 -5.3 26.9 -5.2C27.2 -5.1 27.5 -5 27.8 -4.8C28.1 -4.7 28.3 -4.5 28.6 -4.3C28.9 -4 29.2 -3.8 29.5 -3.4C29.8 -3.1 30.1 -2.9 30.4 -2.3C30.7 -1.7 30.9 -0.8 31.2 -0C31.5 0.8 31.8 1.7 32.1 2.3C32.4 2.9 32.7 3.1 33 3.4C33.3 3.8 33.6 4 33.8 4.3C34.1 4.5 34.4 4.7 34.7 4.8C35 5 35.3 5.1 35.6 5.2C35.9 5.3 36.2 5.3 36.4 5.3C36.7 5.3 37 5.3 37.3 5.2C37.6 5.1 37.9 5 38.2 4.8C38.5 4.7 38.8 4.5 39 4.3C39.3 4 39.6 3.8 39.9 3.4C40.2 3.1 40.5 2.9 40.8 2.3C41.1 1.7 41.5 0.4 41.6 0" fill="none" stroke="#169a8b" stroke-width="1.9"/>
<path d="M0 0C0.1 0.4 0.6 1.7 0.9 2.3C1.2 2.9 1.4 3.1 1.7 3.4C2 3.8 2.3 4 2.6 4.3C2.9 4.5 3.2 4.7 3.5 4.8C3.8 5 4 5.1 4.3 5.2C4.6 5.3 4.9 5.3 5.2 5.3C5.5 5.3 5.8 5.3 6.1 5.2C6.4 5.1 6.7 5 6.9 4.8C7.2 4.7 7.5 4.5 7.8 4.3C8.1 4 8.4 3.8 8.7 3.4C9 3.1 9.3 2.9 9.5 2.3C9.8 1.7 10.1 0.8 10.4 0C10.7 -0.8 11 -1.7 11.3 -2.3C11.6 -2.9 11.9 -3.1 12.1 -3.4C12.4 -3.8 12.7 -4 13 -4.3C13.3 -4.5 13.6 -4.7 13.9 -4.8C14.2 -5 14.5 -5.1 14.8 -5.2C15 -5.3 15.3 -5.3 15.6 -5.3C15.9 -5.3 16.2 -5.3 16.5 -5.2C16.8 -5.1 17.1 -5 17.4 -4.8C17.6 -4.7 17.9 -4.5 18.2 -4.3C18.5 -4 18.8 -3.8 19.1 -3.4C19.4 -3.1 19.7 -2.9 20 -2.3C20.2 -1.7 20.5 -0.8 20.8 -0C21.1 0.8 21.4 1.7 21.7 2.3C22 2.9 22.3 3.1 22.6 3.4C22.8 3.8 23.1 4 23.4 4.3C23.7 4.5 24 4.7 24.3 4.8C24.6 5 24.9 5.1 25.2 5.2C25.5 5.3 25.7 5.3 26 5.3C26.3 5.3 26.6 5.3 26.9 5.2C27.2 5.1 27.5 5 27.8 4.8C28.1 4.7 28.3 4.5 28.6 4.3C28.9 4 29.2 3.8 29.5 3.4C29.8 3.1 30.1 2.9 30.4 2.3C30.7 1.7 30.9 0.8 31.2 0C31.5 -0.8 31.8 -1.7 32.1 -2.3C32.4 -2.9 32.7 -3.1 33 -3.4C33.3 -3.8 33.6 -4 33.8 -4.3C34.1 -4.5 34.4 -4.7 34.7 -4.8C35 -5 35.3 -5.1 35.6 -5.2C35.9 -5.3 36.2 -5.3 36.4 -5.3C36.7 -5.3 37 -5.3 37.3 -5.2C37.6 -5.1 37.9 -5 38.2 -4.8C38.5 -4.7 38.8 -4.5 39 -4.3C39.3 -4 39.6 -3.8 39.9 -3.4C40.2 -3.1 40.5 -2.9 40.8 -2.3C41.1 -1.7 41.5 -0.4 41.6 -0" fill="none" stroke="#169a8b" stroke-width="1.9"/>
</g>
<circle cx="81.2" cy="433.9" r="3" fill="url(#gd)"/>
<path d="M18.3 505.6C18.3 506.3 17.9 508.4 18.3 510C18.7 511.6 19.1 513.7 20.5 515C21.9 516.3 24.7 518 26.4 517.8C28.1 517.6 29.3 515.5 30.5 514C31.7 512.5 32.6 510.2 33.6 508.7C34.6 507.2 35.4 505.6 36.5 505C37.6 504.4 39 504.6 40 505.3C41 506 42 507.8 42.5 509C43 510.2 43 512.1 43.1 512.7" fill="none" stroke="#d74f94" stroke-width="2.1" />
<circle cx="18.3" cy="505.6" r="3" fill="url(#gd)"/>
<path d="M94 495C94 495 94 495 94.6 495.6C95.3 496.3 96.5 497.5 97.8 497.9C99 498.4 100.2 497.9 100.9 496.5C101.6 495 101.8 492.6 102 490.2C102.2 487.8 102.5 485.4 103.1 483.4C103.8 481.5 104.8 480 106.1 480.2C107.5 480.4 109.2 482.3 110 483.2C110.9 484.2 110.9 484.2 110.9 484.2" fill="none" stroke="#169a8b" stroke-width="2.1"/>
<circle cx="91.6" cy="494" r="5.4" fill="url(#gr)"/>
<circle cx="85.1" cy="497.9" r="5.4" fill="url(#gb)"/>
<circle cx="78.6" cy="501.7" r="5.4" fill="url(#go)"/>
<circle cx="72" cy="505.6" r="5.4" fill="url(#gg)"/>
<circle cx="65.5" cy="509.5" r="5.4" fill="url(#gr)"/>
<circle cx="59" cy="513.3" r="5.4" fill="url(#gg)"/>
<circle cx="52.5" cy="517.2" r="5.4" fill="url(#gb)"/>
<path d="M84.4 525.3C84.7 525.9 85.2 527.9 86 529C86.8 530.1 88.1 531.5 89.5 531.8C90.9 532 93.3 531.8 94.6 530.5C95.9 529.2 96.6 526.2 97.5 524C98.4 521.8 99 519 100 517C101 515 102.6 512.5 103.8 511.7C105 510.9 106.2 511.8 107 512.5C107.8 513.2 108.6 515.2 108.9 515.8" fill="none" stroke="#d74f94" stroke-width="2.1" />
<circle cx="84.4" cy="525.3" r="3" fill="url(#gd)"/>
<path d="M85 548.5C85 548.5 85 548.5 85.6 547.8C86.2 547.2 87.5 545.9 88.8 545.6C90 545.3 91.4 546 92.2 547.5C93 549.1 93.2 551.5 93.5 553.9C93.9 556.2 94.4 558.6 95.3 560.4C96.2 562.2 97.5 563.4 98.8 563.7C100.1 564 101.4 563.4 102.2 562.3C103 561.3 103.2 559.9 103.3 559.2C103.4 558.5 103.4 558.5 103.4 558.5" fill="none" stroke="#d74f94" stroke-width="2.1"/>
<circle cx="82.4" cy="550.4" r="5.4" fill="url(#gg)"/>
<circle cx="74.8" cy="547.4" r="5.4" fill="url(#gr)"/>
<circle cx="67.1" cy="544.3" r="5.4" fill="url(#gb)"/>
<circle cx="59.5" cy="541.2" r="5.4" fill="url(#go)"/>
<circle cx="51.9" cy="538.2" r="5.4" fill="url(#gg)"/>
<circle cx="44.2" cy="535.1" r="5.4" fill="url(#gr)"/>
<circle cx="36.6" cy="532.1" r="5.4" fill="url(#gb)"/>
<path d="M41 583C41 583 41 583 41.8 582.8C42.6 582.5 44.1 582.1 45.8 582.4C47.4 582.7 49.1 583.9 49.4 585.5C49.8 587.1 48.9 589.1 47.4 590.8C46 592.5 44.2 593.9 43.2 595.5C42.2 597.1 42 599.1 42.7 600.3C43.3 601.5 44.7 602.1 46 601.8C47.3 601.5 48.6 600.3 49.2 599.8C49.8 599.2 49.8 599.2 49.8 599.2" fill="none" stroke="#d74f94" stroke-width="2.1"/>
<circle cx="38.7" cy="580.9" r="5.4" fill="url(#gg)"/>
<circle cx="34.6" cy="573.9" r="5.4" fill="url(#gr)"/>
<circle cx="30.4" cy="566.8" r="5.4" fill="url(#gb)"/>
<circle cx="26.2" cy="559.8" r="5.4" fill="url(#go)"/>
<circle cx="22.1" cy="552.7" r="5.4" fill="url(#gg)"/>
<circle cx="17.9" cy="545.6" r="5.4" fill="url(#gr)"/>
<circle cx="13.8" cy="538.6" r="5.4" fill="url(#gb)"/>
<path d="M63.1 575.8C63.3 576.4 63.7 578.3 64.5 579.5C65.3 580.7 66.5 582.5 68 583C69.5 583.5 72 583.7 73.2 582.5C74.5 581.3 74.7 578.3 75.5 576C76.3 573.7 77 570.6 78 568.5C79 566.4 80.2 564.4 81.4 563.6C82.6 562.8 84 563 85 563.5C86 564 87.1 566.1 87.5 566.6" fill="none" stroke="#169a8b" stroke-width="2.1" />
<circle cx="63.1" cy="575.8" r="3" fill="url(#gd)"/>
<path d="M123 673.5C123.2 673.6 124 674 124.3 674.3C124.6 674.5 124.9 674.7 125 674.9C125 675.1 124.9 675.3 124.6 675.5C124.3 675.7 123.8 675.8 123.2 676C122.6 676.2 121.8 676.4 121.1 676.6C120.4 676.8 119.6 677 118.9 677.3C118.3 677.6 117.7 677.9 117.3 678.2C116.9 678.6 116.6 679.1 116.4 679.6C116.3 680.1 116.3 680.8 116.3 681.4C116.3 682.1 116.4 682.9 116.4 683.6C116.4 684.3 116.4 685.1 116.3 685.8C116.2 686.4 115.9 687.1 115.6 687.5C115.2 687.9 114.7 688.2 114.2 688.4C113.6 688.5 112.9 688.4 112.3 688.3C111.6 688.2 110.9 687.8 110.3 687.6C109.7 687.3 109 686.9 108.5 686.8C108 686.6 107.5 686.4 107 686.4C106.6 686.5 106.2 686.6 105.8 687C105.5 687.3 105.1 687.8 104.8 688.3C104.5 688.8 104.2 689.5 104 690.1C103.7 690.7 103.5 691.3 103.3 691.7C103.2 692.1 103.1 692.4 103 692.5C102.9 692.6 102.9 692.5 102.8 692.3C102.7 692.1 102.6 691.4 102.5 691.2" fill="none" stroke="#169a8b" stroke-width="2.1"/>
<path d="M163.5 658.8C163.2 658.8 162.4 659 161.9 659.1C161.5 659.1 161.1 659.1 160.9 659C160.8 658.9 160.7 658.7 160.8 658.3C160.9 657.9 161.2 657.4 161.6 656.9C161.9 656.4 162.5 655.7 162.9 655.1C163.4 654.6 164 654 164.4 653.5C164.8 653 165.1 652.6 165.3 652.1C165.4 651.7 165.4 651.3 165.3 650.8C165.2 650.4 164.8 649.9 164.5 649.3C164.2 648.7 163.7 648.1 163.4 647.4C163 646.7 162.6 646 162.5 645.3C162.3 644.6 162.2 643.9 162.4 643.3C162.5 642.8 162.8 642.3 163.2 641.9C163.7 641.4 164.3 641.1 165 640.9C165.6 640.6 166.5 640.4 167.2 640.2C167.9 639.9 168.7 639.7 169.3 639.4C169.9 639.1 170.4 638.7 170.7 638.3C171.1 637.9 171.2 637.3 171.2 636.7C171.2 636.2 171 635.5 170.8 634.8C170.5 634.2 170.1 633.5 169.8 632.9C169.4 632.3 169 631.8 168.7 631.3C168.5 630.9 168.3 630.6 168.2 630.5C168.2 630.3 168.3 630.3 168.5 630.3C168.8 630.4 169.5 630.6 169.7 630.7" fill="none" stroke="#169a8b" stroke-width="2.1"/>
<circle cx="124" cy="670.5" r="5.4" fill="url(#gr)"/>
<circle cx="116.2" cy="672.7" r="5.4" fill="url(#gb)"/>
<circle cx="108.4" cy="674.8" r="5.4" fill="url(#go)"/>
<circle cx="100.5" cy="677" r="5.4" fill="url(#gg)"/>
<circle cx="92.7" cy="679.2" r="5.4" fill="url(#gr)"/>
<circle cx="84.9" cy="681.3" r="5.4" fill="url(#gg)"/>
<circle cx="77.1" cy="683.5" r="5.4" fill="url(#gb)"/>
<g transform="translate(164.9 658.4) rotate(163.5)">
<path d="M0 0C0.1 0.4 0.6 1.7 0.9 2.3C1.2 2.9 1.4 3.1 1.7 3.4C2 3.8 2.3 4 2.6 4.3C2.9 4.5 3.2 4.7 3.5 4.8C3.7 5 4 5.1 4.3 5.2C4.6 5.3 4.9 5.3 5.2 5.3C5.5 5.3 5.8 5.3 6.1 5.2C6.3 5.1 6.6 5 6.9 4.8C7.2 4.7 7.5 4.5 7.8 4.3C8.1 4 8.4 3.8 8.6 3.4C8.9 3.1 9.2 2.9 9.5 2.3C9.8 1.7 10.1 0.8 10.4 0C10.7 -0.8 11 -1.7 11.2 -2.3C11.5 -2.9 11.8 -3.1 12.1 -3.4C12.4 -3.8 12.7 -4 13 -4.3C13.3 -4.5 13.5 -4.7 13.8 -4.8C14.1 -5 14.4 -5.1 14.7 -5.2C15 -5.3 15.3 -5.3 15.6 -5.3C15.8 -5.3 16.1 -5.3 16.4 -5.2C16.7 -5.1 17 -5 17.3 -4.8C17.6 -4.7 17.9 -4.5 18.2 -4.3C18.4 -4 18.7 -3.8 19 -3.4C19.3 -3.1 19.6 -2.9 19.9 -2.3C20.2 -1.7 20.5 -0.8 20.7 -0C21 0.8 21.3 1.7 21.6 2.3C21.9 2.9 22.2 3.1 22.5 3.4C22.8 3.8 23.1 4 23.3 4.3C23.6 4.5 23.9 4.7 24.2 4.8C24.5 5 24.8 5.1 25.1 5.2C25.4 5.3 25.6 5.3 25.9 5.3C26.2 5.3 26.5 5.3 26.8 5.2C27.1 5.1 27.4 5 27.7 4.8C28 4.7 28.2 4.5 28.5 4.3C28.8 4 29.1 3.8 29.4 3.4C29.7 3.1 30 2.9 30.3 2.3C30.5 1.7 30.8 0.8 31.1 0C31.4 -0.8 31.7 -1.7 32 -2.3C32.3 -2.9 32.6 -3.1 32.9 -3.4C33.1 -3.8 33.4 -4 33.7 -4.3C34 -4.5 34.3 -4.7 34.6 -4.8C34.9 -5 35.2 -5.1 35.4 -5.2C35.7 -5.3 36 -5.3 36.3 -5.3C36.6 -5.3 36.9 -5.3 37.2 -5.2C37.5 -5.1 37.8 -5 38 -4.8C38.3 -4.7 38.6 -4.5 38.9 -4.3C39.2 -4 39.5 -3.8 39.8 -3.4C40.1 -3.1 40.3 -2.9 40.6 -2.3C40.9 -1.7 41.4 -0.4 41.5 -0 L41.5 0 L40.6 2.3 L39.8 3.4 L38.9 4.3 L38 4.8 L37.2 5.2 L36.3 5.3 L35.4 5.2 L34.6 4.8 L33.7 4.3 L32.9 3.4 L32 2.3 L31.1 -0 L30.3 -2.3 L29.4 -3.4 L28.5 -4.3 L27.7 -4.8 L26.8 -5.2 L25.9 -5.3 L25.1 -5.2 L24.2 -4.8 L23.3 -4.3 L22.5 -3.4 L21.6 -2.3 L20.7 0 L19.9 2.3 L19 3.4 L18.2 4.3 L17.3 4.8 L16.4 5.2 L15.6 5.3 L14.7 5.2 L13.8 4.8 L13 4.3 L12.1 3.4 L11.2 2.3 L10.4 -0 L9.5 -2.3 L8.6 -3.4 L7.8 -4.3 L6.9 -4.8 L6.1 -5.2 L5.2 -5.3 L4.3 -5.2 L3.5 -4.8 L2.6 -4.3 L1.7 -3.4 L0.9 -2.3 L0 -0Z" fill="#fff" stroke="none"/>
<path d="M3.5 -4.9V4.9M6.8 -4.9V4.9M13.9 -4.9V4.9M17.2 -4.9V4.9M24.3 -4.9V4.9M27.6 -4.9V4.9M34.6 -4.9V4.9M38 -4.9V4.9" fill="none" stroke="#111" stroke-width="1.7" style="stroke-linecap:butt" transform="skewX(-15)"/>
<path d="M0 -0C0.1 -0.4 0.6 -1.7 0.9 -2.3C1.2 -2.9 1.4 -3.1 1.7 -3.4C2 -3.8 2.3 -4 2.6 -4.3C2.9 -4.5 3.2 -4.7 3.5 -4.8C3.7 -5 4 -5.1 4.3 -5.2C4.6 -5.3 4.9 -5.3 5.2 -5.3C5.5 -5.3 5.8 -5.3 6.1 -5.2C6.3 -5.1 6.6 -5 6.9 -4.8C7.2 -4.7 7.5 -4.5 7.8 -4.3C8.1 -4 8.4 -3.8 8.6 -3.4C8.9 -3.1 9.2 -2.9 9.5 -2.3C9.8 -1.7 10.1 -0.8 10.4 -0C10.7 0.8 11 1.7 11.2 2.3C11.5 2.9 11.8 3.1 12.1 3.4C12.4 3.8 12.7 4 13 4.3C13.3 4.5 13.5 4.7 13.8 4.8C14.1 5 14.4 5.1 14.7 5.2C15 5.3 15.3 5.3 15.6 5.3C15.8 5.3 16.1 5.3 16.4 5.2C16.7 5.1 17 5 17.3 4.8C17.6 4.7 17.9 4.5 18.2 4.3C18.4 4 18.7 3.8 19 3.4C19.3 3.1 19.6 2.9 19.9 2.3C20.2 1.7 20.5 0.8 20.7 0C21 -0.8 21.3 -1.7 21.6 -2.3C21.9 -2.9 22.2 -3.1 22.5 -3.4C22.8 -3.8 23.1 -4 23.3 -4.3C23.6 -4.5 23.9 -4.7 24.2 -4.8C24.5 -5 24.8 -5.1 25.1 -5.2C25.4 -5.3 25.6 -5.3 25.9 -5.3C26.2 -5.3 26.5 -5.3 26.8 -5.2C27.1 -5.1 27.4 -5 27.7 -4.8C28 -4.7 28.2 -4.5 28.5 -4.3C28.8 -4 29.1 -3.8 29.4 -3.4C29.7 -3.1 30 -2.9 30.3 -2.3C30.5 -1.7 30.8 -0.8 31.1 -0C31.4 0.8 31.7 1.7 32 2.3C32.3 2.9 32.6 3.1 32.9 3.4C33.1 3.8 33.4 4 33.7 4.3C34 4.5 34.3 4.7 34.6 4.8C34.9 5 35.2 5.1 35.4 5.2C35.7 5.3 36 5.3 36.3 5.3C36.6 5.3 36.9 5.3 37.2 5.2C37.5 5.1 37.8 5 38 4.8C38.3 4.7 38.6 4.5 38.9 4.3C39.2 4 39.5 3.8 39.8 3.4C40.1 3.1 40.3 2.9 40.6 2.3C40.9 1.7 41.4 0.4 41.5 0" fill="none" stroke="#169a8b" stroke-width="1.9"/>
<path d="M0 0C0.1 0.4 0.6 1.7 0.9 2.3C1.2 2.9 1.4 3.1 1.7 3.4C2 3.8 2.3 4 2.6 4.3C2.9 4.5 3.2 4.7 3.5 4.8C3.7 5 4 5.1 4.3 5.2C4.6 5.3 4.9 5.3 5.2 5.3C5.5 5.3 5.8 5.3 6.1 5.2C6.3 5.1 6.6 5 6.9 4.8C7.2 4.7 7.5 4.5 7.8 4.3C8.1 4 8.4 3.8 8.6 3.4C8.9 3.1 9.2 2.9 9.5 2.3C9.8 1.7 10.1 0.8 10.4 0C10.7 -0.8 11 -1.7 11.2 -2.3C11.5 -2.9 11.8 -3.1 12.1 -3.4C12.4 -3.8 12.7 -4 13 -4.3C13.3 -4.5 13.5 -4.7 13.8 -4.8C14.1 -5 14.4 -5.1 14.7 -5.2C15 -5.3 15.3 -5.3 15.6 -5.3C15.8 -5.3 16.1 -5.3 16.4 -5.2C16.7 -5.1 17 -5 17.3 -4.8C17.6 -4.7 17.9 -4.5 18.2 -4.3C18.4 -4 18.7 -3.8 19 -3.4C19.3 -3.1 19.6 -2.9 19.9 -2.3C20.2 -1.7 20.5 -0.8 20.7 -0C21 0.8 21.3 1.7 21.6 2.3C21.9 2.9 22.2 3.1 22.5 3.4C22.8 3.8 23.1 4 23.3 4.3C23.6 4.5 23.9 4.7 24.2 4.8C24.5 5 24.8 5.1 25.1 5.2C25.4 5.3 25.6 5.3 25.9 5.3C26.2 5.3 26.5 5.3 26.8 5.2C27.1 5.1 27.4 5 27.7 4.8C28 4.7 28.2 4.5 28.5 4.3C28.8 4 29.1 3.8 29.4 3.4C29.7 3.1 30 2.9 30.3 2.3C30.5 1.7 30.8 0.8 31.1 0C31.4 -0.8 31.7 -1.7 32 -2.3C32.3 -2.9 32.6 -3.1 32.9 -3.4C33.1 -3.8 33.4 -4 33.7 -4.3C34 -4.5 34.3 -4.7 34.6 -4.8C34.9 -5 35.2 -5.1 35.4 -5.2C35.7 -5.3 36 -5.3 36.3 -5.3C36.6 -5.3 36.9 -5.3 37.2 -5.2C37.5 -5.1 37.8 -5 38 -4.8C38.3 -4.7 38.6 -4.5 38.9 -4.3C39.2 -4 39.5 -3.8 39.8 -3.4C40.1 -3.1 40.3 -2.9 40.6 -2.3C40.9 -1.7 41.4 -0.4 41.5 -0" fill="none" stroke="#169a8b" stroke-width="1.9"/>
</g>
<circle cx="163.5" cy="658.8" r="3" fill="url(#gd)"/>
<path d="M187.9 680.4C188.1 680.6 188.8 681.1 189.2 681.4C189.5 681.7 189.7 682 189.8 682.3C189.8 682.5 189.6 682.7 189.3 682.8C188.9 683 188.3 683.1 187.7 683.2C187.1 683.2 186.2 683.3 185.5 683.3C184.7 683.4 183.9 683.4 183.2 683.6C182.5 683.7 181.9 683.8 181.4 684.1C181 684.4 180.7 684.8 180.4 685.3C180.2 685.8 180.1 686.5 180.1 687.1C180 687.8 180 688.7 179.9 689.4C179.8 690.2 179.7 691.1 179.4 691.7C179.1 692.4 178.8 693 178.3 693.4C177.8 693.8 177.2 694.1 176.6 694.1C175.9 694.1 175.2 693.9 174.5 693.6C173.8 693.4 173.1 692.8 172.5 692.4C171.9 692 171.3 691.4 170.8 691.1C170.3 690.8 169.8 690.4 169.4 690.3C168.9 690.2 168.5 690.3 168 690.5C167.5 690.7 167 691.1 166.4 691.6C165.9 692 165.3 692.6 164.8 693.1C164.3 693.5 163.8 694.1 163.4 694.4C163 694.8 162.8 695 162.6 695.1C162.4 695.2 162.4 695.1 162.4 694.8C162.4 694.6 162.5 693.8 162.5 693.6" fill="none" stroke="#604996" stroke-width="2.1"/>
<path d="M229.6 673.4C229.3 673.5 228.4 673.7 228 673.8C227.5 673.9 227.1 673.9 226.9 673.7C226.7 673.6 226.6 673.3 226.7 672.8C226.8 672.4 227 671.7 227.3 671.1C227.7 670.5 228.2 669.7 228.7 669.1C229.1 668.5 229.7 667.9 230.1 667.4C230.5 666.9 230.9 666.4 231 666C231.2 665.6 231.2 665.2 231.1 664.7C231 664.3 230.6 663.8 230.3 663.2C230 662.6 229.5 661.9 229.2 661.2C228.9 660.5 228.6 659.7 228.5 659C228.4 658.3 228.4 657.6 228.7 657C228.9 656.4 229.3 656 229.8 655.6C230.3 655.3 231.1 655.2 231.8 655C232.5 654.9 233.4 655 234.1 654.9C234.9 654.9 235.7 654.9 236.4 654.8C237.1 654.6 237.7 654.4 238.1 654.1C238.6 653.7 238.9 653.3 239.1 652.7C239.2 652.1 239.2 651.4 239.1 650.7C239.1 649.9 238.9 649.1 238.7 648.4C238.6 647.7 238.3 646.9 238.2 646.4C238.1 645.8 238 645.4 238 645.2C238.1 645 238.2 645 238.4 645.1C238.7 645.2 239.3 645.7 239.5 645.8" fill="none" stroke="#604996" stroke-width="2.1"/>
<circle cx="186.5" cy="675.5" r="5.4" fill="url(#gb)"/>
<circle cx="178.9" cy="676.6" r="5.4" fill="url(#go)"/>
<circle cx="171.3" cy="677.7" r="5.4" fill="url(#gr)"/>
<circle cx="163.7" cy="678.8" r="5.4" fill="url(#gb)"/>
<circle cx="156" cy="679.9" r="5.4" fill="url(#gg)"/>
<circle cx="148.4" cy="681" r="5.4" fill="url(#gb)"/>
<circle cx="140.8" cy="682.1" r="5.4" fill="url(#gr)"/>
<g transform="translate(231.1 673.3) rotate(177.2)">
<path d="M0 0C0.2 0.4 0.6 1.7 0.9 2.3C1.2 2.9 1.5 3.1 1.8 3.4C2.1 3.8 2.4 4 2.7 4.3C3 4.5 3.3 4.7 3.6 4.8C3.9 5 4.2 5.1 4.5 5.2C4.8 5.3 5.1 5.3 5.4 5.3C5.7 5.3 6 5.3 6.3 5.2C6.6 5.1 6.9 5 7.2 4.8C7.5 4.7 7.8 4.5 8.1 4.3C8.4 4 8.8 3.8 9.1 3.4C9.4 3.1 9.7 2.9 10 2.3C10.3 1.7 10.6 0.8 10.9 0C11.2 -0.8 11.5 -1.7 11.8 -2.3C12.1 -2.9 12.4 -3.1 12.7 -3.4C13 -3.8 13.3 -4 13.6 -4.3C13.9 -4.5 14.2 -4.7 14.5 -4.8C14.8 -5 15.1 -5.1 15.4 -5.2C15.7 -5.3 16 -5.3 16.3 -5.3C16.6 -5.3 16.9 -5.3 17.2 -5.2C17.5 -5.1 17.8 -5 18.1 -4.8C18.4 -4.7 18.7 -4.5 19 -4.3C19.3 -4 19.6 -3.8 19.9 -3.4C20.2 -3.1 20.5 -2.9 20.8 -2.3C21.1 -1.7 21.4 -0.8 21.7 -0C22 0.8 22.3 1.7 22.6 2.3C22.9 2.9 23.2 3.1 23.5 3.4C23.8 3.8 24.1 4 24.4 4.3C24.7 4.5 25 4.7 25.3 4.8C25.6 5 25.9 5.1 26.3 5.2C26.6 5.3 26.9 5.3 27.2 5.3C27.5 5.3 27.8 5.3 28.1 5.2C28.4 5.1 28.7 5 29 4.8C29.3 4.7 29.6 4.5 29.9 4.3C30.2 4 30.5 3.8 30.8 3.4C31.1 3.1 31.4 2.9 31.7 2.3C32 1.7 32.3 0.8 32.6 0C32.9 -0.8 33.2 -1.7 33.5 -2.3C33.8 -2.9 34.1 -3.1 34.4 -3.4C34.7 -3.8 35 -4 35.3 -4.3C35.6 -4.5 35.9 -4.7 36.2 -4.8C36.5 -5 36.8 -5.1 37.1 -5.2C37.4 -5.3 37.7 -5.3 38 -5.3C38.3 -5.3 38.6 -5.3 38.9 -5.2C39.2 -5.1 39.5 -5 39.8 -4.8C40.1 -4.7 40.4 -4.5 40.7 -4.3C41 -4 41.3 -3.8 41.6 -3.4C41.9 -3.1 42.2 -2.9 42.5 -2.3C42.8 -1.7 43.3 -0.4 43.5 -0 L43.5 0 L42.5 2.3 L41.6 3.4 L40.7 4.3 L39.8 4.8 L38.9 5.2 L38 5.3 L37.1 5.2 L36.2 4.8 L35.3 4.3 L34.4 3.4 L33.5 2.3 L32.6 -0 L31.7 -2.3 L30.8 -3.4 L29.9 -4.3 L29 -4.8 L28.1 -5.2 L27.2 -5.3 L26.3 -5.2 L25.3 -4.8 L24.4 -4.3 L23.5 -3.4 L22.6 -2.3 L21.7 0 L20.8 2.3 L19.9 3.4 L19 4.3 L18.1 4.8 L17.2 5.2 L16.3 5.3 L15.4 5.2 L14.5 4.8 L13.6 4.3 L12.7 3.4 L11.8 2.3 L10.9 -0 L10 -2.3 L9.1 -3.4 L8.1 -4.3 L7.2 -4.8 L6.3 -5.2 L5.4 -5.3 L4.5 -5.2 L3.6 -4.8 L2.7 -4.3 L1.8 -3.4 L0.9 -2.3 L0 -0Z" fill="#fff" stroke="none"/>
<path d="M3.7 -4.9V4.9M7.2 -4.9V4.9M14.6 -4.9V4.9M18 -4.9V4.9M25.4 -4.9V4.9M28.9 -4.9V4.9M36.3 -4.9V4.9M39.8 -4.9V4.9" fill="none" stroke="#111" stroke-width="1.7" style="stroke-linecap:butt" transform="skewX(-15)"/>
<path d="M0 -0C0.2 -0.4 0.6 -1.7 0.9 -2.3C1.2 -2.9 1.5 -3.1 1.8 -3.4C2.1 -3.8 2.4 -4 2.7 -4.3C3 -4.5 3.3 -4.7 3.6 -4.8C3.9 -5 4.2 -5.1 4.5 -5.2C4.8 -5.3 5.1 -5.3 5.4 -5.3C5.7 -5.3 6 -5.3 6.3 -5.2C6.6 -5.1 6.9 -5 7.2 -4.8C7.5 -4.7 7.8 -4.5 8.1 -4.3C8.4 -4 8.8 -3.8 9.1 -3.4C9.4 -3.1 9.7 -2.9 10 -2.3C10.3 -1.7 10.6 -0.8 10.9 -0C11.2 0.8 11.5 1.7 11.8 2.3C12.1 2.9 12.4 3.1 12.7 3.4C13 3.8 13.3 4 13.6 4.3C13.9 4.5 14.2 4.7 14.5 4.8C14.8 5 15.1 5.1 15.4 5.2C15.7 5.3 16 5.3 16.3 5.3C16.6 5.3 16.9 5.3 17.2 5.2C17.5 5.1 17.8 5 18.1 4.8C18.4 4.7 18.7 4.5 19 4.3C19.3 4 19.6 3.8 19.9 3.4C20.2 3.1 20.5 2.9 20.8 2.3C21.1 1.7 21.4 0.8 21.7 0C22 -0.8 22.3 -1.7 22.6 -2.3C22.9 -2.9 23.2 -3.1 23.5 -3.4C23.8 -3.8 24.1 -4 24.4 -4.3C24.7 -4.5 25 -4.7 25.3 -4.8C25.6 -5 25.9 -5.1 26.3 -5.2C26.6 -5.3 26.9 -5.3 27.2 -5.3C27.5 -5.3 27.8 -5.3 28.1 -5.2C28.4 -5.1 28.7 -5 29 -4.8C29.3 -4.7 29.6 -4.5 29.9 -4.3C30.2 -4 30.5 -3.8 30.8 -3.4C31.1 -3.1 31.4 -2.9 31.7 -2.3C32 -1.7 32.3 -0.8 32.6 -0C32.9 0.8 33.2 1.7 33.5 2.3C33.8 2.9 34.1 3.1 34.4 3.4C34.7 3.8 35 4 35.3 4.3C35.6 4.5 35.9 4.7 36.2 4.8C36.5 5 36.8 5.1 37.1 5.2C37.4 5.3 37.7 5.3 38 5.3C38.3 5.3 38.6 5.3 38.9 5.2C39.2 5.1 39.5 5 39.8 4.8C40.1 4.7 40.4 4.5 40.7 4.3C41 4 41.3 3.8 41.6 3.4C41.9 3.1 42.2 2.9 42.5 2.3C42.8 1.7 43.3 0.4 43.5 0" fill="none" stroke="#604996" stroke-width="1.9"/>
<path d="M0 0C0.2 0.4 0.6 1.7 0.9 2.3C1.2 2.9 1.5 3.1 1.8 3.4C2.1 3.8 2.4 4 2.7 4.3C3 4.5 3.3 4.7 3.6 4.8C3.9 5 4.2 5.1 4.5 5.2C4.8 5.3 5.1 5.3 5.4 5.3C5.7 5.3 6 5.3 6.3 5.2C6.6 5.1 6.9 5 7.2 4.8C7.5 4.7 7.8 4.5 8.1 4.3C8.4 4 8.8 3.8 9.1 3.4C9.4 3.1 9.7 2.9 10 2.3C10.3 1.7 10.6 0.8 10.9 0C11.2 -0.8 11.5 -1.7 11.8 -2.3C12.1 -2.9 12.4 -3.1 12.7 -3.4C13 -3.8 13.3 -4 13.6 -4.3C13.9 -4.5 14.2 -4.7 14.5 -4.8C14.8 -5 15.1 -5.1 15.4 -5.2C15.7 -5.3 16 -5.3 16.3 -5.3C16.6 -5.3 16.9 -5.3 17.2 -5.2C17.5 -5.1 17.8 -5 18.1 -4.8C18.4 -4.7 18.7 -4.5 19 -4.3C19.3 -4 19.6 -3.8 19.9 -3.4C20.2 -3.1 20.5 -2.9 20.8 -2.3C21.1 -1.7 21.4 -0.8 21.7 -0C22 0.8 22.3 1.7 22.6 2.3C22.9 2.9 23.2 3.1 23.5 3.4C23.8 3.8 24.1 4 24.4 4.3C24.7 4.5 25 4.7 25.3 4.8C25.6 5 25.9 5.1 26.3 5.2C26.6 5.3 26.9 5.3 27.2 5.3C27.5 5.3 27.8 5.3 28.1 5.2C28.4 5.1 28.7 5 29 4.8C29.3 4.7 29.6 4.5 29.9 4.3C30.2 4 30.5 3.8 30.8 3.4C31.1 3.1 31.4 2.9 31.7 2.3C32 1.7 32.3 0.8 32.6 0C32.9 -0.8 33.2 -1.7 33.5 -2.3C33.8 -2.9 34.1 -3.1 34.4 -3.4C34.7 -3.8 35 -4 35.3 -4.3C35.6 -4.5 35.9 -4.7 36.2 -4.8C36.5 -5 36.8 -5.1 37.1 -5.2C37.4 -5.3 37.7 -5.3 38 -5.3C38.3 -5.3 38.6 -5.3 38.9 -5.2C39.2 -5.1 39.5 -5 39.8 -4.8C40.1 -4.7 40.4 -4.5 40.7 -4.3C41 -4 41.3 -3.8 41.6 -3.4C41.9 -3.1 42.2 -2.9 42.5 -2.3C42.8 -1.7 43.3 -0.4 43.5 -0" fill="none" stroke="#604996" stroke-width="1.9"/>
</g>
<circle cx="229.6" cy="673.4" r="3" fill="url(#gd)"/>
<path d="M95.7 715.5C95.9 715.3 96.6 714.7 97 714.5C97.4 714.3 97.8 714.1 98.1 714.2C98.4 714.3 98.6 714.6 98.7 715.1C98.9 715.6 98.9 716.3 99 717.1C99 717.8 98.9 718.8 98.9 719.7C98.9 720.5 98.8 721.5 98.8 722.3C98.9 723 99 723.8 99.3 724.4C99.6 725 100 725.5 100.6 725.9C101.2 726.2 102 726.5 102.7 726.6C103.5 726.7 104.4 726.7 105.2 726.7C106 726.7 106.8 726.6 107.4 726.6C108.1 726.5 108.6 726.5 109.1 726.6C109.5 726.7 109.7 726.9 110 727.3C110.3 727.6 110.5 728.2 110.8 728.8C111 729.4 111.3 730.1 111.7 730.7C112.2 731.4 112.7 732.1 113.2 732.5C113.7 732.9 114.4 733.3 114.9 733.3C115.5 733.4 116.1 733.3 116.7 733C117.2 732.7 117.7 732.1 118.1 731.6C118.6 731 119 730.2 119.4 729.6C119.8 729 120.1 728.2 120.4 727.8C120.7 727.3 120.9 726.9 121 726.8C121.2 726.7 121.3 726.7 121.4 727C121.5 727.2 121.7 728 121.7 728.2" fill="none" stroke="#604996" stroke-width="2.1"/>
<path d="M53.7 709.6C54 709.6 54.8 709.8 55.2 709.8C55.7 709.9 56 709.9 56.2 709.8C56.4 709.6 56.4 709.4 56.3 709.1C56.2 708.8 55.9 708.3 55.5 707.8C55.2 707.3 54.6 706.7 54.1 706.2C53.7 705.7 53.1 705.2 52.7 704.8C52.3 704.3 51.9 704 51.7 703.6C51.6 703.2 51.6 702.9 51.7 702.5C51.8 702.1 52.1 701.7 52.4 701.2C52.7 700.6 53.1 700 53.4 699.4C53.7 698.8 54.1 698 54.2 697.4C54.3 696.8 54.3 696.1 54.2 695.6C54 695.1 53.6 694.7 53.2 694.4C52.7 694 52.1 693.9 51.4 693.7C50.8 693.5 49.9 693.5 49.2 693.3C48.5 693.2 47.7 693.1 47 692.9C46.4 692.7 45.8 692.4 45.4 692C45 691.6 44.7 691 44.5 690.4C44.4 689.8 44.4 689 44.4 688.3C44.5 687.6 44.7 686.7 44.8 686C44.9 685.2 45.2 684.5 45.3 684C45.4 683.5 45.5 683.1 45.5 682.9C45.4 682.7 45.3 682.7 45.1 682.7C44.9 682.8 44.3 683.2 44.1 683.3" fill="none" stroke="#604996" stroke-width="2.1"/>
<circle cx="96" cy="713" r="5.4" fill="url(#gb)"/>
<circle cx="103.7" cy="713.9" r="5.4" fill="url(#go)"/>
<circle cx="111.5" cy="714.8" r="5.4" fill="url(#gr)"/>
<circle cx="119.2" cy="715.7" r="5.4" fill="url(#gb)"/>
<circle cx="126.9" cy="716.6" r="5.4" fill="url(#gg)"/>
<circle cx="134.7" cy="717.5" r="5.4" fill="url(#gb)"/>
<circle cx="142.4" cy="718.4" r="5.4" fill="url(#gr)"/>
<g transform="translate(52.2 709.5) rotate(4.6)">
<path d="M0 0C0.1 0.4 0.6 1.7 0.9 2.3C1.2 2.9 1.5 3.1 1.8 3.4C2.1 3.8 2.4 4 2.7 4.3C3 4.5 3.3 4.7 3.6 4.8C3.9 5 4.2 5.1 4.5 5.2C4.7 5.3 5 5.3 5.3 5.3C5.6 5.3 5.9 5.3 6.2 5.2C6.5 5.1 6.8 5 7.1 4.8C7.4 4.7 7.7 4.5 8 4.3C8.3 4 8.6 3.8 8.9 3.4C9.2 3.1 9.5 2.9 9.8 2.3C10.1 1.7 10.4 0.8 10.7 0C11 -0.8 11.3 -1.7 11.6 -2.3C11.9 -2.9 12.2 -3.1 12.5 -3.4C12.8 -3.8 13.1 -4 13.4 -4.3C13.7 -4.5 13.9 -4.7 14.2 -4.8C14.5 -5 14.8 -5.1 15.1 -5.2C15.4 -5.3 15.7 -5.3 16 -5.3C16.3 -5.3 16.6 -5.3 16.9 -5.2C17.2 -5.1 17.5 -5 17.8 -4.8C18.1 -4.7 18.4 -4.5 18.7 -4.3C19 -4 19.3 -3.8 19.6 -3.4C19.9 -3.1 20.2 -2.9 20.5 -2.3C20.8 -1.7 21.1 -0.8 21.4 -0C21.7 0.8 22 1.7 22.3 2.3C22.6 2.9 22.9 3.1 23.1 3.4C23.4 3.8 23.7 4 24 4.3C24.3 4.5 24.6 4.7 24.9 4.8C25.2 5 25.5 5.1 25.8 5.2C26.1 5.3 26.4 5.3 26.7 5.3C27 5.3 27.3 5.3 27.6 5.2C27.9 5.1 28.2 5 28.5 4.8C28.8 4.7 29.1 4.5 29.4 4.3C29.7 4 30 3.8 30.3 3.4C30.6 3.1 30.9 2.9 31.2 2.3C31.5 1.7 31.8 0.8 32.1 0C32.3 -0.8 32.6 -1.7 32.9 -2.3C33.2 -2.9 33.5 -3.1 33.8 -3.4C34.1 -3.8 34.4 -4 34.7 -4.3C35 -4.5 35.3 -4.7 35.6 -4.8C35.9 -5 36.2 -5.1 36.5 -5.2C36.8 -5.3 37.1 -5.3 37.4 -5.3C37.7 -5.3 38 -5.3 38.3 -5.2C38.6 -5.1 38.9 -5 39.2 -4.8C39.5 -4.7 39.8 -4.5 40.1 -4.3C40.4 -4 40.7 -3.8 41 -3.4C41.3 -3.1 41.5 -2.9 41.8 -2.3C42.1 -1.7 42.6 -0.4 42.7 -0 L42.7 0 L41.8 2.3 L41 3.4 L40.1 4.3 L39.2 4.8 L38.3 5.2 L37.4 5.3 L36.5 5.2 L35.6 4.8 L34.7 4.3 L33.8 3.4 L32.9 2.3 L32.1 -0 L31.2 -2.3 L30.3 -3.4 L29.4 -4.3 L28.5 -4.8 L27.6 -5.2 L26.7 -5.3 L25.8 -5.2 L24.9 -4.8 L24 -4.3 L23.1 -3.4 L22.3 -2.3 L21.4 0 L20.5 2.3 L19.6 3.4 L18.7 4.3 L17.8 4.8 L16.9 5.2 L16 5.3 L15.1 5.2 L14.2 4.8 L13.4 4.3 L12.5 3.4 L11.6 2.3 L10.7 -0 L9.8 -2.3 L8.9 -3.4 L8 -4.3 L7.1 -4.8 L6.2 -5.2 L5.3 -5.3 L4.5 -5.2 L3.6 -4.8 L2.7 -4.3 L1.8 -3.4 L0.9 -2.3 L0 -0Z" fill="#fff" stroke="none"/>
<path d="M3.6 -4.9V4.9M7.1 -4.9V4.9M14.3 -4.9V4.9M17.7 -4.9V4.9M25 -4.9V4.9M28.4 -4.9V4.9M35.7 -4.9V4.9M39.1 -4.9V4.9" fill="none" stroke="#111" stroke-width="1.7" style="stroke-linecap:butt" transform="skewX(-15)"/>
<path d="M0 -0C0.1 -0.4 0.6 -1.7 0.9 -2.3C1.2 -2.9 1.5 -3.1 1.8 -3.4C2.1 -3.8 2.4 -4 2.7 -4.3C3 -4.5 3.3 -4.7 3.6 -4.8C3.9 -5 4.2 -5.1 4.5 -5.2C4.7 -5.3 5 -5.3 5.3 -5.3C5.6 -5.3 5.9 -5.3 6.2 -5.2C6.5 -5.1 6.8 -5 7.1 -4.8C7.4 -4.7 7.7 -4.5 8 -4.3C8.3 -4 8.6 -3.8 8.9 -3.4C9.2 -3.1 9.5 -2.9 9.8 -2.3C10.1 -1.7 10.4 -0.8 10.7 -0C11 0.8 11.3 1.7 11.6 2.3C11.9 2.9 12.2 3.1 12.5 3.4C12.8 3.8 13.1 4 13.4 4.3C13.7 4.5 13.9 4.7 14.2 4.8C14.5 5 14.8 5.1 15.1 5.2C15.4 5.3 15.7 5.3 16 5.3C16.3 5.3 16.6 5.3 16.9 5.2C17.2 5.1 17.5 5 17.8 4.8C18.1 4.7 18.4 4.5 18.7 4.3C19 4 19.3 3.8 19.6 3.4C19.9 3.1 20.2 2.9 20.5 2.3C20.8 1.7 21.1 0.8 21.4 0C21.7 -0.8 22 -1.7 22.3 -2.3C22.6 -2.9 22.9 -3.1 23.1 -3.4C23.4 -3.8 23.7 -4 24 -4.3C24.3 -4.5 24.6 -4.7 24.9 -4.8C25.2 -5 25.5 -5.1 25.8 -5.2C26.1 -5.3 26.4 -5.3 26.7 -5.3C27 -5.3 27.3 -5.3 27.6 -5.2C27.9 -5.1 28.2 -5 28.5 -4.8C28.8 -4.7 29.1 -4.5 29.4 -4.3C29.7 -4 30 -3.8 30.3 -3.4C30.6 -3.1 30.9 -2.9 31.2 -2.3C31.5 -1.7 31.8 -0.8 32.1 -0C32.3 0.8 32.6 1.7 32.9 2.3C33.2 2.9 33.5 3.1 33.8 3.4C34.1 3.8 34.4 4 34.7 4.3C35 4.5 35.3 4.7 35.6 4.8C35.9 5 36.2 5.1 36.5 5.2C36.8 5.3 37.1 5.3 37.4 5.3C37.7 5.3 38 5.3 38.3 5.2C38.6 5.1 38.9 5 39.2 4.8C39.5 4.7 39.8 4.5 40.1 4.3C40.4 4 40.7 3.8 41 3.4C41.3 3.1 41.5 2.9 41.8 2.3C42.1 1.7 42.6 0.4 42.7 0" fill="none" stroke="#604996" stroke-width="1.9"/>
<path d="M0 0C0.1 0.4 0.6 1.7 0.9 2.3C1.2 2.9 1.5 3.1 1.8 3.4C2.1 3.8 2.4 4 2.7 4.3C3 4.5 3.3 4.7 3.6 4.8C3.9 5 4.2 5.1 4.5 5.2C4.7 5.3 5 5.3 5.3 5.3C5.6 5.3 5.9 5.3 6.2 5.2C6.5 5.1 6.8 5 7.1 4.8C7.4 4.7 7.7 4.5 8 4.3C8.3 4 8.6 3.8 8.9 3.4C9.2 3.1 9.5 2.9 9.8 2.3C10.1 1.7 10.4 0.8 10.7 0C11 -0.8 11.3 -1.7 11.6 -2.3C11.9 -2.9 12.2 -3.1 12.5 -3.4C12.8 -3.8 13.1 -4 13.4 -4.3C13.7 -4.5 13.9 -4.7 14.2 -4.8C14.5 -5 14.8 -5.1 15.1 -5.2C15.4 -5.3 15.7 -5.3 16 -5.3C16.3 -5.3 16.6 -5.3 16.9 -5.2C17.2 -5.1 17.5 -5 17.8 -4.8C18.1 -4.7 18.4 -4.5 18.7 -4.3C19 -4 19.3 -3.8 19.6 -3.4C19.9 -3.1 20.2 -2.9 20.5 -2.3C20.8 -1.7 21.1 -0.8 21.4 -0C21.7 0.8 22 1.7 22.3 2.3C22.6 2.9 22.9 3.1 23.1 3.4C23.4 3.8 23.7 4 24 4.3C24.3 4.5 24.6 4.7 24.9 4.8C25.2 5 25.5 5.1 25.8 5.2C26.1 5.3 26.4 5.3 26.7 5.3C27 5.3 27.3 5.3 27.6 5.2C27.9 5.1 28.2 5 28.5 4.8C28.8 4.7 29.1 4.5 29.4 4.3C29.7 4 30 3.8 30.3 3.4C30.6 3.1 30.9 2.9 31.2 2.3C31.5 1.7 31.8 0.8 32.1 0C32.3 -0.8 32.6 -1.7 32.9 -2.3C33.2 -2.9 33.5 -3.1 33.8 -3.4C34.1 -3.8 34.4 -4 34.7 -4.3C35 -4.5 35.3 -4.7 35.6 -4.8C35.9 -5 36.2 -5.1 36.5 -5.2C36.8 -5.3 37.1 -5.3 37.4 -5.3C37.7 -5.3 38 -5.3 38.3 -5.2C38.6 -5.1 38.9 -5 39.2 -4.8C39.5 -4.7 39.8 -4.5 40.1 -4.3C40.4 -4 40.7 -3.8 41 -3.4C41.3 -3.1 41.5 -2.9 41.8 -2.3C42.1 -1.7 42.6 -0.4 42.7 -0" fill="none" stroke="#604996" stroke-width="1.9"/>
</g>
<circle cx="53.7" cy="709.6" r="3" fill="url(#gd)"/>
<path d="M188.5 724.8C188.6 725 189.2 725.8 189.4 726.2C189.6 726.6 189.7 727 189.7 727.2C189.6 727.5 189.4 727.6 189 727.6C188.6 727.7 188 727.6 187.3 727.4C186.7 727.3 185.9 727 185.2 726.8C184.5 726.6 183.7 726.3 183.1 726.1C182.5 726 181.9 725.9 181.4 726C180.9 726.1 180.6 726.3 180.3 726.6C179.9 727 179.8 727.5 179.5 728.1C179.2 728.7 179 729.5 178.6 730.1C178.2 730.8 177.8 731.5 177.3 732C176.8 732.4 176.1 732.8 175.5 732.9C174.9 733 174.2 732.9 173.7 732.6C173.1 732.3 172.6 731.7 172.2 731.1C171.7 730.5 171.4 729.6 171 728.9C170.7 728.2 170.4 727.4 170 726.8C169.6 726.3 169.2 725.7 168.7 725.4C168.2 725 167.6 724.9 166.9 724.9C166.2 724.8 165.5 725 164.7 725.2C163.9 725.4 163.1 725.8 162.3 726.1C161.6 726.4 160.8 726.7 160.2 726.9C159.7 727.2 159.2 727.3 159 727.3C158.7 727.3 158.7 727.2 158.7 726.9C158.7 726.7 159.1 726 159.1 725.8" fill="none" stroke="#169a8b" stroke-width="2.1"/>
<path d="M228.6 740.8C228.4 740.7 227.5 740.4 227.1 740.2C226.8 739.9 226.4 739.7 226.4 739.4C226.3 739.1 226.5 738.7 226.8 738.3C227.2 737.9 227.8 737.4 228.4 737.1C229.1 736.7 230 736.4 230.7 736.1C231.4 735.8 232.3 735.6 232.9 735.4C233.5 735.1 234.1 734.9 234.5 734.6C234.9 734.3 235.1 734 235.3 733.5C235.4 733.1 235.4 732.5 235.4 731.9C235.5 731.2 235.4 730.4 235.5 729.7C235.6 729 235.7 728.2 236 727.6C236.2 727 236.6 726.5 237 726.2C237.4 725.9 237.9 725.8 238.4 725.9C238.9 726 239.5 726.3 240 726.6C240.5 727 241.1 727.5 241.6 727.9C242.2 728.3 242.8 728.8 243.3 729.1C243.9 729.3 244.4 729.5 244.9 729.5C245.4 729.4 245.9 729.1 246.3 728.8C246.7 728.4 247.1 727.7 247.4 727.1C247.7 726.5 248 725.6 248.2 724.9C248.5 724.2 248.8 723.4 249 722.9C249.3 722.4 249.5 721.9 249.7 721.7C249.9 721.6 250 721.6 250.2 721.8C250.3 722 250.6 722.7 250.7 722.9" fill="none" stroke="#169a8b" stroke-width="2.1"/>
<circle cx="191" cy="721.2" r="5.4" fill="url(#gr)"/>
<circle cx="183.8" cy="718.2" r="5.4" fill="url(#gb)"/>
<circle cx="176.5" cy="715.2" r="5.4" fill="url(#go)"/>
<circle cx="169.2" cy="712.2" r="5.4" fill="url(#gg)"/>
<circle cx="162" cy="709.1" r="5.4" fill="url(#gr)"/>
<circle cx="154.8" cy="706.1" r="5.4" fill="url(#gg)"/>
<circle cx="147.5" cy="703.1" r="5.4" fill="url(#gb)"/>
<g transform="translate(229.9 741.5) rotate(-152.5)">
<path d="M0 0C0.1 0.4 0.6 1.7 0.9 2.3C1.2 2.9 1.5 3.1 1.8 3.4C2.1 3.8 2.4 4 2.7 4.3C3 4.5 3.3 4.7 3.6 4.8C3.9 5 4.2 5.1 4.4 5.2C4.7 5.3 5 5.3 5.3 5.3C5.6 5.3 5.9 5.3 6.2 5.2C6.5 5.1 6.8 5 7.1 4.8C7.4 4.7 7.7 4.5 8 4.3C8.3 4 8.6 3.8 8.9 3.4C9.2 3.1 9.5 2.9 9.8 2.3C10.1 1.7 10.4 0.8 10.7 0C11 -0.8 11.3 -1.7 11.6 -2.3C11.9 -2.9 12.2 -3.1 12.5 -3.4C12.8 -3.8 13 -4 13.3 -4.3C13.6 -4.5 13.9 -4.7 14.2 -4.8C14.5 -5 14.8 -5.1 15.1 -5.2C15.4 -5.3 15.7 -5.3 16 -5.3C16.3 -5.3 16.6 -5.3 16.9 -5.2C17.2 -5.1 17.5 -5 17.8 -4.8C18.1 -4.7 18.4 -4.5 18.7 -4.3C19 -4 19.3 -3.8 19.6 -3.4C19.9 -3.1 20.2 -2.9 20.5 -2.3C20.8 -1.7 21.1 -0.8 21.4 -0C21.6 0.8 21.9 1.7 22.2 2.3C22.5 2.9 22.8 3.1 23.1 3.4C23.4 3.8 23.7 4 24 4.3C24.3 4.5 24.6 4.7 24.9 4.8C25.2 5 25.5 5.1 25.8 5.2C26.1 5.3 26.4 5.3 26.7 5.3C27 5.3 27.3 5.3 27.6 5.2C27.9 5.1 28.2 5 28.5 4.8C28.8 4.7 29.1 4.5 29.4 4.3C29.7 4 30 3.8 30.2 3.4C30.5 3.1 30.8 2.9 31.1 2.3C31.4 1.7 31.7 0.8 32 0C32.3 -0.8 32.6 -1.7 32.9 -2.3C33.2 -2.9 33.5 -3.1 33.8 -3.4C34.1 -3.8 34.4 -4 34.7 -4.3C35 -4.5 35.3 -4.7 35.6 -4.8C35.9 -5 36.2 -5.1 36.5 -5.2C36.8 -5.3 37.1 -5.3 37.4 -5.3C37.7 -5.3 38 -5.3 38.3 -5.2C38.6 -5.1 38.8 -5 39.1 -4.8C39.4 -4.7 39.7 -4.5 40 -4.3C40.3 -4 40.6 -3.8 40.9 -3.4C41.2 -3.1 41.5 -2.9 41.8 -2.3C42.1 -1.7 42.6 -0.4 42.7 -0 L42.7 0 L41.8 2.3 L40.9 3.4 L40 4.3 L39.1 4.8 L38.3 5.2 L37.4 5.3 L36.5 5.2 L35.6 4.8 L34.7 4.3 L33.8 3.4 L32.9 2.3 L32 -0 L31.1 -2.3 L30.2 -3.4 L29.4 -4.3 L28.5 -4.8 L27.6 -5.2 L26.7 -5.3 L25.8 -5.2 L24.9 -4.8 L24 -4.3 L23.1 -3.4 L22.2 -2.3 L21.4 0 L20.5 2.3 L19.6 3.4 L18.7 4.3 L17.8 4.8 L16.9 5.2 L16 5.3 L15.1 5.2 L14.2 4.8 L13.3 4.3 L12.5 3.4 L11.6 2.3 L10.7 -0 L9.8 -2.3 L8.9 -3.4 L8 -4.3 L7.1 -4.8 L6.2 -5.2 L5.3 -5.3 L4.4 -5.2 L3.6 -4.8 L2.7 -4.3 L1.8 -3.4 L0.9 -2.3 L0 -0Z" fill="#fff" stroke="none"/>
<path d="M3.6 -4.9V4.9M7 -4.9V4.9M14.3 -4.9V4.9M17.7 -4.9V4.9M25 -4.9V4.9M28.4 -4.9V4.9M35.7 -4.9V4.9M39.1 -4.9V4.9" fill="none" stroke="#111" stroke-width="1.7" style="stroke-linecap:butt" transform="skewX(-15)"/>
<path d="M0 -0C0.1 -0.4 0.6 -1.7 0.9 -2.3C1.2 -2.9 1.5 -3.1 1.8 -3.4C2.1 -3.8 2.4 -4 2.7 -4.3C3 -4.5 3.3 -4.7 3.6 -4.8C3.9 -5 4.2 -5.1 4.4 -5.2C4.7 -5.3 5 -5.3 5.3 -5.3C5.6 -5.3 5.9 -5.3 6.2 -5.2C6.5 -5.1 6.8 -5 7.1 -4.8C7.4 -4.7 7.7 -4.5 8 -4.3C8.3 -4 8.6 -3.8 8.9 -3.4C9.2 -3.1 9.5 -2.9 9.8 -2.3C10.1 -1.7 10.4 -0.8 10.7 -0C11 0.8 11.3 1.7 11.6 2.3C11.9 2.9 12.2 3.1 12.5 3.4C12.8 3.8 13 4 13.3 4.3C13.6 4.5 13.9 4.7 14.2 4.8C14.5 5 14.8 5.1 15.1 5.2C15.4 5.3 15.7 5.3 16 5.3C16.3 5.3 16.6 5.3 16.9 5.2C17.2 5.1 17.5 5 17.8 4.8C18.1 4.7 18.4 4.5 18.7 4.3C19 4 19.3 3.8 19.6 3.4C19.9 3.1 20.2 2.9 20.5 2.3C20.8 1.7 21.1 0.8 21.4 0C21.6 -0.8 21.9 -1.7 22.2 -2.3C22.5 -2.9 22.8 -3.1 23.1 -3.4C23.4 -3.8 23.7 -4 24 -4.3C24.3 -4.5 24.6 -4.7 24.9 -4.8C25.2 -5 25.5 -5.1 25.8 -5.2C26.1 -5.3 26.4 -5.3 26.7 -5.3C27 -5.3 27.3 -5.3 27.6 -5.2C27.9 -5.1 28.2 -5 28.5 -4.8C28.8 -4.7 29.1 -4.5 29.4 -4.3C29.7 -4 30 -3.8 30.2 -3.4C30.5 -3.1 30.8 -2.9 31.1 -2.3C31.4 -1.7 31.7 -0.8 32 -0C32.3 0.8 32.6 1.7 32.9 2.3C33.2 2.9 33.5 3.1 33.8 3.4C34.1 3.8 34.4 4 34.7 4.3C35 4.5 35.3 4.7 35.6 4.8C35.9 5 36.2 5.1 36.5 5.2C36.8 5.3 37.1 5.3 37.4 5.3C37.7 5.3 38 5.3 38.3 5.2C38.6 5.1 38.8 5 39.1 4.8C39.4 4.7 39.7 4.5 40 4.3C40.3 4 40.6 3.8 40.9 3.4C41.2 3.1 41.5 2.9 41.8 2.3C42.1 1.7 42.6 0.4 42.7 0" fill="none" stroke="#169a8b" stroke-width="1.9"/>
<path d="M0 0C0.1 0.4 0.6 1.7 0.9 2.3C1.2 2.9 1.5 3.1 1.8 3.4C2.1 3.8 2.4 4 2.7 4.3C3 4.5 3.3 4.7 3.6 4.8C3.9 5 4.2 5.1 4.4 5.2C4.7 5.3 5 5.3 5.3 5.3C5.6 5.3 5.9 5.3 6.2 5.2C6.5 5.1 6.8 5 7.1 4.8C7.4 4.7 7.7 4.5 8 4.3C8.3 4 8.6 3.8 8.9 3.4C9.2 3.1 9.5 2.9 9.8 2.3C10.1 1.7 10.4 0.8 10.7 0C11 -0.8 11.3 -1.7 11.6 -2.3C11.9 -2.9 12.2 -3.1 12.5 -3.4C12.8 -3.8 13 -4 13.3 -4.3C13.6 -4.5 13.9 -4.7 14.2 -4.8C14.5 -5 14.8 -5.1 15.1 -5.2C15.4 -5.3 15.7 -5.3 16 -5.3C16.3 -5.3 16.6 -5.3 16.9 -5.2C17.2 -5.1 17.5 -5 17.8 -4.8C18.1 -4.7 18.4 -4.5 18.7 -4.3C19 -4 19.3 -3.8 19.6 -3.4C19.9 -3.1 20.2 -2.9 20.5 -2.3C20.8 -1.7 21.1 -0.8 21.4 -0C21.6 0.8 21.9 1.7 22.2 2.3C22.5 2.9 22.8 3.1 23.1 3.4C23.4 3.8 23.7 4 24 4.3C24.3 4.5 24.6 4.7 24.9 4.8C25.2 5 25.5 5.1 25.8 5.2C26.1 5.3 26.4 5.3 26.7 5.3C27 5.3 27.3 5.3 27.6 5.2C27.9 5.1 28.2 5 28.5 4.8C28.8 4.7 29.1 4.5 29.4 4.3C29.7 4 30 3.8 30.2 3.4C30.5 3.1 30.8 2.9 31.1 2.3C31.4 1.7 31.7 0.8 32 0C32.3 -0.8 32.6 -1.7 32.9 -2.3C33.2 -2.9 33.5 -3.1 33.8 -3.4C34.1 -3.8 34.4 -4 34.7 -4.3C35 -4.5 35.3 -4.7 35.6 -4.8C35.9 -5 36.2 -5.1 36.5 -5.2C36.8 -5.3 37.1 -5.3 37.4 -5.3C37.7 -5.3 38 -5.3 38.3 -5.2C38.6 -5.1 38.8 -5 39.1 -4.8C39.4 -4.7 39.7 -4.5 40 -4.3C40.3 -4 40.6 -3.8 40.9 -3.4C41.2 -3.1 41.5 -2.9 41.8 -2.3C42.1 -1.7 42.6 -0.4 42.7 -0" fill="none" stroke="#169a8b" stroke-width="1.9"/>
</g>
<circle cx="228.6" cy="740.8" r="3" fill="url(#gd)"/>
<path d="M126.4 763.4C126.5 763.1 126.7 762.2 126.9 761.8C127.1 761.4 127.3 761 127.5 760.9C127.7 760.8 128 760.9 128.2 761.2C128.5 761.5 128.8 762 129.1 762.6C129.4 763.2 129.7 764 130 764.6C130.2 765.3 130.5 766.1 130.8 766.7C131.1 767.3 131.4 767.8 131.8 768.1C132.3 768.4 132.8 768.6 133.3 768.6C133.9 768.6 134.6 768.4 135.2 768.1C135.9 767.8 136.6 767.4 137.3 767C137.9 766.6 138.5 766 139 765.7C139.6 765.4 140 765.1 140.5 765C140.9 764.9 141.3 764.9 141.7 765.1C142.2 765.3 142.6 765.7 143.2 766.1C143.8 766.5 144.4 767 145.1 767.4C145.8 767.8 146.6 768.2 147.3 768.4C148 768.6 148.7 768.6 149.3 768.5C149.9 768.4 150.5 768 150.9 767.5C151.4 767.1 151.7 766.4 152 765.7C152.3 765 152.5 764.1 152.7 763.3C152.9 762.6 153 761.8 153.2 761.3C153.3 760.7 153.5 760.3 153.6 760.1C153.7 759.9 153.8 760 154 760.1C154.2 760.3 154.6 761 154.7 761.2" fill="none" stroke="#d74f94" stroke-width="2.1"/>
<path d="M86.5 778.7C86.7 778.5 87.5 778.1 87.8 777.8C88.1 777.5 88.4 777.2 88.4 776.9C88.4 776.6 88.1 776.2 87.7 775.9C87.3 775.6 86.6 775.2 85.9 775C85.2 774.7 84.3 774.6 83.5 774.4C82.8 774.3 81.9 774.2 81.3 774C80.6 773.9 80 773.7 79.6 773.5C79.1 773.2 78.8 772.8 78.7 772.4C78.5 771.9 78.4 771.3 78.4 770.6C78.4 770 78.4 769.2 78.4 768.5C78.4 767.8 78.5 767 78.4 766.4C78.3 765.8 78.1 765.2 77.8 764.9C77.5 764.5 77.1 764.3 76.6 764.2C76.1 764.1 75.5 764.2 74.9 764.4C74.3 764.5 73.6 764.9 72.9 765.1C72.3 765.4 71.7 765.8 71.1 765.9C70.6 766.1 70.1 766.2 69.6 766.1C69.2 766 68.8 765.8 68.4 765.4C68.1 764.9 67.8 764.3 67.6 763.7C67.3 763 67.1 762.2 66.8 761.5C66.6 760.8 66.4 760 66.2 759.5C66 759 65.8 758.5 65.6 758.3C65.4 758.1 65.3 758.2 65.1 758.4C64.9 758.6 64.6 759.2 64.5 759.4" fill="none" stroke="#d74f94" stroke-width="2.1"/>
<circle cx="124.2" cy="760.1" r="5.4" fill="url(#gg)"/>
<circle cx="131.5" cy="757" r="5.4" fill="url(#gr)"/>
<circle cx="138.8" cy="754" r="5.4" fill="url(#gb)"/>
<circle cx="146.1" cy="751" r="5.4" fill="url(#go)"/>
<circle cx="153.4" cy="747.9" r="5.4" fill="url(#gg)"/>
<circle cx="160.7" cy="744.8" r="5.4" fill="url(#gr)"/>
<circle cx="168" cy="741.8" r="5.4" fill="url(#gb)"/>
<g transform="translate(85.2 779.4) rotate(-26.3)">
<path d="M0 0C0.1 0.4 0.6 1.7 0.9 2.3C1.2 2.9 1.5 3.1 1.8 3.4C2.1 3.8 2.4 4 2.6 4.3C2.9 4.5 3.2 4.7 3.5 4.8C3.8 5 4.1 5.1 4.4 5.2C4.7 5.3 5 5.3 5.3 5.3C5.6 5.3 5.9 5.3 6.2 5.2C6.5 5.1 6.8 5 7.1 4.8C7.4 4.7 7.6 4.5 7.9 4.3C8.2 4 8.5 3.8 8.8 3.4C9.1 3.1 9.4 2.9 9.7 2.3C10 1.7 10.3 0.8 10.6 -0C10.9 -0.8 11.2 -1.7 11.5 -2.3C11.8 -2.9 12.1 -3.1 12.3 -3.4C12.6 -3.8 12.9 -4 13.2 -4.3C13.5 -4.5 13.8 -4.7 14.1 -4.8C14.4 -5 14.7 -5.1 15 -5.2C15.3 -5.3 15.6 -5.3 15.9 -5.3C16.2 -5.3 16.5 -5.3 16.8 -5.2C17.1 -5.1 17.3 -5 17.6 -4.8C17.9 -4.7 18.2 -4.5 18.5 -4.3C18.8 -4 19.1 -3.8 19.4 -3.4C19.7 -3.1 20 -2.9 20.3 -2.3C20.6 -1.7 20.9 -0.8 21.2 0C21.5 0.8 21.8 1.7 22.1 2.3C22.3 2.9 22.6 3.1 22.9 3.4C23.2 3.8 23.5 4 23.8 4.3C24.1 4.5 24.4 4.7 24.7 4.8C25 5 25.3 5.1 25.6 5.2C25.9 5.3 26.2 5.3 26.5 5.3C26.8 5.3 27 5.3 27.3 5.2C27.6 5.1 27.9 5 28.2 4.8C28.5 4.7 28.8 4.5 29.1 4.3C29.4 4 29.7 3.8 30 3.4C30.3 3.1 30.6 2.9 30.9 2.3C31.2 1.7 31.5 0.8 31.8 0C32 -0.8 32.3 -1.7 32.6 -2.3C32.9 -2.9 33.2 -3.1 33.5 -3.4C33.8 -3.8 34.1 -4 34.4 -4.3C34.7 -4.5 35 -4.7 35.3 -4.8C35.6 -5 35.9 -5.1 36.2 -5.2C36.5 -5.3 36.8 -5.3 37 -5.3C37.3 -5.3 37.6 -5.3 37.9 -5.2C38.2 -5.1 38.5 -5 38.8 -4.8C39.1 -4.7 39.4 -4.5 39.7 -4.3C40 -4 40.3 -3.8 40.6 -3.4C40.9 -3.1 41.2 -2.9 41.5 -2.3C41.8 -1.7 42.2 -0.4 42.3 0 L42.3 -0 L41.5 2.3 L40.6 3.4 L39.7 4.3 L38.8 4.8 L37.9 5.2 L37 5.3 L36.2 5.2 L35.3 4.8 L34.4 4.3 L33.5 3.4 L32.6 2.3 L31.8 -0 L30.9 -2.3 L30 -3.4 L29.1 -4.3 L28.2 -4.8 L27.3 -5.2 L26.5 -5.3 L25.6 -5.2 L24.7 -4.8 L23.8 -4.3 L22.9 -3.4 L22.1 -2.3 L21.2 -0 L20.3 2.3 L19.4 3.4 L18.5 4.3 L17.6 4.8 L16.8 5.2 L15.9 5.3 L15 5.2 L14.1 4.8 L13.2 4.3 L12.3 3.4 L11.5 2.3 L10.6 0 L9.7 -2.3 L8.8 -3.4 L7.9 -4.3 L7.1 -4.8 L6.2 -5.2 L5.3 -5.3 L4.4 -5.2 L3.5 -4.8 L2.6 -4.3 L1.8 -3.4 L0.9 -2.3 L0 -0Z" fill="#fff" stroke="none"/>
<path d="M3.6 -4.9V4.9M7 -4.9V4.9M14.2 -4.9V4.9M17.6 -4.9V4.9M24.8 -4.9V4.9M28.2 -4.9V4.9M35.4 -4.9V4.9M38.7 -4.9V4.9" fill="none" stroke="#111" stroke-width="1.7" style="stroke-linecap:butt" transform="skewX(-15)"/>
<path d="M0 -0C0.1 -0.4 0.6 -1.7 0.9 -2.3C1.2 -2.9 1.5 -3.1 1.8 -3.4C2.1 -3.8 2.4 -4 2.6 -4.3C2.9 -4.5 3.2 -4.7 3.5 -4.8C3.8 -5 4.1 -5.1 4.4 -5.2C4.7 -5.3 5 -5.3 5.3 -5.3C5.6 -5.3 5.9 -5.3 6.2 -5.2C6.5 -5.1 6.8 -5 7.1 -4.8C7.4 -4.7 7.6 -4.5 7.9 -4.3C8.2 -4 8.5 -3.8 8.8 -3.4C9.1 -3.1 9.4 -2.9 9.7 -2.3C10 -1.7 10.3 -0.8 10.6 0C10.9 0.8 11.2 1.7 11.5 2.3C11.8 2.9 12.1 3.1 12.3 3.4C12.6 3.8 12.9 4 13.2 4.3C13.5 4.5 13.8 4.7 14.1 4.8C14.4 5 14.7 5.1 15 5.2C15.3 5.3 15.6 5.3 15.9 5.3C16.2 5.3 16.5 5.3 16.8 5.2C17.1 5.1 17.3 5 17.6 4.8C17.9 4.7 18.2 4.5 18.5 4.3C18.8 4 19.1 3.8 19.4 3.4C19.7 3.1 20 2.9 20.3 2.3C20.6 1.7 20.9 0.8 21.2 -0C21.5 -0.8 21.8 -1.7 22.1 -2.3C22.3 -2.9 22.6 -3.1 22.9 -3.4C23.2 -3.8 23.5 -4 23.8 -4.3C24.1 -4.5 24.4 -4.7 24.7 -4.8C25 -5 25.3 -5.1 25.6 -5.2C25.9 -5.3 26.2 -5.3 26.5 -5.3C26.8 -5.3 27 -5.3 27.3 -5.2C27.6 -5.1 27.9 -5 28.2 -4.8C28.5 -4.7 28.8 -4.5 29.1 -4.3C29.4 -4 29.7 -3.8 30 -3.4C30.3 -3.1 30.6 -2.9 30.9 -2.3C31.2 -1.7 31.5 -0.8 31.8 -0C32 0.8 32.3 1.7 32.6 2.3C32.9 2.9 33.2 3.1 33.5 3.4C33.8 3.8 34.1 4 34.4 4.3C34.7 4.5 35 4.7 35.3 4.8C35.6 5 35.9 5.1 36.2 5.2C36.5 5.3 36.8 5.3 37 5.3C37.3 5.3 37.6 5.3 37.9 5.2C38.2 5.1 38.5 5 38.8 4.8C39.1 4.7 39.4 4.5 39.7 4.3C40 4 40.3 3.8 40.6 3.4C40.9 3.1 41.2 2.9 41.5 2.3C41.8 1.7 42.2 0.4 42.3 -0" fill="none" stroke="#d74f94" stroke-width="1.9"/>
<path d="M0 0C0.1 0.4 0.6 1.7 0.9 2.3C1.2 2.9 1.5 3.1 1.8 3.4C2.1 3.8 2.4 4 2.6 4.3C2.9 4.5 3.2 4.7 3.5 4.8C3.8 5 4.1 5.1 4.4 5.2C4.7 5.3 5 5.3 5.3 5.3C5.6 5.3 5.9 5.3 6.2 5.2C6.5 5.1 6.8 5 7.1 4.8C7.4 4.7 7.6 4.5 7.9 4.3C8.2 4 8.5 3.8 8.8 3.4C9.1 3.1 9.4 2.9 9.7 2.3C10 1.7 10.3 0.8 10.6 -0C10.9 -0.8 11.2 -1.7 11.5 -2.3C11.8 -2.9 12.1 -3.1 12.3 -3.4C12.6 -3.8 12.9 -4 13.2 -4.3C13.5 -4.5 13.8 -4.7 14.1 -4.8C14.4 -5 14.7 -5.1 15 -5.2C15.3 -5.3 15.6 -5.3 15.9 -5.3C16.2 -5.3 16.5 -5.3 16.8 -5.2C17.1 -5.1 17.3 -5 17.6 -4.8C17.9 -4.7 18.2 -4.5 18.5 -4.3C18.8 -4 19.1 -3.8 19.4 -3.4C19.7 -3.1 20 -2.9 20.3 -2.3C20.6 -1.7 20.9 -0.8 21.2 0C21.5 0.8 21.8 1.7 22.1 2.3C22.3 2.9 22.6 3.1 22.9 3.4C23.2 3.8 23.5 4 23.8 4.3C24.1 4.5 24.4 4.7 24.7 4.8C25 5 25.3 5.1 25.6 5.2C25.9 5.3 26.2 5.3 26.5 5.3C26.8 5.3 27 5.3 27.3 5.2C27.6 5.1 27.9 5 28.2 4.8C28.5 4.7 28.8 4.5 29.1 4.3C29.4 4 29.7 3.8 30 3.4C30.3 3.1 30.6 2.9 30.9 2.3C31.2 1.7 31.5 0.8 31.8 0C32 -0.8 32.3 -1.7 32.6 -2.3C32.9 -2.9 33.2 -3.1 33.5 -3.4C33.8 -3.8 34.1 -4 34.4 -4.3C34.7 -4.5 35 -4.7 35.3 -4.8C35.6 -5 35.9 -5.1 36.2 -5.2C36.5 -5.3 36.8 -5.3 37 -5.3C37.3 -5.3 37.6 -5.3 37.9 -5.2C38.2 -5.1 38.5 -5 38.8 -4.8C39.1 -4.7 39.4 -4.5 39.7 -4.3C40 -4 40.3 -3.8 40.6 -3.4C40.9 -3.1 41.2 -2.9 41.5 -2.3C41.8 -1.7 42.2 -0.4 42.3 0" fill="none" stroke="#d74f94" stroke-width="1.9"/>
</g>
<circle cx="86.5" cy="778.7" r="3" fill="url(#gd)"/>
<path d="M183.7 781C183.9 781.1 184.7 781.6 185.1 781.9C185.4 782.2 185.7 782.4 185.7 782.7C185.8 783 185.6 783.3 185.2 783.5C184.8 783.8 184.2 784.1 183.5 784.4C182.8 784.6 181.9 784.8 181.2 785C180.4 785.2 179.5 785.4 178.8 785.6C178.2 785.8 177.6 786 177.1 786.4C176.7 786.7 176.4 787.1 176.3 787.6C176.1 788.1 176.1 788.7 176.1 789.4C176 790 176.1 790.8 176.1 791.6C176 792.3 175.9 793.1 175.7 793.8C175.4 794.4 175 795 174.6 795.4C174.1 795.7 173.5 795.9 173 795.8C172.4 795.8 171.7 795.5 171.2 795.2C170.6 794.8 170 794.3 169.4 793.8C168.8 793.4 168.2 792.8 167.7 792.5C167.1 792.2 166.6 792 166.1 791.9C165.5 791.9 165 792.1 164.5 792.4C164.1 792.8 163.6 793.3 163.2 793.9C162.8 794.5 162.5 795.3 162.1 795.9C161.8 796.6 161.5 797.3 161.3 797.8C161.1 798.3 160.9 798.7 160.7 798.8C160.6 798.9 160.5 798.9 160.3 798.6C160.2 798.4 160 797.7 160 797.5" fill="none" stroke="#604996" stroke-width="2.1"/>
<path d="M227.9 774.4C227.6 774.4 226.8 774.5 226.4 774.5C226 774.5 225.6 774.5 225.4 774.3C225.2 774.1 225.2 773.8 225.3 773.4C225.5 773 225.8 772.5 226.2 771.9C226.6 771.4 227.1 770.8 227.6 770.3C228.1 769.7 228.7 769.3 229.2 768.8C229.6 768.4 230 768 230.2 767.6C230.4 767.2 230.4 766.8 230.3 766.3C230.3 765.9 230 765.4 229.7 764.8C229.5 764.3 229.1 763.6 228.8 762.9C228.6 762.3 228.3 761.5 228.2 760.9C228.2 760.2 228.2 759.5 228.4 759C228.6 758.5 229 758.1 229.4 757.8C229.9 757.5 230.6 757.4 231.2 757.3C231.9 757.2 232.7 757.2 233.4 757.1C234.1 757.1 234.8 757.1 235.4 756.9C236 756.8 236.6 756.6 237 756.2C237.4 755.9 237.6 755.4 237.7 754.9C237.9 754.4 237.8 753.7 237.7 753C237.5 752.4 237.3 751.6 237.1 751C236.9 750.4 236.6 749.7 236.4 749.2C236.3 748.8 236.1 748.4 236.1 748.2C236.1 748 236.3 748 236.5 748.1C236.7 748.1 237.3 748.5 237.5 748.6" fill="none" stroke="#604996" stroke-width="2.1"/>
<circle cx="184.5" cy="777.4" r="5.4" fill="url(#gb)"/>
<circle cx="176.9" cy="778.5" r="5.4" fill="url(#go)"/>
<circle cx="169.4" cy="779.5" r="5.4" fill="url(#gr)"/>
<circle cx="161.8" cy="780.6" r="5.4" fill="url(#gb)"/>
<circle cx="154.3" cy="781.7" r="5.4" fill="url(#gg)"/>
<circle cx="146.8" cy="782.7" r="5.4" fill="url(#gb)"/>
<circle cx="139.2" cy="783.8" r="5.4" fill="url(#gr)"/>
<g transform="translate(229.4 774.3) rotate(176)">
<path d="M0 0C0.2 0.4 0.6 1.7 0.9 2.3C1.2 2.9 1.5 3.1 1.8 3.4C2.1 3.8 2.4 4 2.7 4.3C3 4.5 3.3 4.7 3.7 4.8C4 5 4.3 5.1 4.6 5.2C4.9 5.3 5.2 5.3 5.5 5.3C5.8 5.3 6.1 5.3 6.4 5.2C6.7 5.1 7 5 7.3 4.8C7.6 4.7 7.9 4.5 8.2 4.3C8.5 4 8.8 3.8 9.1 3.4C9.4 3.1 9.7 2.9 10 2.3C10.3 1.7 10.6 0.8 11 -0C11.3 -0.8 11.6 -1.7 11.9 -2.3C12.2 -2.9 12.5 -3.1 12.8 -3.4C13.1 -3.8 13.4 -4 13.7 -4.3C14 -4.5 14.3 -4.7 14.6 -4.8C14.9 -5 15.2 -5.1 15.5 -5.2C15.8 -5.3 16.1 -5.3 16.4 -5.3C16.7 -5.3 17 -5.3 17.3 -5.2C17.6 -5.1 17.9 -5 18.3 -4.8C18.6 -4.7 18.9 -4.5 19.2 -4.3C19.5 -4 19.8 -3.8 20.1 -3.4C20.4 -3.1 20.7 -2.9 21 -2.3C21.3 -1.7 21.6 -0.8 21.9 0C22.2 0.8 22.5 1.7 22.8 2.3C23.1 2.9 23.4 3.1 23.7 3.4C24 3.8 24.3 4 24.6 4.3C24.9 4.5 25.2 4.7 25.6 4.8C25.9 5 26.2 5.1 26.5 5.2C26.8 5.3 27.1 5.3 27.4 5.3C27.7 5.3 28 5.3 28.3 5.2C28.6 5.1 28.9 5 29.2 4.8C29.5 4.7 29.8 4.5 30.1 4.3C30.4 4 30.7 3.8 31 3.4C31.3 3.1 31.6 2.9 31.9 2.3C32.2 1.7 32.5 0.8 32.9 0C33.2 -0.8 33.5 -1.7 33.8 -2.3C34.1 -2.9 34.4 -3.1 34.7 -3.4C35 -3.8 35.3 -4 35.6 -4.3C35.9 -4.5 36.2 -4.7 36.5 -4.8C36.8 -5 37.1 -5.1 37.4 -5.2C37.7 -5.3 38 -5.3 38.3 -5.3C38.6 -5.3 38.9 -5.3 39.2 -5.2C39.5 -5.1 39.8 -5 40.2 -4.8C40.5 -4.7 40.8 -4.5 41.1 -4.3C41.4 -4 41.7 -3.8 42 -3.4C42.3 -3.1 42.6 -2.9 42.9 -2.3C43.2 -1.7 43.7 -0.4 43.8 0 L43.8 -0 L42.9 2.3 L42 3.4 L41.1 4.3 L40.2 4.8 L39.2 5.2 L38.3 5.3 L37.4 5.2 L36.5 4.8 L35.6 4.3 L34.7 3.4 L33.8 2.3 L32.9 -0 L31.9 -2.3 L31 -3.4 L30.1 -4.3 L29.2 -4.8 L28.3 -5.2 L27.4 -5.3 L26.5 -5.2 L25.6 -4.8 L24.6 -4.3 L23.7 -3.4 L22.8 -2.3 L21.9 -0 L21 2.3 L20.1 3.4 L19.2 4.3 L18.3 4.8 L17.3 5.2 L16.4 5.3 L15.5 5.2 L14.6 4.8 L13.7 4.3 L12.8 3.4 L11.9 2.3 L11 0 L10 -2.3 L9.1 -3.4 L8.2 -4.3 L7.3 -4.8 L6.4 -5.2 L5.5 -5.3 L4.6 -5.2 L3.7 -4.8 L2.7 -4.3 L1.8 -3.4 L0.9 -2.3 L0 -0Z" fill="#fff" stroke="none"/>
<path d="M3.7 -4.9V4.9M7.2 -4.9V4.9M14.7 -4.9V4.9M18.2 -4.9V4.9M25.6 -4.9V4.9M29.1 -4.9V4.9M36.6 -4.9V4.9M40.1 -4.9V4.9" fill="none" stroke="#111" stroke-width="1.7" style="stroke-linecap:butt" transform="skewX(-15)"/>
<path d="M0 -0C0.2 -0.4 0.6 -1.7 0.9 -2.3C1.2 -2.9 1.5 -3.1 1.8 -3.4C2.1 -3.8 2.4 -4 2.7 -4.3C3 -4.5 3.3 -4.7 3.7 -4.8C4 -5 4.3 -5.1 4.6 -5.2C4.9 -5.3 5.2 -5.3 5.5 -5.3C5.8 -5.3 6.1 -5.3 6.4 -5.2C6.7 -5.1 7 -5 7.3 -4.8C7.6 -4.7 7.9 -4.5 8.2 -4.3C8.5 -4 8.8 -3.8 9.1 -3.4C9.4 -3.1 9.7 -2.9 10 -2.3C10.3 -1.7 10.6 -0.8 11 0C11.3 0.8 11.6 1.7 11.9 2.3C12.2 2.9 12.5 3.1 12.8 3.4C13.1 3.8 13.4 4 13.7 4.3C14 4.5 14.3 4.7 14.6 4.8C14.9 5 15.2 5.1 15.5 5.2C15.8 5.3 16.1 5.3 16.4 5.3C16.7 5.3 17 5.3 17.3 5.2C17.6 5.1 17.9 5 18.3 4.8C18.6 4.7 18.9 4.5 19.2 4.3C19.5 4 19.8 3.8 20.1 3.4C20.4 3.1 20.7 2.9 21 2.3C21.3 1.7 21.6 0.8 21.9 -0C22.2 -0.8 22.5 -1.7 22.8 -2.3C23.1 -2.9 23.4 -3.1 23.7 -3.4C24 -3.8 24.3 -4 24.6 -4.3C24.9 -4.5 25.2 -4.7 25.6 -4.8C25.9 -5 26.2 -5.1 26.5 -5.2C26.8 -5.3 27.1 -5.3 27.4 -5.3C27.7 -5.3 28 -5.3 28.3 -5.2C28.6 -5.1 28.9 -5 29.2 -4.8C29.5 -4.7 29.8 -4.5 30.1 -4.3C30.4 -4 30.7 -3.8 31 -3.4C31.3 -3.1 31.6 -2.9 31.9 -2.3C32.2 -1.7 32.5 -0.8 32.9 -0C33.2 0.8 33.5 1.7 33.8 2.3C34.1 2.9 34.4 3.1 34.7 3.4C35 3.8 35.3 4 35.6 4.3C35.9 4.5 36.2 4.7 36.5 4.8C36.8 5 37.1 5.1 37.4 5.2C37.7 5.3 38 5.3 38.3 5.3C38.6 5.3 38.9 5.3 39.2 5.2C39.5 5.1 39.8 5 40.2 4.8C40.5 4.7 40.8 4.5 41.1 4.3C41.4 4 41.7 3.8 42 3.4C42.3 3.1 42.6 2.9 42.9 2.3C43.2 1.7 43.7 0.4 43.8 -0" fill="none" stroke="#604996" stroke-width="1.9"/>
<path d="M0 0C0.2 0.4 0.6 1.7 0.9 2.3C1.2 2.9 1.5 3.1 1.8 3.4C2.1 3.8 2.4 4 2.7 4.3C3 4.5 3.3 4.7 3.7 4.8C4 5 4.3 5.1 4.6 5.2C4.9 5.3 5.2 5.3 5.5 5.3C5.8 5.3 6.1 5.3 6.4 5.2C6.7 5.1 7 5 7.3 4.8C7.6 4.7 7.9 4.5 8.2 4.3C8.5 4 8.8 3.8 9.1 3.4C9.4 3.1 9.7 2.9 10 2.3C10.3 1.7 10.6 0.8 11 -0C11.3 -0.8 11.6 -1.7 11.9 -2.3C12.2 -2.9 12.5 -3.1 12.8 -3.4C13.1 -3.8 13.4 -4 13.7 -4.3C14 -4.5 14.3 -4.7 14.6 -4.8C14.9 -5 15.2 -5.1 15.5 -5.2C15.8 -5.3 16.1 -5.3 16.4 -5.3C16.7 -5.3 17 -5.3 17.3 -5.2C17.6 -5.1 17.9 -5 18.3 -4.8C18.6 -4.7 18.9 -4.5 19.2 -4.3C19.5 -4 19.8 -3.8 20.1 -3.4C20.4 -3.1 20.7 -2.9 21 -2.3C21.3 -1.7 21.6 -0.8 21.9 0C22.2 0.8 22.5 1.7 22.8 2.3C23.1 2.9 23.4 3.1 23.7 3.4C24 3.8 24.3 4 24.6 4.3C24.9 4.5 25.2 4.7 25.6 4.8C25.9 5 26.2 5.1 26.5 5.2C26.8 5.3 27.1 5.3 27.4 5.3C27.7 5.3 28 5.3 28.3 5.2C28.6 5.1 28.9 5 29.2 4.8C29.5 4.7 29.8 4.5 30.1 4.3C30.4 4 30.7 3.8 31 3.4C31.3 3.1 31.6 2.9 31.9 2.3C32.2 1.7 32.5 0.8 32.9 0C33.2 -0.8 33.5 -1.7 33.8 -2.3C34.1 -2.9 34.4 -3.1 34.7 -3.4C35 -3.8 35.3 -4 35.6 -4.3C35.9 -4.5 36.2 -4.7 36.5 -4.8C36.8 -5 37.1 -5.1 37.4 -5.2C37.7 -5.3 38 -5.3 38.3 -5.3C38.6 -5.3 38.9 -5.3 39.2 -5.2C39.5 -5.1 39.8 -5 40.2 -4.8C40.5 -4.7 40.8 -4.5 41.1 -4.3C41.4 -4 41.7 -3.8 42 -3.4C42.3 -3.1 42.6 -2.9 42.9 -2.3C43.2 -1.7 43.7 -0.4 43.8 0" fill="none" stroke="#604996" stroke-width="1.9"/>
</g>
<circle cx="227.9" cy="774.4" r="3" fill="url(#gd)"/>
<path d="M313 356L571 356L574 384L314 384Z" fill="#8aa" opacity="0.45" filter="url(#sh)" stroke="none"/>
<path d="M370.4 210.5L619.3 210.5L568.5 352.2L316.5 352.2Z" fill="#999" opacity="0.35" filter="url(#sh)" stroke="none" transform="translate(1.5 1.5)"/>
<path d="M619.3 210.5L620.8 239.5L609.3 240.2Z" fill="#72b9ea" stroke="none"/>
<path d="M370.4 210.5L619.3 210.5L568.5 352.2L316.5 352.2Z" fill="url(#top)" stroke="none"/>
<rect x="316.5" y="352.2" width="252" height="27.4" fill="#58b5ec"/>
<path d="M429.5 245.5C430 246.2 431.4 248.1 432.5 249.5C433.6 250.9 434.8 252.7 436 254C437.2 255.3 438.2 256.8 439.5 257.6C440.8 258.4 442.5 258.8 444 258.8C445.5 258.8 447.1 258.1 448.5 257.6C449.9 257.1 451.2 256.1 452.5 255.6C453.8 255.1 455.7 254.7 456.3 254.5" fill="none" stroke="#604996" stroke-width="2.3" />
<path d="M387.6 243.6C387.5 242.9 387.5 241 387.2 239.5C386.9 238 386.5 236.2 386 234.5C385.5 232.8 385.2 230.8 384.2 229.6C383.2 228.4 381.4 228 380 227.6C378.6 227.2 376.7 227.6 375.5 227.2C374.3 226.8 373.2 226.1 372.6 225C372 223.9 371.9 221.3 371.8 220.6" fill="none" stroke="#604996" stroke-width="2.3" />
<g transform="translate(386.1 243.7) rotate(-2.9)">
<path d="M0 0C0.2 0.4 0.6 1.7 0.9 2.2C1.2 2.8 1.6 3.1 1.9 3.4C2.2 3.7 2.5 4 2.8 4.2C3.1 4.4 3.4 4.6 3.7 4.8C4.1 4.9 4.4 5 4.7 5.1C5 5.2 5.3 5.2 5.6 5.2C5.9 5.2 6.2 5.2 6.6 5.1C6.9 5 7.2 4.9 7.5 4.8C7.8 4.6 8.1 4.4 8.4 4.2C8.7 4 9.1 3.7 9.4 3.4C9.7 3.1 10 2.8 10.3 2.2C10.6 1.7 10.9 0.7 11.2 0C11.6 -0.7 11.9 -1.7 12.2 -2.2C12.5 -2.8 12.8 -3.1 13.1 -3.4C13.4 -3.7 13.7 -4 14 -4.2C14.4 -4.4 14.7 -4.6 15 -4.8C15.3 -4.9 15.6 -5 15.9 -5.1C16.2 -5.2 16.5 -5.2 16.9 -5.2C17.2 -5.2 17.5 -5.2 17.8 -5.1C18.1 -5 18.4 -4.9 18.7 -4.8C19 -4.6 19.4 -4.4 19.7 -4.2C20 -4 20.3 -3.7 20.6 -3.4C20.9 -3.1 21.2 -2.8 21.5 -2.2C21.9 -1.7 22.2 -0.7 22.5 -0C22.8 0.7 23.1 1.7 23.4 2.2C23.7 2.8 24 3.1 24.4 3.4C24.7 3.7 25 4 25.3 4.2C25.6 4.4 25.9 4.6 26.2 4.8C26.5 4.9 26.8 5 27.2 5.1C27.5 5.2 27.8 5.2 28.1 5.2C28.4 5.2 28.7 5.2 29 5.1C29.3 5 29.7 4.9 30 4.8C30.3 4.6 30.6 4.4 30.9 4.2C31.2 4 31.5 3.7 31.8 3.4C32.2 3.1 32.5 2.8 32.8 2.2C33.1 1.7 33.4 0.7 33.7 -0C34 -0.7 34.3 -1.7 34.7 -2.2C35 -2.8 35.3 -3.1 35.6 -3.4C35.9 -3.7 36.2 -4 36.5 -4.2C36.8 -4.4 37.2 -4.6 37.5 -4.8C37.8 -4.9 38.1 -5 38.4 -5.1C38.7 -5.2 39 -5.2 39.3 -5.2C39.6 -5.2 40 -5.2 40.3 -5.1C40.6 -5 40.9 -4.9 41.2 -4.8C41.5 -4.6 41.8 -4.4 42.1 -4.2C42.5 -4 42.8 -3.7 43.1 -3.4C43.4 -3.1 43.7 -2.8 44 -2.2C44.3 -1.7 44.8 -0.4 45 -0" fill="none" stroke="#667" stroke-opacity="0.55" stroke-width="2.6" transform="translate(0.8 1.6)"/>
<path d="M0 -0C0.2 -0.4 0.6 -1.7 0.9 -2.2C1.2 -2.8 1.6 -3.1 1.9 -3.4C2.2 -3.7 2.5 -4 2.8 -4.2C3.1 -4.4 3.4 -4.6 3.7 -4.8C4.1 -4.9 4.4 -5 4.7 -5.1C5 -5.2 5.3 -5.2 5.6 -5.2C5.9 -5.2 6.2 -5.2 6.6 -5.1C6.9 -5 7.2 -4.9 7.5 -4.8C7.8 -4.6 8.1 -4.4 8.4 -4.2C8.7 -4 9.1 -3.7 9.4 -3.4C9.7 -3.1 10 -2.8 10.3 -2.2C10.6 -1.7 10.9 -0.7 11.2 -0C11.6 0.7 11.9 1.7 12.2 2.2C12.5 2.8 12.8 3.1 13.1 3.4C13.4 3.7 13.7 4 14 4.2C14.4 4.4 14.7 4.6 15 4.8C15.3 4.9 15.6 5 15.9 5.1C16.2 5.2 16.5 5.2 16.9 5.2C17.2 5.2 17.5 5.2 17.8 5.1C18.1 5 18.4 4.9 18.7 4.8C19 4.6 19.4 4.4 19.7 4.2C20 4 20.3 3.7 20.6 3.4C20.9 3.1 21.2 2.8 21.5 2.2C21.9 1.7 22.2 0.7 22.5 0C22.8 -0.7 23.1 -1.7 23.4 -2.2C23.7 -2.8 24 -3.1 24.4 -3.4C24.7 -3.7 25 -4 25.3 -4.2C25.6 -4.4 25.9 -4.6 26.2 -4.8C26.5 -4.9 26.8 -5 27.2 -5.1C27.5 -5.2 27.8 -5.2 28.1 -5.2C28.4 -5.2 28.7 -5.2 29 -5.1C29.3 -5 29.7 -4.9 30 -4.8C30.3 -4.6 30.6 -4.4 30.9 -4.2C31.2 -4 31.5 -3.7 31.8 -3.4C32.2 -3.1 32.5 -2.8 32.8 -2.2C33.1 -1.7 33.4 -0.7 33.7 0C34 0.7 34.3 1.7 34.7 2.2C35 2.8 35.3 3.1 35.6 3.4C35.9 3.7 36.2 4 36.5 4.2C36.8 4.4 37.2 4.6 37.5 4.8C37.8 4.9 38.1 5 38.4 5.1C38.7 5.2 39 5.2 39.3 5.2C39.6 5.2 40 5.2 40.3 5.1C40.6 5 40.9 4.9 41.2 4.8C41.5 4.6 41.8 4.4 42.1 4.2C42.5 4 42.8 3.7 43.1 3.4C43.4 3.1 43.7 2.8 44 2.2C44.3 1.7 44.8 0.4 45 0" fill="none" stroke="#667" stroke-opacity="0.55" stroke-width="2.6" transform="translate(0.8 1.6)"/>
<path d="M0 0C0.2 0.4 0.6 1.7 0.9 2.2C1.2 2.8 1.6 3.1 1.9 3.4C2.2 3.7 2.5 4 2.8 4.2C3.1 4.4 3.4 4.6 3.7 4.8C4.1 4.9 4.4 5 4.7 5.1C5 5.2 5.3 5.2 5.6 5.2C5.9 5.2 6.2 5.2 6.6 5.1C6.9 5 7.2 4.9 7.5 4.8C7.8 4.6 8.1 4.4 8.4 4.2C8.7 4 9.1 3.7 9.4 3.4C9.7 3.1 10 2.8 10.3 2.2C10.6 1.7 10.9 0.7 11.2 0C11.6 -0.7 11.9 -1.7 12.2 -2.2C12.5 -2.8 12.8 -3.1 13.1 -3.4C13.4 -3.7 13.7 -4 14 -4.2C14.4 -4.4 14.7 -4.6 15 -4.8C15.3 -4.9 15.6 -5 15.9 -5.1C16.2 -5.2 16.5 -5.2 16.9 -5.2C17.2 -5.2 17.5 -5.2 17.8 -5.1C18.1 -5 18.4 -4.9 18.7 -4.8C19 -4.6 19.4 -4.4 19.7 -4.2C20 -4 20.3 -3.7 20.6 -3.4C20.9 -3.1 21.2 -2.8 21.5 -2.2C21.9 -1.7 22.2 -0.7 22.5 -0C22.8 0.7 23.1 1.7 23.4 2.2C23.7 2.8 24 3.1 24.4 3.4C24.7 3.7 25 4 25.3 4.2C25.6 4.4 25.9 4.6 26.2 4.8C26.5 4.9 26.8 5 27.2 5.1C27.5 5.2 27.8 5.2 28.1 5.2C28.4 5.2 28.7 5.2 29 5.1C29.3 5 29.7 4.9 30 4.8C30.3 4.6 30.6 4.4 30.9 4.2C31.2 4 31.5 3.7 31.8 3.4C32.2 3.1 32.5 2.8 32.8 2.2C33.1 1.7 33.4 0.7 33.7 -0C34 -0.7 34.3 -1.7 34.7 -2.2C35 -2.8 35.3 -3.1 35.6 -3.4C35.9 -3.7 36.2 -4 36.5 -4.2C36.8 -4.4 37.2 -4.6 37.5 -4.8C37.8 -4.9 38.1 -5 38.4 -5.1C38.7 -5.2 39 -5.2 39.3 -5.2C39.6 -5.2 40 -5.2 40.3 -5.1C40.6 -5 40.9 -4.9 41.2 -4.8C41.5 -4.6 41.8 -4.4 42.1 -4.2C42.5 -4 42.8 -3.7 43.1 -3.4C43.4 -3.1 43.7 -2.8 44 -2.2C44.3 -1.7 44.8 -0.4 45 -0 L45 0 L44 2.2 L43.1 3.4 L42.1 4.2 L41.2 4.8 L40.3 5.1 L39.3 5.2 L38.4 5.1 L37.5 4.8 L36.5 4.2 L35.6 3.4 L34.7 2.2 L33.7 0 L32.8 -2.2 L31.8 -3.4 L30.9 -4.2 L30 -4.8 L29 -5.1 L28.1 -5.2 L27.2 -5.1 L26.2 -4.8 L25.3 -4.2 L24.4 -3.4 L23.4 -2.2 L22.5 0 L21.5 2.2 L20.6 3.4 L19.7 4.2 L18.7 4.8 L17.8 5.1 L16.9 5.2 L15.9 5.1 L15 4.8 L14 4.2 L13.1 3.4 L12.2 2.2 L11.2 -0 L10.3 -2.2 L9.4 -3.4 L8.4 -4.2 L7.5 -4.8 L6.6 -5.1 L5.6 -5.2 L4.7 -5.1 L3.7 -4.8 L2.8 -4.2 L1.9 -3.4 L0.9 -2.2 L0 -0Z" fill="#fff" stroke="none"/>
<path d="M3.8 -4.8V4.8M7.4 -4.8V4.8M15.1 -4.8V4.8M18.7 -4.8V4.8M26.3 -4.8V4.8M29.9 -4.8V4.8M37.5 -4.8V4.8M41.1 -4.8V4.8" fill="none" stroke="#262626" stroke-width="2.5" style="stroke-linecap:butt" transform="skewX(-20)"/>
<path d="M0 -0C0.2 -0.4 0.6 -1.7 0.9 -2.2C1.2 -2.8 1.6 -3.1 1.9 -3.4C2.2 -3.7 2.5 -4 2.8 -4.2C3.1 -4.4 3.4 -4.6 3.7 -4.8C4.1 -4.9 4.4 -5 4.7 -5.1C5 -5.2 5.3 -5.2 5.6 -5.2C5.9 -5.2 6.2 -5.2 6.6 -5.1C6.9 -5 7.2 -4.9 7.5 -4.8C7.8 -4.6 8.1 -4.4 8.4 -4.2C8.7 -4 9.1 -3.7 9.4 -3.4C9.7 -3.1 10 -2.8 10.3 -2.2C10.6 -1.7 10.9 -0.7 11.2 -0C11.6 0.7 11.9 1.7 12.2 2.2C12.5 2.8 12.8 3.1 13.1 3.4C13.4 3.7 13.7 4 14 4.2C14.4 4.4 14.7 4.6 15 4.8C15.3 4.9 15.6 5 15.9 5.1C16.2 5.2 16.5 5.2 16.9 5.2C17.2 5.2 17.5 5.2 17.8 5.1C18.1 5 18.4 4.9 18.7 4.8C19 4.6 19.4 4.4 19.7 4.2C20 4 20.3 3.7 20.6 3.4C20.9 3.1 21.2 2.8 21.5 2.2C21.9 1.7 22.2 0.7 22.5 0C22.8 -0.7 23.1 -1.7 23.4 -2.2C23.7 -2.8 24 -3.1 24.4 -3.4C24.7 -3.7 25 -4 25.3 -4.2C25.6 -4.4 25.9 -4.6 26.2 -4.8C26.5 -4.9 26.8 -5 27.2 -5.1C27.5 -5.2 27.8 -5.2 28.1 -5.2C28.4 -5.2 28.7 -5.2 29 -5.1C29.3 -5 29.7 -4.9 30 -4.8C30.3 -4.6 30.6 -4.4 30.9 -4.2C31.2 -4 31.5 -3.7 31.8 -3.4C32.2 -3.1 32.5 -2.8 32.8 -2.2C33.1 -1.7 33.4 -0.7 33.7 0C34 0.7 34.3 1.7 34.7 2.2C35 2.8 35.3 3.1 35.6 3.4C35.9 3.7 36.2 4 36.5 4.2C36.8 4.4 37.2 4.6 37.5 4.8C37.8 4.9 38.1 5 38.4 5.1C38.7 5.2 39 5.2 39.3 5.2C39.6 5.2 40 5.2 40.3 5.1C40.6 5 40.9 4.9 41.2 4.8C41.5 4.6 41.8 4.4 42.1 4.2C42.5 4 42.8 3.7 43.1 3.4C43.4 3.1 43.7 2.8 44 2.2C44.3 1.7 44.8 0.4 45 0" fill="none" stroke="#604996" stroke-width="1.8"/>
<path d="M0 0C0.2 0.4 0.6 1.7 0.9 2.2C1.2 2.8 1.6 3.1 1.9 3.4C2.2 3.7 2.5 4 2.8 4.2C3.1 4.4 3.4 4.6 3.7 4.8C4.1 4.9 4.4 5 4.7 5.1C5 5.2 5.3 5.2 5.6 5.2C5.9 5.2 6.2 5.2 6.6 5.1C6.9 5 7.2 4.9 7.5 4.8C7.8 4.6 8.1 4.4 8.4 4.2C8.7 4 9.1 3.7 9.4 3.4C9.7 3.1 10 2.8 10.3 2.2C10.6 1.7 10.9 0.7 11.2 0C11.6 -0.7 11.9 -1.7 12.2 -2.2C12.5 -2.8 12.8 -3.1 13.1 -3.4C13.4 -3.7 13.7 -4 14 -4.2C14.4 -4.4 14.7 -4.6 15 -4.8C15.3 -4.9 15.6 -5 15.9 -5.1C16.2 -5.2 16.5 -5.2 16.9 -5.2C17.2 -5.2 17.5 -5.2 17.8 -5.1C18.1 -5 18.4 -4.9 18.7 -4.8C19 -4.6 19.4 -4.4 19.7 -4.2C20 -4 20.3 -3.7 20.6 -3.4C20.9 -3.1 21.2 -2.8 21.5 -2.2C21.9 -1.7 22.2 -0.7 22.5 -0C22.8 0.7 23.1 1.7 23.4 2.2C23.7 2.8 24 3.1 24.4 3.4C24.7 3.7 25 4 25.3 4.2C25.6 4.4 25.9 4.6 26.2 4.8C26.5 4.9 26.8 5 27.2 5.1C27.5 5.2 27.8 5.2 28.1 5.2C28.4 5.2 28.7 5.2 29 5.1C29.3 5 29.7 4.9 30 4.8C30.3 4.6 30.6 4.4 30.9 4.2C31.2 4 31.5 3.7 31.8 3.4C32.2 3.1 32.5 2.8 32.8 2.2C33.1 1.7 33.4 0.7 33.7 -0C34 -0.7 34.3 -1.7 34.7 -2.2C35 -2.8 35.3 -3.1 35.6 -3.4C35.9 -3.7 36.2 -4 36.5 -4.2C36.8 -4.4 37.2 -4.6 37.5 -4.8C37.8 -4.9 38.1 -5 38.4 -5.1C38.7 -5.2 39 -5.2 39.3 -5.2C39.6 -5.2 40 -5.2 40.3 -5.1C40.6 -5 40.9 -4.9 41.2 -4.8C41.5 -4.6 41.8 -4.4 42.1 -4.2C42.5 -4 42.8 -3.7 43.1 -3.4C43.4 -3.1 43.7 -2.8 44 -2.2C44.3 -1.7 44.8 -0.4 45 -0" fill="none" stroke="#604996" stroke-width="1.8"/>
</g>
<circle cx="431.5" cy="241.4" r="4.9" fill="url(#gb)"/>
<circle cx="439" cy="241.4" r="4.9" fill="url(#go)"/>
<circle cx="446.5" cy="241.4" r="4.9" fill="url(#gr)"/>
<circle cx="454.1" cy="241.4" r="4.9" fill="url(#gb)"/>
<circle cx="461.6" cy="241.5" r="4.9" fill="url(#gg)"/>
<circle cx="469.1" cy="241.5" r="4.9" fill="url(#gb)"/>
<circle cx="476.6" cy="241.5" r="4.9" fill="url(#gr)"/>
<circle cx="387.6" cy="243.6" r="3" fill="url(#gd)"/>
<path d="M428.1 280.6C428.6 281.3 430 283.2 431.1 284.6C432.2 286 433.4 287.8 434.6 289.1C435.8 290.5 436.8 291.9 438.1 292.7C439.4 293.5 441.1 293.9 442.6 293.9C444.1 293.9 445.7 293.2 447.1 292.7C448.5 292.2 449.8 291.2 451.1 290.7C452.4 290.2 454.3 289.8 454.9 289.6" fill="none" stroke="#d74f94" stroke-width="2.3" />
<path d="M386.2 278.7C386.1 278 386.1 276.1 385.8 274.6C385.5 273.1 385.1 271.2 384.6 269.6C384.1 268 383.8 265.9 382.8 264.7C381.8 263.5 380.1 263.1 378.6 262.7C377.2 262.3 375.3 262.7 374.1 262.3C372.9 261.9 371.8 261.2 371.2 260.1C370.6 259 370.5 256.4 370.4 255.7" fill="none" stroke="#d74f94" stroke-width="2.3" />
<g transform="translate(384.7 278.8) rotate(-2.9)">
<path d="M0 0C0.2 0.4 0.6 1.7 0.9 2.2C1.2 2.8 1.6 3.1 1.9 3.4C2.2 3.7 2.5 4 2.8 4.2C3.1 4.4 3.4 4.6 3.7 4.8C4.1 4.9 4.4 5 4.7 5.1C5 5.2 5.3 5.2 5.6 5.2C5.9 5.2 6.2 5.2 6.6 5.1C6.9 5 7.2 4.9 7.5 4.8C7.8 4.6 8.1 4.4 8.4 4.2C8.7 4 9.1 3.7 9.4 3.4C9.7 3.1 10 2.8 10.3 2.2C10.6 1.7 10.9 0.7 11.2 0C11.6 -0.7 11.9 -1.7 12.2 -2.2C12.5 -2.8 12.8 -3.1 13.1 -3.4C13.4 -3.7 13.7 -4 14 -4.2C14.4 -4.4 14.7 -4.6 15 -4.8C15.3 -4.9 15.6 -5 15.9 -5.1C16.2 -5.2 16.5 -5.2 16.9 -5.2C17.2 -5.2 17.5 -5.2 17.8 -5.1C18.1 -5 18.4 -4.9 18.7 -4.8C19 -4.6 19.4 -4.4 19.7 -4.2C20 -4 20.3 -3.7 20.6 -3.4C20.9 -3.1 21.2 -2.8 21.5 -2.2C21.9 -1.7 22.2 -0.7 22.5 -0C22.8 0.7 23.1 1.7 23.4 2.2C23.7 2.8 24 3.1 24.4 3.4C24.7 3.7 25 4 25.3 4.2C25.6 4.4 25.9 4.6 26.2 4.8C26.5 4.9 26.8 5 27.2 5.1C27.5 5.2 27.8 5.2 28.1 5.2C28.4 5.2 28.7 5.2 29 5.1C29.3 5 29.7 4.9 30 4.8C30.3 4.6 30.6 4.4 30.9 4.2C31.2 4 31.5 3.7 31.8 3.4C32.2 3.1 32.5 2.8 32.8 2.2C33.1 1.7 33.4 0.7 33.7 -0C34 -0.7 34.3 -1.7 34.7 -2.2C35 -2.8 35.3 -3.1 35.6 -3.4C35.9 -3.7 36.2 -4 36.5 -4.2C36.8 -4.4 37.2 -4.6 37.5 -4.8C37.8 -4.9 38.1 -5 38.4 -5.1C38.7 -5.2 39 -5.2 39.3 -5.2C39.6 -5.2 40 -5.2 40.3 -5.1C40.6 -5 40.9 -4.9 41.2 -4.8C41.5 -4.6 41.8 -4.4 42.1 -4.2C42.5 -4 42.8 -3.7 43.1 -3.4C43.4 -3.1 43.7 -2.8 44 -2.2C44.3 -1.7 44.8 -0.4 45 -0" fill="none" stroke="#667" stroke-opacity="0.55" stroke-width="2.6" transform="translate(0.8 1.6)"/>
<path d="M0 -0C0.2 -0.4 0.6 -1.7 0.9 -2.2C1.2 -2.8 1.6 -3.1 1.9 -3.4C2.2 -3.7 2.5 -4 2.8 -4.2C3.1 -4.4 3.4 -4.6 3.7 -4.8C4.1 -4.9 4.4 -5 4.7 -5.1C5 -5.2 5.3 -5.2 5.6 -5.2C5.9 -5.2 6.2 -5.2 6.6 -5.1C6.9 -5 7.2 -4.9 7.5 -4.8C7.8 -4.6 8.1 -4.4 8.4 -4.2C8.7 -4 9.1 -3.7 9.4 -3.4C9.7 -3.1 10 -2.8 10.3 -2.2C10.6 -1.7 10.9 -0.7 11.2 -0C11.6 0.7 11.9 1.7 12.2 2.2C12.5 2.8 12.8 3.1 13.1 3.4C13.4 3.7 13.7 4 14 4.2C14.4 4.4 14.7 4.6 15 4.8C15.3 4.9 15.6 5 15.9 5.1C16.2 5.2 16.5 5.2 16.9 5.2C17.2 5.2 17.5 5.2 17.8 5.1C18.1 5 18.4 4.9 18.7 4.8C19 4.6 19.4 4.4 19.7 4.2C20 4 20.3 3.7 20.6 3.4C20.9 3.1 21.2 2.8 21.5 2.2C21.9 1.7 22.2 0.7 22.5 0C22.8 -0.7 23.1 -1.7 23.4 -2.2C23.7 -2.8 24 -3.1 24.4 -3.4C24.7 -3.7 25 -4 25.3 -4.2C25.6 -4.4 25.9 -4.6 26.2 -4.8C26.5 -4.9 26.8 -5 27.2 -5.1C27.5 -5.2 27.8 -5.2 28.1 -5.2C28.4 -5.2 28.7 -5.2 29 -5.1C29.3 -5 29.7 -4.9 30 -4.8C30.3 -4.6 30.6 -4.4 30.9 -4.2C31.2 -4 31.5 -3.7 31.8 -3.4C32.2 -3.1 32.5 -2.8 32.8 -2.2C33.1 -1.7 33.4 -0.7 33.7 0C34 0.7 34.3 1.7 34.7 2.2C35 2.8 35.3 3.1 35.6 3.4C35.9 3.7 36.2 4 36.5 4.2C36.8 4.4 37.2 4.6 37.5 4.8C37.8 4.9 38.1 5 38.4 5.1C38.7 5.2 39 5.2 39.3 5.2C39.6 5.2 40 5.2 40.3 5.1C40.6 5 40.9 4.9 41.2 4.8C41.5 4.6 41.8 4.4 42.1 4.2C42.5 4 42.8 3.7 43.1 3.4C43.4 3.1 43.7 2.8 44 2.2C44.3 1.7 44.8 0.4 45 0" fill="none" stroke="#667" stroke-opacity="0.55" stroke-width="2.6" transform="translate(0.8 1.6)"/>
<path d="M0 0C0.2 0.4 0.6 1.7 0.9 2.2C1.2 2.8 1.6 3.1 1.9 3.4C2.2 3.7 2.5 4 2.8 4.2C3.1 4.4 3.4 4.6 3.7 4.8C4.1 4.9 4.4 5 4.7 5.1C5 5.2 5.3 5.2 5.6 5.2C5.9 5.2 6.2 5.2 6.6 5.1C6.9 5 7.2 4.9 7.5 4.8C7.8 4.6 8.1 4.4 8.4 4.2C8.7 4 9.1 3.7 9.4 3.4C9.7 3.1 10 2.8 10.3 2.2C10.6 1.7 10.9 0.7 11.2 0C11.6 -0.7 11.9 -1.7 12.2 -2.2C12.5 -2.8 12.8 -3.1 13.1 -3.4C13.4 -3.7 13.7 -4 14 -4.2C14.4 -4.4 14.7 -4.6 15 -4.8C15.3 -4.9 15.6 -5 15.9 -5.1C16.2 -5.2 16.5 -5.2 16.9 -5.2C17.2 -5.2 17.5 -5.2 17.8 -5.1C18.1 -5 18.4 -4.9 18.7 -4.8C19 -4.6 19.4 -4.4 19.7 -4.2C20 -4 20.3 -3.7 20.6 -3.4C20.9 -3.1 21.2 -2.8 21.5 -2.2C21.9 -1.7 22.2 -0.7 22.5 -0C22.8 0.7 23.1 1.7 23.4 2.2C23.7 2.8 24 3.1 24.4 3.4C24.7 3.7 25 4 25.3 4.2C25.6 4.4 25.9 4.6 26.2 4.8C26.5 4.9 26.8 5 27.2 5.1C27.5 5.2 27.8 5.2 28.1 5.2C28.4 5.2 28.7 5.2 29 5.1C29.3 5 29.7 4.9 30 4.8C30.3 4.6 30.6 4.4 30.9 4.2C31.2 4 31.5 3.7 31.8 3.4C32.2 3.1 32.5 2.8 32.8 2.2C33.1 1.7 33.4 0.7 33.7 -0C34 -0.7 34.3 -1.7 34.7 -2.2C35 -2.8 35.3 -3.1 35.6 -3.4C35.9 -3.7 36.2 -4 36.5 -4.2C36.8 -4.4 37.2 -4.6 37.5 -4.8C37.8 -4.9 38.1 -5 38.4 -5.1C38.7 -5.2 39 -5.2 39.3 -5.2C39.6 -5.2 40 -5.2 40.3 -5.1C40.6 -5 40.9 -4.9 41.2 -4.8C41.5 -4.6 41.8 -4.4 42.1 -4.2C42.5 -4 42.8 -3.7 43.1 -3.4C43.4 -3.1 43.7 -2.8 44 -2.2C44.3 -1.7 44.8 -0.4 45 -0 L45 0 L44 2.2 L43.1 3.4 L42.1 4.2 L41.2 4.8 L40.3 5.1 L39.3 5.2 L38.4 5.1 L37.5 4.8 L36.5 4.2 L35.6 3.4 L34.7 2.2 L33.7 0 L32.8 -2.2 L31.8 -3.4 L30.9 -4.2 L30 -4.8 L29 -5.1 L28.1 -5.2 L27.2 -5.1 L26.2 -4.8 L25.3 -4.2 L24.4 -3.4 L23.4 -2.2 L22.5 0 L21.5 2.2 L20.6 3.4 L19.7 4.2 L18.7 4.8 L17.8 5.1 L16.9 5.2 L15.9 5.1 L15 4.8 L14 4.2 L13.1 3.4 L12.2 2.2 L11.2 -0 L10.3 -2.2 L9.4 -3.4 L8.4 -4.2 L7.5 -4.8 L6.6 -5.1 L5.6 -5.2 L4.7 -5.1 L3.7 -4.8 L2.8 -4.2 L1.9 -3.4 L0.9 -2.2 L0 -0Z" fill="#fff" stroke="none"/>
<path d="M3.8 -4.8V4.8M7.4 -4.8V4.8M15.1 -4.8V4.8M18.7 -4.8V4.8M26.3 -4.8V4.8M29.9 -4.8V4.8M37.5 -4.8V4.8M41.1 -4.8V4.8" fill="none" stroke="#262626" stroke-width="2.5" style="stroke-linecap:butt" transform="skewX(-20)"/>
<path d="M0 -0C0.2 -0.4 0.6 -1.7 0.9 -2.2C1.2 -2.8 1.6 -3.1 1.9 -3.4C2.2 -3.7 2.5 -4 2.8 -4.2C3.1 -4.4 3.4 -4.6 3.7 -4.8C4.1 -4.9 4.4 -5 4.7 -5.1C5 -5.2 5.3 -5.2 5.6 -5.2C5.9 -5.2 6.2 -5.2 6.6 -5.1C6.9 -5 7.2 -4.9 7.5 -4.8C7.8 -4.6 8.1 -4.4 8.4 -4.2C8.7 -4 9.1 -3.7 9.4 -3.4C9.7 -3.1 10 -2.8 10.3 -2.2C10.6 -1.7 10.9 -0.7 11.2 -0C11.6 0.7 11.9 1.7 12.2 2.2C12.5 2.8 12.8 3.1 13.1 3.4C13.4 3.7 13.7 4 14 4.2C14.4 4.4 14.7 4.6 15 4.8C15.3 4.9 15.6 5 15.9 5.1C16.2 5.2 16.5 5.2 16.9 5.2C17.2 5.2 17.5 5.2 17.8 5.1C18.1 5 18.4 4.9 18.7 4.8C19 4.6 19.4 4.4 19.7 4.2C20 4 20.3 3.7 20.6 3.4C20.9 3.1 21.2 2.8 21.5 2.2C21.9 1.7 22.2 0.7 22.5 0C22.8 -0.7 23.1 -1.7 23.4 -2.2C23.7 -2.8 24 -3.1 24.4 -3.4C24.7 -3.7 25 -4 25.3 -4.2C25.6 -4.4 25.9 -4.6 26.2 -4.8C26.5 -4.9 26.8 -5 27.2 -5.1C27.5 -5.2 27.8 -5.2 28.1 -5.2C28.4 -5.2 28.7 -5.2 29 -5.1C29.3 -5 29.7 -4.9 30 -4.8C30.3 -4.6 30.6 -4.4 30.9 -4.2C31.2 -4 31.5 -3.7 31.8 -3.4C32.2 -3.1 32.5 -2.8 32.8 -2.2C33.1 -1.7 33.4 -0.7 33.7 0C34 0.7 34.3 1.7 34.7 2.2C35 2.8 35.3 3.1 35.6 3.4C35.9 3.7 36.2 4 36.5 4.2C36.8 4.4 37.2 4.6 37.5 4.8C37.8 4.9 38.1 5 38.4 5.1C38.7 5.2 39 5.2 39.3 5.2C39.6 5.2 40 5.2 40.3 5.1C40.6 5 40.9 4.9 41.2 4.8C41.5 4.6 41.8 4.4 42.1 4.2C42.5 4 42.8 3.7 43.1 3.4C43.4 3.1 43.7 2.8 44 2.2C44.3 1.7 44.8 0.4 45 0" fill="none" stroke="#d74f94" stroke-width="1.8"/>
<path d="M0 0C0.2 0.4 0.6 1.7 0.9 2.2C1.2 2.8 1.6 3.1 1.9 3.4C2.2 3.7 2.5 4 2.8 4.2C3.1 4.4 3.4 4.6 3.7 4.8C4.1 4.9 4.4 5 4.7 5.1C5 5.2 5.3 5.2 5.6 5.2C5.9 5.2 6.2 5.2 6.6 5.1C6.9 5 7.2 4.9 7.5 4.8C7.8 4.6 8.1 4.4 8.4 4.2C8.7 4 9.1 3.7 9.4 3.4C9.7 3.1 10 2.8 10.3 2.2C10.6 1.7 10.9 0.7 11.2 0C11.6 -0.7 11.9 -1.7 12.2 -2.2C12.5 -2.8 12.8 -3.1 13.1 -3.4C13.4 -3.7 13.7 -4 14 -4.2C14.4 -4.4 14.7 -4.6 15 -4.8C15.3 -4.9 15.6 -5 15.9 -5.1C16.2 -5.2 16.5 -5.2 16.9 -5.2C17.2 -5.2 17.5 -5.2 17.8 -5.1C18.1 -5 18.4 -4.9 18.7 -4.8C19 -4.6 19.4 -4.4 19.7 -4.2C20 -4 20.3 -3.7 20.6 -3.4C20.9 -3.1 21.2 -2.8 21.5 -2.2C21.9 -1.7 22.2 -0.7 22.5 -0C22.8 0.7 23.1 1.7 23.4 2.2C23.7 2.8 24 3.1 24.4 3.4C24.7 3.7 25 4 25.3 4.2C25.6 4.4 25.9 4.6 26.2 4.8C26.5 4.9 26.8 5 27.2 5.1C27.5 5.2 27.8 5.2 28.1 5.2C28.4 5.2 28.7 5.2 29 5.1C29.3 5 29.7 4.9 30 4.8C30.3 4.6 30.6 4.4 30.9 4.2C31.2 4 31.5 3.7 31.8 3.4C32.2 3.1 32.5 2.8 32.8 2.2C33.1 1.7 33.4 0.7 33.7 -0C34 -0.7 34.3 -1.7 34.7 -2.2C35 -2.8 35.3 -3.1 35.6 -3.4C35.9 -3.7 36.2 -4 36.5 -4.2C36.8 -4.4 37.2 -4.6 37.5 -4.8C37.8 -4.9 38.1 -5 38.4 -5.1C38.7 -5.2 39 -5.2 39.3 -5.2C39.6 -5.2 40 -5.2 40.3 -5.1C40.6 -5 40.9 -4.9 41.2 -4.8C41.5 -4.6 41.8 -4.4 42.1 -4.2C42.5 -4 42.8 -3.7 43.1 -3.4C43.4 -3.1 43.7 -2.8 44 -2.2C44.3 -1.7 44.8 -0.4 45 -0" fill="none" stroke="#d74f94" stroke-width="1.8"/>
</g>
<circle cx="430.1" cy="276.5" r="4.9" fill="url(#gg)"/>
<circle cx="437.6" cy="276.5" r="4.9" fill="url(#gr)"/>
<circle cx="445.1" cy="276.5" r="4.9" fill="url(#gb)"/>
<circle cx="452.7" cy="276.6" r="4.9" fill="url(#go)"/>
<circle cx="460.2" cy="276.6" r="4.9" fill="url(#gg)"/>
<circle cx="467.7" cy="276.6" r="4.9" fill="url(#gr)"/>
<circle cx="475.2" cy="276.6" r="4.9" fill="url(#gb)"/>
<circle cx="386.2" cy="278.7" r="3" fill="url(#gd)"/>
<path d="M400 327.7C400.5 328.4 401.9 330.3 403 331.7C404.1 333.1 405.3 334.8 406.5 336.2C407.7 337.6 408.7 339 410 339.8C411.3 340.6 413 341 414.5 341C416 341 417.6 340.3 419 339.8C420.4 339.3 421.7 338.3 423 337.8C424.3 337.3 426.2 336.9 426.8 336.7" fill="none" stroke="#169a8b" stroke-width="2.3" />
<path d="M358.1 325.8C358 325.1 358 323.2 357.7 321.7C357.4 320.2 357 318.3 356.5 316.7C356 315.1 355.7 312.9 354.7 311.8C353.7 310.7 351.9 310.2 350.5 309.8C349.1 309.4 347.2 309.8 346 309.4C344.8 309 343.7 308.3 343.1 307.2C342.5 306.1 342.4 303.5 342.3 302.8" fill="none" stroke="#169a8b" stroke-width="2.3" />
<g transform="translate(356.6 325.9) rotate(-2.9)">
<path d="M0 0C0.2 0.4 0.6 1.7 0.9 2.2C1.2 2.8 1.6 3.1 1.9 3.4C2.2 3.7 2.5 4 2.8 4.2C3.1 4.4 3.4 4.6 3.7 4.8C4.1 4.9 4.4 5 4.7 5.1C5 5.2 5.3 5.2 5.6 5.2C5.9 5.2 6.2 5.2 6.6 5.1C6.9 5 7.2 4.9 7.5 4.8C7.8 4.6 8.1 4.4 8.4 4.2C8.7 4 9.1 3.7 9.4 3.4C9.7 3.1 10 2.8 10.3 2.2C10.6 1.7 10.9 0.7 11.2 0C11.6 -0.7 11.9 -1.7 12.2 -2.2C12.5 -2.8 12.8 -3.1 13.1 -3.4C13.4 -3.7 13.7 -4 14 -4.2C14.4 -4.4 14.7 -4.6 15 -4.8C15.3 -4.9 15.6 -5 15.9 -5.1C16.2 -5.2 16.5 -5.2 16.9 -5.2C17.2 -5.2 17.5 -5.2 17.8 -5.1C18.1 -5 18.4 -4.9 18.7 -4.8C19 -4.6 19.4 -4.4 19.7 -4.2C20 -4 20.3 -3.7 20.6 -3.4C20.9 -3.1 21.2 -2.8 21.5 -2.2C21.9 -1.7 22.2 -0.7 22.5 -0C22.8 0.7 23.1 1.7 23.4 2.2C23.7 2.8 24 3.1 24.4 3.4C24.7 3.7 25 4 25.3 4.2C25.6 4.4 25.9 4.6 26.2 4.8C26.5 4.9 26.8 5 27.2 5.1C27.5 5.2 27.8 5.2 28.1 5.2C28.4 5.2 28.7 5.2 29 5.1C29.3 5 29.7 4.9 30 4.8C30.3 4.6 30.6 4.4 30.9 4.2C31.2 4 31.5 3.7 31.8 3.4C32.2 3.1 32.5 2.8 32.8 2.2C33.1 1.7 33.4 0.7 33.7 -0C34 -0.7 34.3 -1.7 34.7 -2.2C35 -2.8 35.3 -3.1 35.6 -3.4C35.9 -3.7 36.2 -4 36.5 -4.2C36.8 -4.4 37.2 -4.6 37.5 -4.8C37.8 -4.9 38.1 -5 38.4 -5.1C38.7 -5.2 39 -5.2 39.3 -5.2C39.6 -5.2 40 -5.2 40.3 -5.1C40.6 -5 40.9 -4.9 41.2 -4.8C41.5 -4.6 41.8 -4.4 42.1 -4.2C42.5 -4 42.8 -3.7 43.1 -3.4C43.4 -3.1 43.7 -2.8 44 -2.2C44.3 -1.7 44.8 -0.4 45 -0" fill="none" stroke="#667" stroke-opacity="0.55" stroke-width="2.6" transform="translate(0.8 1.6)"/>
<path d="M0 -0C0.2 -0.4 0.6 -1.7 0.9 -2.2C1.2 -2.8 1.6 -3.1 1.9 -3.4C2.2 -3.7 2.5 -4 2.8 -4.2C3.1 -4.4 3.4 -4.6 3.7 -4.8C4.1 -4.9 4.4 -5 4.7 -5.1C5 -5.2 5.3 -5.2 5.6 -5.2C5.9 -5.2 6.2 -5.2 6.6 -5.1C6.9 -5 7.2 -4.9 7.5 -4.8C7.8 -4.6 8.1 -4.4 8.4 -4.2C8.7 -4 9.1 -3.7 9.4 -3.4C9.7 -3.1 10 -2.8 10.3 -2.2C10.6 -1.7 10.9 -0.7 11.2 -0C11.6 0.7 11.9 1.7 12.2 2.2C12.5 2.8 12.8 3.1 13.1 3.4C13.4 3.7 13.7 4 14 4.2C14.4 4.4 14.7 4.6 15 4.8C15.3 4.9 15.6 5 15.9 5.1C16.2 5.2 16.5 5.2 16.9 5.2C17.2 5.2 17.5 5.2 17.8 5.1C18.1 5 18.4 4.9 18.7 4.8C19 4.6 19.4 4.4 19.7 4.2C20 4 20.3 3.7 20.6 3.4C20.9 3.1 21.2 2.8 21.5 2.2C21.9 1.7 22.2 0.7 22.5 0C22.8 -0.7 23.1 -1.7 23.4 -2.2C23.7 -2.8 24 -3.1 24.4 -3.4C24.7 -3.7 25 -4 25.3 -4.2C25.6 -4.4 25.9 -4.6 26.2 -4.8C26.5 -4.9 26.8 -5 27.2 -5.1C27.5 -5.2 27.8 -5.2 28.1 -5.2C28.4 -5.2 28.7 -5.2 29 -5.1C29.3 -5 29.7 -4.9 30 -4.8C30.3 -4.6 30.6 -4.4 30.9 -4.2C31.2 -4 31.5 -3.7 31.8 -3.4C32.2 -3.1 32.5 -2.8 32.8 -2.2C33.1 -1.7 33.4 -0.7 33.7 0C34 0.7 34.3 1.7 34.7 2.2C35 2.8 35.3 3.1 35.6 3.4C35.9 3.7 36.2 4 36.5 4.2C36.8 4.4 37.2 4.6 37.5 4.8C37.8 4.9 38.1 5 38.4 5.1C38.7 5.2 39 5.2 39.3 5.2C39.6 5.2 40 5.2 40.3 5.1C40.6 5 40.9 4.9 41.2 4.8C41.5 4.6 41.8 4.4 42.1 4.2C42.5 4 42.8 3.7 43.1 3.4C43.4 3.1 43.7 2.8 44 2.2C44.3 1.7 44.8 0.4 45 0" fill="none" stroke="#667" stroke-opacity="0.55" stroke-width="2.6" transform="translate(0.8 1.6)"/>
<path d="M0 0C0.2 0.4 0.6 1.7 0.9 2.2C1.2 2.8 1.6 3.1 1.9 3.4C2.2 3.7 2.5 4 2.8 4.2C3.1 4.4 3.4 4.6 3.7 4.8C4.1 4.9 4.4 5 4.7 5.1C5 5.2 5.3 5.2 5.6 5.2C5.9 5.2 6.2 5.2 6.6 5.1C6.9 5 7.2 4.9 7.5 4.8C7.8 4.6 8.1 4.4 8.4 4.2C8.7 4 9.1 3.7 9.4 3.4C9.7 3.1 10 2.8 10.3 2.2C10.6 1.7 10.9 0.7 11.2 0C11.6 -0.7 11.9 -1.7 12.2 -2.2C12.5 -2.8 12.8 -3.1 13.1 -3.4C13.4 -3.7 13.7 -4 14 -4.2C14.4 -4.4 14.7 -4.6 15 -4.8C15.3 -4.9 15.6 -5 15.9 -5.1C16.2 -5.2 16.5 -5.2 16.9 -5.2C17.2 -5.2 17.5 -5.2 17.8 -5.1C18.1 -5 18.4 -4.9 18.7 -4.8C19 -4.6 19.4 -4.4 19.7 -4.2C20 -4 20.3 -3.7 20.6 -3.4C20.9 -3.1 21.2 -2.8 21.5 -2.2C21.9 -1.7 22.2 -0.7 22.5 -0C22.8 0.7 23.1 1.7 23.4 2.2C23.7 2.8 24 3.1 24.4 3.4C24.7 3.7 25 4 25.3 4.2C25.6 4.4 25.9 4.6 26.2 4.8C26.5 4.9 26.8 5 27.2 5.1C27.5 5.2 27.8 5.2 28.1 5.2C28.4 5.2 28.7 5.2 29 5.1C29.3 5 29.7 4.9 30 4.8C30.3 4.6 30.6 4.4 30.9 4.2C31.2 4 31.5 3.7 31.8 3.4C32.2 3.1 32.5 2.8 32.8 2.2C33.1 1.7 33.4 0.7 33.7 -0C34 -0.7 34.3 -1.7 34.7 -2.2C35 -2.8 35.3 -3.1 35.6 -3.4C35.9 -3.7 36.2 -4 36.5 -4.2C36.8 -4.4 37.2 -4.6 37.5 -4.8C37.8 -4.9 38.1 -5 38.4 -5.1C38.7 -5.2 39 -5.2 39.3 -5.2C39.6 -5.2 40 -5.2 40.3 -5.1C40.6 -5 40.9 -4.9 41.2 -4.8C41.5 -4.6 41.8 -4.4 42.1 -4.2C42.5 -4 42.8 -3.7 43.1 -3.4C43.4 -3.1 43.7 -2.8 44 -2.2C44.3 -1.7 44.8 -0.4 45 -0 L45 0 L44 2.2 L43.1 3.4 L42.1 4.2 L41.2 4.8 L40.3 5.1 L39.3 5.2 L38.4 5.1 L37.5 4.8 L36.5 4.2 L35.6 3.4 L34.7 2.2 L33.7 0 L32.8 -2.2 L31.8 -3.4 L30.9 -4.2 L30 -4.8 L29 -5.1 L28.1 -5.2 L27.2 -5.1 L26.2 -4.8 L25.3 -4.2 L24.4 -3.4 L23.4 -2.2 L22.5 0 L21.5 2.2 L20.6 3.4 L19.7 4.2 L18.7 4.8 L17.8 5.1 L16.9 5.2 L15.9 5.1 L15 4.8 L14 4.2 L13.1 3.4 L12.2 2.2 L11.2 -0 L10.3 -2.2 L9.4 -3.4 L8.4 -4.2 L7.5 -4.8 L6.6 -5.1 L5.6 -5.2 L4.7 -5.1 L3.7 -4.8 L2.8 -4.2 L1.9 -3.4 L0.9 -2.2 L0 -0Z" fill="#fff" stroke="none"/>
<path d="M3.8 -4.8V4.8M7.4 -4.8V4.8M15.1 -4.8V4.8M18.7 -4.8V4.8M26.3 -4.8V4.8M29.9 -4.8V4.8M37.5 -4.8V4.8M41.1 -4.8V4.8" fill="none" stroke="#262626" stroke-width="2.5" style="stroke-linecap:butt" transform="skewX(-20)"/>
<path d="M0 -0C0.2 -0.4 0.6 -1.7 0.9 -2.2C1.2 -2.8 1.6 -3.1 1.9 -3.4C2.2 -3.7 2.5 -4 2.8 -4.2C3.1 -4.4 3.4 -4.6 3.7 -4.8C4.1 -4.9 4.4 -5 4.7 -5.1C5 -5.2 5.3 -5.2 5.6 -5.2C5.9 -5.2 6.2 -5.2 6.6 -5.1C6.9 -5 7.2 -4.9 7.5 -4.8C7.8 -4.6 8.1 -4.4 8.4 -4.2C8.7 -4 9.1 -3.7 9.4 -3.4C9.7 -3.1 10 -2.8 10.3 -2.2C10.6 -1.7 10.9 -0.7 11.2 -0C11.6 0.7 11.9 1.7 12.2 2.2C12.5 2.8 12.8 3.1 13.1 3.4C13.4 3.7 13.7 4 14 4.2C14.4 4.4 14.7 4.6 15 4.8C15.3 4.9 15.6 5 15.9 5.1C16.2 5.2 16.5 5.2 16.9 5.2C17.2 5.2 17.5 5.2 17.8 5.1C18.1 5 18.4 4.9 18.7 4.8C19 4.6 19.4 4.4 19.7 4.2C20 4 20.3 3.7 20.6 3.4C20.9 3.1 21.2 2.8 21.5 2.2C21.9 1.7 22.2 0.7 22.5 0C22.8 -0.7 23.1 -1.7 23.4 -2.2C23.7 -2.8 24 -3.1 24.4 -3.4C24.7 -3.7 25 -4 25.3 -4.2C25.6 -4.4 25.9 -4.6 26.2 -4.8C26.5 -4.9 26.8 -5 27.2 -5.1C27.5 -5.2 27.8 -5.2 28.1 -5.2C28.4 -5.2 28.7 -5.2 29 -5.1C29.3 -5 29.7 -4.9 30 -4.8C30.3 -4.6 30.6 -4.4 30.9 -4.2C31.2 -4 31.5 -3.7 31.8 -3.4C32.2 -3.1 32.5 -2.8 32.8 -2.2C33.1 -1.7 33.4 -0.7 33.7 0C34 0.7 34.3 1.7 34.7 2.2C35 2.8 35.3 3.1 35.6 3.4C35.9 3.7 36.2 4 36.5 4.2C36.8 4.4 37.2 4.6 37.5 4.8C37.8 4.9 38.1 5 38.4 5.1C38.7 5.2 39 5.2 39.3 5.2C39.6 5.2 40 5.2 40.3 5.1C40.6 5 40.9 4.9 41.2 4.8C41.5 4.6 41.8 4.4 42.1 4.2C42.5 4 42.8 3.7 43.1 3.4C43.4 3.1 43.7 2.8 44 2.2C44.3 1.7 44.8 0.4 45 0" fill="none" stroke="#169a8b" stroke-width="1.8"/>
<path d="M0 0C0.2 0.4 0.6 1.7 0.9 2.2C1.2 2.8 1.6 3.1 1.9 3.4C2.2 3.7 2.5 4 2.8 4.2C3.1 4.4 3.4 4.6 3.7 4.8C4.1 4.9 4.4 5 4.7 5.1C5 5.2 5.3 5.2 5.6 5.2C5.9 5.2 6.2 5.2 6.6 5.1C6.9 5 7.2 4.9 7.5 4.8C7.8 4.6 8.1 4.4 8.4 4.2C8.7 4 9.1 3.7 9.4 3.4C9.7 3.1 10 2.8 10.3 2.2C10.6 1.7 10.9 0.7 11.2 0C11.6 -0.7 11.9 -1.7 12.2 -2.2C12.5 -2.8 12.8 -3.1 13.1 -3.4C13.4 -3.7 13.7 -4 14 -4.2C14.4 -4.4 14.7 -4.6 15 -4.8C15.3 -4.9 15.6 -5 15.9 -5.1C16.2 -5.2 16.5 -5.2 16.9 -5.2C17.2 -5.2 17.5 -5.2 17.8 -5.1C18.1 -5 18.4 -4.9 18.7 -4.8C19 -4.6 19.4 -4.4 19.7 -4.2C20 -4 20.3 -3.7 20.6 -3.4C20.9 -3.1 21.2 -2.8 21.5 -2.2C21.9 -1.7 22.2 -0.7 22.5 -0C22.8 0.7 23.1 1.7 23.4 2.2C23.7 2.8 24 3.1 24.4 3.4C24.7 3.7 25 4 25.3 4.2C25.6 4.4 25.9 4.6 26.2 4.8C26.5 4.9 26.8 5 27.2 5.1C27.5 5.2 27.8 5.2 28.1 5.2C28.4 5.2 28.7 5.2 29 5.1C29.3 5 29.7 4.9 30 4.8C30.3 4.6 30.6 4.4 30.9 4.2C31.2 4 31.5 3.7 31.8 3.4C32.2 3.1 32.5 2.8 32.8 2.2C33.1 1.7 33.4 0.7 33.7 -0C34 -0.7 34.3 -1.7 34.7 -2.2C35 -2.8 35.3 -3.1 35.6 -3.4C35.9 -3.7 36.2 -4 36.5 -4.2C36.8 -4.4 37.2 -4.6 37.5 -4.8C37.8 -4.9 38.1 -5 38.4 -5.1C38.7 -5.2 39 -5.2 39.3 -5.2C39.6 -5.2 40 -5.2 40.3 -5.1C40.6 -5 40.9 -4.9 41.2 -4.8C41.5 -4.6 41.8 -4.4 42.1 -4.2C42.5 -4 42.8 -3.7 43.1 -3.4C43.4 -3.1 43.7 -2.8 44 -2.2C44.3 -1.7 44.8 -0.4 45 -0" fill="none" stroke="#169a8b" stroke-width="1.8"/>
</g>
<circle cx="402" cy="323.6" r="4.9" fill="url(#gr)"/>
<circle cx="409.5" cy="323.6" r="4.9" fill="url(#gb)"/>
<circle cx="417" cy="323.6" r="4.9" fill="url(#go)"/>
<circle cx="424.6" cy="323.6" r="4.9" fill="url(#gg)"/>
<circle cx="432.1" cy="323.7" r="4.9" fill="url(#gr)"/>
<circle cx="439.6" cy="323.7" r="4.9" fill="url(#gg)"/>
<circle cx="447.1" cy="323.7" r="4.9" fill="url(#gb)"/>
<circle cx="358.1" cy="325.8" r="3" fill="url(#gd)"/>
<path d="M541 240.1C541.5 240.8 542.9 242.7 544 244.1C545.1 245.5 546.3 247.2 547.5 248.6C548.7 249.9 549.7 251.4 551 252.2C552.3 253 554 253.4 555.5 253.4C557 253.4 558.6 252.7 560 252.2C561.4 251.7 562.7 250.7 564 250.2C565.3 249.7 567.2 249.3 567.8 249.1" fill="none" stroke="#169a8b" stroke-width="2.3" />
<path d="M499.1 238.2C499 237.5 499 235.6 498.7 234.1C498.4 232.6 498 230.8 497.5 229.1C497 227.4 496.7 225.3 495.7 224.2C494.7 223 492.9 222.6 491.5 222.2C490.1 221.8 488.2 222.2 487 221.8C485.8 221.4 484.7 220.7 484.1 219.6C483.5 218.5 483.4 215.9 483.3 215.2" fill="none" stroke="#169a8b" stroke-width="2.3" />
<g transform="translate(497.6 238.3) rotate(-2.9)">
<path d="M0 0C0.2 0.4 0.6 1.7 0.9 2.2C1.2 2.8 1.6 3.1 1.9 3.4C2.2 3.7 2.5 4 2.8 4.2C3.1 4.4 3.4 4.6 3.7 4.8C4.1 4.9 4.4 5 4.7 5.1C5 5.2 5.3 5.2 5.6 5.2C5.9 5.2 6.2 5.2 6.6 5.1C6.9 5 7.2 4.9 7.5 4.8C7.8 4.6 8.1 4.4 8.4 4.2C8.7 4 9.1 3.7 9.4 3.4C9.7 3.1 10 2.8 10.3 2.2C10.6 1.7 10.9 0.7 11.2 0C11.6 -0.7 11.9 -1.7 12.2 -2.2C12.5 -2.8 12.8 -3.1 13.1 -3.4C13.4 -3.7 13.7 -4 14 -4.2C14.4 -4.4 14.7 -4.6 15 -4.8C15.3 -4.9 15.6 -5 15.9 -5.1C16.2 -5.2 16.5 -5.2 16.9 -5.2C17.2 -5.2 17.5 -5.2 17.8 -5.1C18.1 -5 18.4 -4.9 18.7 -4.8C19 -4.6 19.4 -4.4 19.7 -4.2C20 -4 20.3 -3.7 20.6 -3.4C20.9 -3.1 21.2 -2.8 21.5 -2.2C21.9 -1.7 22.2 -0.7 22.5 -0C22.8 0.7 23.1 1.7 23.4 2.2C23.7 2.8 24 3.1 24.4 3.4C24.7 3.7 25 4 25.3 4.2C25.6 4.4 25.9 4.6 26.2 4.8C26.5 4.9 26.8 5 27.2 5.1C27.5 5.2 27.8 5.2 28.1 5.2C28.4 5.2 28.7 5.2 29 5.1C29.3 5 29.7 4.9 30 4.8C30.3 4.6 30.6 4.4 30.9 4.2C31.2 4 31.5 3.7 31.8 3.4C32.2 3.1 32.5 2.8 32.8 2.2C33.1 1.7 33.4 0.7 33.7 -0C34 -0.7 34.3 -1.7 34.7 -2.2C35 -2.8 35.3 -3.1 35.6 -3.4C35.9 -3.7 36.2 -4 36.5 -4.2C36.8 -4.4 37.2 -4.6 37.5 -4.8C37.8 -4.9 38.1 -5 38.4 -5.1C38.7 -5.2 39 -5.2 39.3 -5.2C39.6 -5.2 40 -5.2 40.3 -5.1C40.6 -5 40.9 -4.9 41.2 -4.8C41.5 -4.6 41.8 -4.4 42.1 -4.2C42.5 -4 42.8 -3.7 43.1 -3.4C43.4 -3.1 43.7 -2.8 44 -2.2C44.3 -1.7 44.8 -0.4 45 -0" fill="none" stroke="#667" stroke-opacity="0.55" stroke-width="2.6" transform="translate(0.8 1.6)"/>
<path d="M0 -0C0.2 -0.4 0.6 -1.7 0.9 -2.2C1.2 -2.8 1.6 -3.1 1.9 -3.4C2.2 -3.7 2.5 -4 2.8 -4.2C3.1 -4.4 3.4 -4.6 3.7 -4.8C4.1 -4.9 4.4 -5 4.7 -5.1C5 -5.2 5.3 -5.2 5.6 -5.2C5.9 -5.2 6.2 -5.2 6.6 -5.1C6.9 -5 7.2 -4.9 7.5 -4.8C7.8 -4.6 8.1 -4.4 8.4 -4.2C8.7 -4 9.1 -3.7 9.4 -3.4C9.7 -3.1 10 -2.8 10.3 -2.2C10.6 -1.7 10.9 -0.7 11.2 -0C11.6 0.7 11.9 1.7 12.2 2.2C12.5 2.8 12.8 3.1 13.1 3.4C13.4 3.7 13.7 4 14 4.2C14.4 4.4 14.7 4.6 15 4.8C15.3 4.9 15.6 5 15.9 5.1C16.2 5.2 16.5 5.2 16.9 5.2C17.2 5.2 17.5 5.2 17.8 5.1C18.1 5 18.4 4.9 18.7 4.8C19 4.6 19.4 4.4 19.7 4.2C20 4 20.3 3.7 20.6 3.4C20.9 3.1 21.2 2.8 21.5 2.2C21.9 1.7 22.2 0.7 22.5 0C22.8 -0.7 23.1 -1.7 23.4 -2.2C23.7 -2.8 24 -3.1 24.4 -3.4C24.7 -3.7 25 -4 25.3 -4.2C25.6 -4.4 25.9 -4.6 26.2 -4.8C26.5 -4.9 26.8 -5 27.2 -5.1C27.5 -5.2 27.8 -5.2 28.1 -5.2C28.4 -5.2 28.7 -5.2 29 -5.1C29.3 -5 29.7 -4.9 30 -4.8C30.3 -4.6 30.6 -4.4 30.9 -4.2C31.2 -4 31.5 -3.7 31.8 -3.4C32.2 -3.1 32.5 -2.8 32.8 -2.2C33.1 -1.7 33.4 -0.7 33.7 0C34 0.7 34.3 1.7 34.7 2.2C35 2.8 35.3 3.1 35.6 3.4C35.9 3.7 36.2 4 36.5 4.2C36.8 4.4 37.2 4.6 37.5 4.8C37.8 4.9 38.1 5 38.4 5.1C38.7 5.2 39 5.2 39.3 5.2C39.6 5.2 40 5.2 40.3 5.1C40.6 5 40.9 4.9 41.2 4.8C41.5 4.6 41.8 4.4 42.1 4.2C42.5 4 42.8 3.7 43.1 3.4C43.4 3.1 43.7 2.8 44 2.2C44.3 1.7 44.8 0.4 45 0" fill="none" stroke="#667" stroke-opacity="0.55" stroke-width="2.6" transform="translate(0.8 1.6)"/>
<path d="M0 0C0.2 0.4 0.6 1.7 0.9 2.2C1.2 2.8 1.6 3.1 1.9 3.4C2.2 3.7 2.5 4 2.8 4.2C3.1 4.4 3.4 4.6 3.7 4.8C4.1 4.9 4.4 5 4.7 5.1C5 5.2 5.3 5.2 5.6 5.2C5.9 5.2 6.2 5.2 6.6 5.1C6.9 5 7.2 4.9 7.5 4.8C7.8 4.6 8.1 4.4 8.4 4.2C8.7 4 9.1 3.7 9.4 3.4C9.7 3.1 10 2.8 10.3 2.2C10.6 1.7 10.9 0.7 11.2 0C11.6 -0.7 11.9 -1.7 12.2 -2.2C12.5 -2.8 12.8 -3.1 13.1 -3.4C13.4 -3.7 13.7 -4 14 -4.2C14.4 -4.4 14.7 -4.6 15 -4.8C15.3 -4.9 15.6 -5 15.9 -5.1C16.2 -5.2 16.5 -5.2 16.9 -5.2C17.2 -5.2 17.5 -5.2 17.8 -5.1C18.1 -5 18.4 -4.9 18.7 -4.8C19 -4.6 19.4 -4.4 19.7 -4.2C20 -4 20.3 -3.7 20.6 -3.4C20.9 -3.1 21.2 -2.8 21.5 -2.2C21.9 -1.7 22.2 -0.7 22.5 -0C22.8 0.7 23.1 1.7 23.4 2.2C23.7 2.8 24 3.1 24.4 3.4C24.7 3.7 25 4 25.3 4.2C25.6 4.4 25.9 4.6 26.2 4.8C26.5 4.9 26.8 5 27.2 5.1C27.5 5.2 27.8 5.2 28.1 5.2C28.4 5.2 28.7 5.2 29 5.1C29.3 5 29.7 4.9 30 4.8C30.3 4.6 30.6 4.4 30.9 4.2C31.2 4 31.5 3.7 31.8 3.4C32.2 3.1 32.5 2.8 32.8 2.2C33.1 1.7 33.4 0.7 33.7 -0C34 -0.7 34.3 -1.7 34.7 -2.2C35 -2.8 35.3 -3.1 35.6 -3.4C35.9 -3.7 36.2 -4 36.5 -4.2C36.8 -4.4 37.2 -4.6 37.5 -4.8C37.8 -4.9 38.1 -5 38.4 -5.1C38.7 -5.2 39 -5.2 39.3 -5.2C39.6 -5.2 40 -5.2 40.3 -5.1C40.6 -5 40.9 -4.9 41.2 -4.8C41.5 -4.6 41.8 -4.4 42.1 -4.2C42.5 -4 42.8 -3.7 43.1 -3.4C43.4 -3.1 43.7 -2.8 44 -2.2C44.3 -1.7 44.8 -0.4 45 -0 L45 0 L44 2.2 L43.1 3.4 L42.1 4.2 L41.2 4.8 L40.3 5.1 L39.3 5.2 L38.4 5.1 L37.5 4.8 L36.5 4.2 L35.6 3.4 L34.7 2.2 L33.7 0 L32.8 -2.2 L31.8 -3.4 L30.9 -4.2 L30 -4.8 L29 -5.1 L28.1 -5.2 L27.2 -5.1 L26.2 -4.8 L25.3 -4.2 L24.4 -3.4 L23.4 -2.2 L22.5 0 L21.5 2.2 L20.6 3.4 L19.7 4.2 L18.7 4.8 L17.8 5.1 L16.9 5.2 L15.9 5.1 L15 4.8 L14 4.2 L13.1 3.4 L12.2 2.2 L11.2 -0 L10.3 -2.2 L9.4 -3.4 L8.4 -4.2 L7.5 -4.8 L6.6 -5.1 L5.6 -5.2 L4.7 -5.1 L3.7 -4.8 L2.8 -4.2 L1.9 -3.4 L0.9 -2.2 L0 -0Z" fill="#fff" stroke="none"/>
<path d="M3.8 -4.8V4.8M7.4 -4.8V4.8M15.1 -4.8V4.8M18.7 -4.8V4.8M26.3 -4.8V4.8M29.9 -4.8V4.8M37.5 -4.8V4.8M41.1 -4.8V4.8" fill="none" stroke="#262626" stroke-width="2.5" style="stroke-linecap:butt" transform="skewX(-20)"/>
<path d="M0 -0C0.2 -0.4 0.6 -1.7 0.9 -2.2C1.2 -2.8 1.6 -3.1 1.9 -3.4C2.2 -3.7 2.5 -4 2.8 -4.2C3.1 -4.4 3.4 -4.6 3.7 -4.8C4.1 -4.9 4.4 -5 4.7 -5.1C5 -5.2 5.3 -5.2 5.6 -5.2C5.9 -5.2 6.2 -5.2 6.6 -5.1C6.9 -5 7.2 -4.9 7.5 -4.8C7.8 -4.6 8.1 -4.4 8.4 -4.2C8.7 -4 9.1 -3.7 9.4 -3.4C9.7 -3.1 10 -2.8 10.3 -2.2C10.6 -1.7 10.9 -0.7 11.2 -0C11.6 0.7 11.9 1.7 12.2 2.2C12.5 2.8 12.8 3.1 13.1 3.4C13.4 3.7 13.7 4 14 4.2C14.4 4.4 14.7 4.6 15 4.8C15.3 4.9 15.6 5 15.9 5.1C16.2 5.2 16.5 5.2 16.9 5.2C17.2 5.2 17.5 5.2 17.8 5.1C18.1 5 18.4 4.9 18.7 4.8C19 4.6 19.4 4.4 19.7 4.2C20 4 20.3 3.7 20.6 3.4C20.9 3.1 21.2 2.8 21.5 2.2C21.9 1.7 22.2 0.7 22.5 0C22.8 -0.7 23.1 -1.7 23.4 -2.2C23.7 -2.8 24 -3.1 24.4 -3.4C24.7 -3.7 25 -4 25.3 -4.2C25.6 -4.4 25.9 -4.6 26.2 -4.8C26.5 -4.9 26.8 -5 27.2 -5.1C27.5 -5.2 27.8 -5.2 28.1 -5.2C28.4 -5.2 28.7 -5.2 29 -5.1C29.3 -5 29.7 -4.9 30 -4.8C30.3 -4.6 30.6 -4.4 30.9 -4.2C31.2 -4 31.5 -3.7 31.8 -3.4C32.2 -3.1 32.5 -2.8 32.8 -2.2C33.1 -1.7 33.4 -0.7 33.7 0C34 0.7 34.3 1.7 34.7 2.2C35 2.8 35.3 3.1 35.6 3.4C35.9 3.7 36.2 4 36.5 4.2C36.8 4.4 37.2 4.6 37.5 4.8C37.8 4.9 38.1 5 38.4 5.1C38.7 5.2 39 5.2 39.3 5.2C39.6 5.2 40 5.2 40.3 5.1C40.6 5 40.9 4.9 41.2 4.8C41.5 4.6 41.8 4.4 42.1 4.2C42.5 4 42.8 3.7 43.1 3.4C43.4 3.1 43.7 2.8 44 2.2C44.3 1.7 44.8 0.4 45 0" fill="none" stroke="#169a8b" stroke-width="1.8"/>
<path d="M0 0C0.2 0.4 0.6 1.7 0.9 2.2C1.2 2.8 1.6 3.1 1.9 3.4C2.2 3.7 2.5 4 2.8 4.2C3.1 4.4 3.4 4.6 3.7 4.8C4.1 4.9 4.4 5 4.7 5.1C5 5.2 5.3 5.2 5.6 5.2C5.9 5.2 6.2 5.2 6.6 5.1C6.9 5 7.2 4.9 7.5 4.8C7.8 4.6 8.1 4.4 8.4 4.2C8.7 4 9.1 3.7 9.4 3.4C9.7 3.1 10 2.8 10.3 2.2C10.6 1.7 10.9 0.7 11.2 0C11.6 -0.7 11.9 -1.7 12.2 -2.2C12.5 -2.8 12.8 -3.1 13.1 -3.4C13.4 -3.7 13.7 -4 14 -4.2C14.4 -4.4 14.7 -4.6 15 -4.8C15.3 -4.9 15.6 -5 15.9 -5.1C16.2 -5.2 16.5 -5.2 16.9 -5.2C17.2 -5.2 17.5 -5.2 17.8 -5.1C18.1 -5 18.4 -4.9 18.7 -4.8C19 -4.6 19.4 -4.4 19.7 -4.2C20 -4 20.3 -3.7 20.6 -3.4C20.9 -3.1 21.2 -2.8 21.5 -2.2C21.9 -1.7 22.2 -0.7 22.5 -0C22.8 0.7 23.1 1.7 23.4 2.2C23.7 2.8 24 3.1 24.4 3.4C24.7 3.7 25 4 25.3 4.2C25.6 4.4 25.9 4.6 26.2 4.8C26.5 4.9 26.8 5 27.2 5.1C27.5 5.2 27.8 5.2 28.1 5.2C28.4 5.2 28.7 5.2 29 5.1C29.3 5 29.7 4.9 30 4.8C30.3 4.6 30.6 4.4 30.9 4.2C31.2 4 31.5 3.7 31.8 3.4C32.2 3.1 32.5 2.8 32.8 2.2C33.1 1.7 33.4 0.7 33.7 -0C34 -0.7 34.3 -1.7 34.7 -2.2C35 -2.8 35.3 -3.1 35.6 -3.4C35.9 -3.7 36.2 -4 36.5 -4.2C36.8 -4.4 37.2 -4.6 37.5 -4.8C37.8 -4.9 38.1 -5 38.4 -5.1C38.7 -5.2 39 -5.2 39.3 -5.2C39.6 -5.2 40 -5.2 40.3 -5.1C40.6 -5 40.9 -4.9 41.2 -4.8C41.5 -4.6 41.8 -4.4 42.1 -4.2C42.5 -4 42.8 -3.7 43.1 -3.4C43.4 -3.1 43.7 -2.8 44 -2.2C44.3 -1.7 44.8 -0.4 45 -0" fill="none" stroke="#169a8b" stroke-width="1.8"/>
</g>
<circle cx="543" cy="236" r="4.9" fill="url(#gr)"/>
<circle cx="550.5" cy="236" r="4.9" fill="url(#gb)"/>
<circle cx="558" cy="236" r="4.9" fill="url(#go)"/>
<circle cx="565.5" cy="236.1" r="4.9" fill="url(#gg)"/>
<circle cx="573.1" cy="236.1" r="4.9" fill="url(#gr)"/>
<circle cx="580.6" cy="236.1" r="4.9" fill="url(#gg)"/>
<circle cx="588.1" cy="236.1" r="4.9" fill="url(#gb)"/>
<circle cx="499.1" cy="238.2" r="3" fill="url(#gd)"/>
<path d="M537 284.9C537.5 285.6 538.9 287.5 540 288.9C541.1 290.3 542.3 292 543.5 293.4C544.7 294.8 545.7 296.2 547 297C548.3 297.8 550 298.2 551.5 298.2C553 298.2 554.6 297.5 556 297C557.4 296.5 558.7 295.5 560 295C561.3 294.5 563.2 294.1 563.8 293.9" fill="none" stroke="#604996" stroke-width="2.3" />
<path d="M495.1 283C495 282.3 495 280.4 494.7 278.9C494.4 277.4 494 275.5 493.5 273.9C493 272.2 492.7 270.1 491.7 269C490.7 267.9 488.9 267.4 487.5 267C486.1 266.6 484.2 267 483 266.6C481.8 266.2 480.7 265.5 480.1 264.4C479.5 263.3 479.4 260.7 479.3 260" fill="none" stroke="#604996" stroke-width="2.3" />
<g transform="translate(493.6 283.1) rotate(-2.9)">
<path d="M0 0C0.2 0.4 0.6 1.7 0.9 2.2C1.2 2.8 1.6 3.1 1.9 3.4C2.2 3.7 2.5 4 2.8 4.2C3.1 4.4 3.4 4.6 3.7 4.8C4.1 4.9 4.4 5 4.7 5.1C5 5.2 5.3 5.2 5.6 5.2C5.9 5.2 6.2 5.2 6.6 5.1C6.9 5 7.2 4.9 7.5 4.8C7.8 4.6 8.1 4.4 8.4 4.2C8.7 4 9.1 3.7 9.4 3.4C9.7 3.1 10 2.8 10.3 2.2C10.6 1.7 10.9 0.7 11.2 0C11.6 -0.7 11.9 -1.7 12.2 -2.2C12.5 -2.8 12.8 -3.1 13.1 -3.4C13.4 -3.7 13.7 -4 14 -4.2C14.4 -4.4 14.7 -4.6 15 -4.8C15.3 -4.9 15.6 -5 15.9 -5.1C16.2 -5.2 16.5 -5.2 16.9 -5.2C17.2 -5.2 17.5 -5.2 17.8 -5.1C18.1 -5 18.4 -4.9 18.7 -4.8C19 -4.6 19.4 -4.4 19.7 -4.2C20 -4 20.3 -3.7 20.6 -3.4C20.9 -3.1 21.2 -2.8 21.5 -2.2C21.9 -1.7 22.2 -0.7 22.5 -0C22.8 0.7 23.1 1.7 23.4 2.2C23.7 2.8 24 3.1 24.4 3.4C24.7 3.7 25 4 25.3 4.2C25.6 4.4 25.9 4.6 26.2 4.8C26.5 4.9 26.8 5 27.2 5.1C27.5 5.2 27.8 5.2 28.1 5.2C28.4 5.2 28.7 5.2 29 5.1C29.3 5 29.7 4.9 30 4.8C30.3 4.6 30.6 4.4 30.9 4.2C31.2 4 31.5 3.7 31.8 3.4C32.2 3.1 32.5 2.8 32.8 2.2C33.1 1.7 33.4 0.7 33.7 -0C34 -0.7 34.3 -1.7 34.7 -2.2C35 -2.8 35.3 -3.1 35.6 -3.4C35.9 -3.7 36.2 -4 36.5 -4.2C36.8 -4.4 37.2 -4.6 37.5 -4.8C37.8 -4.9 38.1 -5 38.4 -5.1C38.7 -5.2 39 -5.2 39.3 -5.2C39.6 -5.2 40 -5.2 40.3 -5.1C40.6 -5 40.9 -4.9 41.2 -4.8C41.5 -4.6 41.8 -4.4 42.1 -4.2C42.5 -4 42.8 -3.7 43.1 -3.4C43.4 -3.1 43.7 -2.8 44 -2.2C44.3 -1.7 44.8 -0.4 45 -0" fill="none" stroke="#667" stroke-opacity="0.55" stroke-width="2.6" transform="translate(0.8 1.6)"/>
<path d="M0 -0C0.2 -0.4 0.6 -1.7 0.9 -2.2C1.2 -2.8 1.6 -3.1 1.9 -3.4C2.2 -3.7 2.5 -4 2.8 -4.2C3.1 -4.4 3.4 -4.6 3.7 -4.8C4.1 -4.9 4.4 -5 4.7 -5.1C5 -5.2 5.3 -5.2 5.6 -5.2C5.9 -5.2 6.2 -5.2 6.6 -5.1C6.9 -5 7.2 -4.9 7.5 -4.8C7.8 -4.6 8.1 -4.4 8.4 -4.2C8.7 -4 9.1 -3.7 9.4 -3.4C9.7 -3.1 10 -2.8 10.3 -2.2C10.6 -1.7 10.9 -0.7 11.2 -0C11.6 0.7 11.9 1.7 12.2 2.2C12.5 2.8 12.8 3.1 13.1 3.4C13.4 3.7 13.7 4 14 4.2C14.4 4.4 14.7 4.6 15 4.8C15.3 4.9 15.6 5 15.9 5.1C16.2 5.2 16.5 5.2 16.9 5.2C17.2 5.2 17.5 5.2 17.8 5.1C18.1 5 18.4 4.9 18.7 4.8C19 4.6 19.4 4.4 19.7 4.2C20 4 20.3 3.7 20.6 3.4C20.9 3.1 21.2 2.8 21.5 2.2C21.9 1.7 22.2 0.7 22.5 0C22.8 -0.7 23.1 -1.7 23.4 -2.2C23.7 -2.8 24 -3.1 24.4 -3.4C24.7 -3.7 25 -4 25.3 -4.2C25.6 -4.4 25.9 -4.6 26.2 -4.8C26.5 -4.9 26.8 -5 27.2 -5.1C27.5 -5.2 27.8 -5.2 28.1 -5.2C28.4 -5.2 28.7 -5.2 29 -5.1C29.3 -5 29.7 -4.9 30 -4.8C30.3 -4.6 30.6 -4.4 30.9 -4.2C31.2 -4 31.5 -3.7 31.8 -3.4C32.2 -3.1 32.5 -2.8 32.8 -2.2C33.1 -1.7 33.4 -0.7 33.7 0C34 0.7 34.3 1.7 34.7 2.2C35 2.8 35.3 3.1 35.6 3.4C35.9 3.7 36.2 4 36.5 4.2C36.8 4.4 37.2 4.6 37.5 4.8C37.8 4.9 38.1 5 38.4 5.1C38.7 5.2 39 5.2 39.3 5.2C39.6 5.2 40 5.2 40.3 5.1C40.6 5 40.9 4.9 41.2 4.8C41.5 4.6 41.8 4.4 42.1 4.2C42.5 4 42.8 3.7 43.1 3.4C43.4 3.1 43.7 2.8 44 2.2C44.3 1.7 44.8 0.4 45 0" fill="none" stroke="#667" stroke-opacity="0.55" stroke-width="2.6" transform="translate(0.8 1.6)"/>
<path d="M0 0C0.2 0.4 0.6 1.7 0.9 2.2C1.2 2.8 1.6 3.1 1.9 3.4C2.2 3.7 2.5 4 2.8 4.2C3.1 4.4 3.4 4.6 3.7 4.8C4.1 4.9 4.4 5 4.7 5.1C5 5.2 5.3 5.2 5.6 5.2C5.9 5.2 6.2 5.2 6.6 5.1C6.9 5 7.2 4.9 7.5 4.8C7.8 4.6 8.1 4.4 8.4 4.2C8.7 4 9.1 3.7 9.4 3.4C9.7 3.1 10 2.8 10.3 2.2C10.6 1.7 10.9 0.7 11.2 0C11.6 -0.7 11.9 -1.7 12.2 -2.2C12.5 -2.8 12.8 -3.1 13.1 -3.4C13.4 -3.7 13.7 -4 14 -4.2C14.4 -4.4 14.7 -4.6 15 -4.8C15.3 -4.9 15.6 -5 15.9 -5.1C16.2 -5.2 16.5 -5.2 16.9 -5.2C17.2 -5.2 17.5 -5.2 17.8 -5.1C18.1 -5 18.4 -4.9 18.7 -4.8C19 -4.6 19.4 -4.4 19.7 -4.2C20 -4 20.3 -3.7 20.6 -3.4C20.9 -3.1 21.2 -2.8 21.5 -2.2C21.9 -1.7 22.2 -0.7 22.5 -0C22.8 0.7 23.1 1.7 23.4 2.2C23.7 2.8 24 3.1 24.4 3.4C24.7 3.7 25 4 25.3 4.2C25.6 4.4 25.9 4.6 26.2 4.8C26.5 4.9 26.8 5 27.2 5.1C27.5 5.2 27.8 5.2 28.1 5.2C28.4 5.2 28.7 5.2 29 5.1C29.3 5 29.7 4.9 30 4.8C30.3 4.6 30.6 4.4 30.9 4.2C31.2 4 31.5 3.7 31.8 3.4C32.2 3.1 32.5 2.8 32.8 2.2C33.1 1.7 33.4 0.7 33.7 -0C34 -0.7 34.3 -1.7 34.7 -2.2C35 -2.8 35.3 -3.1 35.6 -3.4C35.9 -3.7 36.2 -4 36.5 -4.2C36.8 -4.4 37.2 -4.6 37.5 -4.8C37.8 -4.9 38.1 -5 38.4 -5.1C38.7 -5.2 39 -5.2 39.3 -5.2C39.6 -5.2 40 -5.2 40.3 -5.1C40.6 -5 40.9 -4.9 41.2 -4.8C41.5 -4.6 41.8 -4.4 42.1 -4.2C42.5 -4 42.8 -3.7 43.1 -3.4C43.4 -3.1 43.7 -2.8 44 -2.2C44.3 -1.7 44.8 -0.4 45 -0 L45 0 L44 2.2 L43.1 3.4 L42.1 4.2 L41.2 4.8 L40.3 5.1 L39.3 5.2 L38.4 5.1 L37.5 4.8 L36.5 4.2 L35.6 3.4 L34.7 2.2 L33.7 0 L32.8 -2.2 L31.8 -3.4 L30.9 -4.2 L30 -4.8 L29 -5.1 L28.1 -5.2 L27.2 -5.1 L26.2 -4.8 L25.3 -4.2 L24.4 -3.4 L23.4 -2.2 L22.5 0 L21.5 2.2 L20.6 3.4 L19.7 4.2 L18.7 4.8 L17.8 5.1 L16.9 5.2 L15.9 5.1 L15 4.8 L14 4.2 L13.1 3.4 L12.2 2.2 L11.2 -0 L10.3 -2.2 L9.4 -3.4 L8.4 -4.2 L7.5 -4.8 L6.6 -5.1 L5.6 -5.2 L4.7 -5.1 L3.7 -4.8 L2.8 -4.2 L1.9 -3.4 L0.9 -2.2 L0 -0Z" fill="#fff" stroke="none"/>
<path d="M3.8 -4.8V4.8M7.4 -4.8V4.8M15.1 -4.8V4.8M18.7 -4.8V4.8M26.3 -4.8V4.8M29.9 -4.8V4.8M37.5 -4.8V4.8M41.1 -4.8V4.8" fill="none" stroke="#262626" stroke-width="2.5" style="stroke-linecap:butt" transform="skewX(-20)"/>
<path d="M0 -0C0.2 -0.4 0.6 -1.7 0.9 -2.2C1.2 -2.8 1.6 -3.1 1.9 -3.4C2.2 -3.7 2.5 -4 2.8 -4.2C3.1 -4.4 3.4 -4.6 3.7 -4.8C4.1 -4.9 4.4 -5 4.7 -5.1C5 -5.2 5.3 -5.2 5.6 -5.2C5.9 -5.2 6.2 -5.2 6.6 -5.1C6.9 -5 7.2 -4.9 7.5 -4.8C7.8 -4.6 8.1 -4.4 8.4 -4.2C8.7 -4 9.1 -3.7 9.4 -3.4C9.7 -3.1 10 -2.8 10.3 -2.2C10.6 -1.7 10.9 -0.7 11.2 -0C11.6 0.7 11.9 1.7 12.2 2.2C12.5 2.8 12.8 3.1 13.1 3.4C13.4 3.7 13.7 4 14 4.2C14.4 4.4 14.7 4.6 15 4.8C15.3 4.9 15.6 5 15.9 5.1C16.2 5.2 16.5 5.2 16.9 5.2C17.2 5.2 17.5 5.2 17.8 5.1C18.1 5 18.4 4.9 18.7 4.8C19 4.6 19.4 4.4 19.7 4.2C20 4 20.3 3.7 20.6 3.4C20.9 3.1 21.2 2.8 21.5 2.2C21.9 1.7 22.2 0.7 22.5 0C22.8 -0.7 23.1 -1.7 23.4 -2.2C23.7 -2.8 24 -3.1 24.4 -3.4C24.7 -3.7 25 -4 25.3 -4.2C25.6 -4.4 25.9 -4.6 26.2 -4.8C26.5 -4.9 26.8 -5 27.2 -5.1C27.5 -5.2 27.8 -5.2 28.1 -5.2C28.4 -5.2 28.7 -5.2 29 -5.1C29.3 -5 29.7 -4.9 30 -4.8C30.3 -4.6 30.6 -4.4 30.9 -4.2C31.2 -4 31.5 -3.7 31.8 -3.4C32.2 -3.1 32.5 -2.8 32.8 -2.2C33.1 -1.7 33.4 -0.7 33.7 0C34 0.7 34.3 1.7 34.7 2.2C35 2.8 35.3 3.1 35.6 3.4C35.9 3.7 36.2 4 36.5 4.2C36.8 4.4 37.2 4.6 37.5 4.8C37.8 4.9 38.1 5 38.4 5.1C38.7 5.2 39 5.2 39.3 5.2C39.6 5.2 40 5.2 40.3 5.1C40.6 5 40.9 4.9 41.2 4.8C41.5 4.6 41.8 4.4 42.1 4.2C42.5 4 42.8 3.7 43.1 3.4C43.4 3.1 43.7 2.8 44 2.2C44.3 1.7 44.8 0.4 45 0" fill="none" stroke="#604996" stroke-width="1.8"/>
<path d="M0 0C0.2 0.4 0.6 1.7 0.9 2.2C1.2 2.8 1.6 3.1 1.9 3.4C2.2 3.7 2.5 4 2.8 4.2C3.1 4.4 3.4 4.6 3.7 4.8C4.1 4.9 4.4 5 4.7 5.1C5 5.2 5.3 5.2 5.6 5.2C5.9 5.2 6.2 5.2 6.6 5.1C6.9 5 7.2 4.9 7.5 4.8C7.8 4.6 8.1 4.4 8.4 4.2C8.7 4 9.1 3.7 9.4 3.4C9.7 3.1 10 2.8 10.3 2.2C10.6 1.7 10.9 0.7 11.2 0C11.6 -0.7 11.9 -1.7 12.2 -2.2C12.5 -2.8 12.8 -3.1 13.1 -3.4C13.4 -3.7 13.7 -4 14 -4.2C14.4 -4.4 14.7 -4.6 15 -4.8C15.3 -4.9 15.6 -5 15.9 -5.1C16.2 -5.2 16.5 -5.2 16.9 -5.2C17.2 -5.2 17.5 -5.2 17.8 -5.1C18.1 -5 18.4 -4.9 18.7 -4.8C19 -4.6 19.4 -4.4 19.7 -4.2C20 -4 20.3 -3.7 20.6 -3.4C20.9 -3.1 21.2 -2.8 21.5 -2.2C21.9 -1.7 22.2 -0.7 22.5 -0C22.8 0.7 23.1 1.7 23.4 2.2C23.7 2.8 24 3.1 24.4 3.4C24.7 3.7 25 4 25.3 4.2C25.6 4.4 25.9 4.6 26.2 4.8C26.5 4.9 26.8 5 27.2 5.1C27.5 5.2 27.8 5.2 28.1 5.2C28.4 5.2 28.7 5.2 29 5.1C29.3 5 29.7 4.9 30 4.8C30.3 4.6 30.6 4.4 30.9 4.2C31.2 4 31.5 3.7 31.8 3.4C32.2 3.1 32.5 2.8 32.8 2.2C33.1 1.7 33.4 0.7 33.7 -0C34 -0.7 34.3 -1.7 34.7 -2.2C35 -2.8 35.3 -3.1 35.6 -3.4C35.9 -3.7 36.2 -4 36.5 -4.2C36.8 -4.4 37.2 -4.6 37.5 -4.8C37.8 -4.9 38.1 -5 38.4 -5.1C38.7 -5.2 39 -5.2 39.3 -5.2C39.6 -5.2 40 -5.2 40.3 -5.1C40.6 -5 40.9 -4.9 41.2 -4.8C41.5 -4.6 41.8 -4.4 42.1 -4.2C42.5 -4 42.8 -3.7 43.1 -3.4C43.4 -3.1 43.7 -2.8 44 -2.2C44.3 -1.7 44.8 -0.4 45 -0" fill="none" stroke="#604996" stroke-width="1.8"/>
</g>
<circle cx="539" cy="280.8" r="4.9" fill="url(#gb)"/>
<circle cx="546.5" cy="280.8" r="4.9" fill="url(#go)"/>
<circle cx="554" cy="280.8" r="4.9" fill="url(#gr)"/>
<circle cx="561.5" cy="280.9" r="4.9" fill="url(#gb)"/>
<circle cx="569.1" cy="280.9" r="4.9" fill="url(#gg)"/>
<circle cx="576.6" cy="280.9" r="4.9" fill="url(#gb)"/>
<circle cx="584.1" cy="280.9" r="4.9" fill="url(#gr)"/>
<circle cx="495.1" cy="283" r="3" fill="url(#gd)"/>
<path d="M515 321.2C515.5 321.9 516.9 323.8 518 325.2C519.1 326.6 520.3 328.3 521.5 329.7C522.7 331.1 523.7 332.5 525 333.3C526.3 334.1 528 334.5 529.5 334.5C531 334.5 532.6 333.8 534 333.3C535.4 332.8 536.7 331.8 538 331.3C539.3 330.8 541.2 330.4 541.8 330.2" fill="none" stroke="#604996" stroke-width="2.3" />
<path d="M473.1 319.3C473 318.6 473 316.7 472.7 315.2C472.4 313.7 472 311.8 471.5 310.2C471 308.6 470.7 306.4 469.7 305.3C468.7 304.2 466.9 303.7 465.5 303.3C464.1 302.9 462.2 303.3 461 302.9C459.8 302.5 458.7 301.8 458.1 300.7C457.5 299.6 457.4 297 457.3 296.3" fill="none" stroke="#604996" stroke-width="2.3" />
<g transform="translate(471.6 319.4) rotate(-2.9)">
<path d="M0 0C0.2 0.4 0.6 1.7 0.9 2.2C1.2 2.8 1.6 3.1 1.9 3.4C2.2 3.7 2.5 4 2.8 4.2C3.1 4.4 3.4 4.6 3.7 4.8C4.1 4.9 4.4 5 4.7 5.1C5 5.2 5.3 5.2 5.6 5.2C5.9 5.2 6.2 5.2 6.6 5.1C6.9 5 7.2 4.9 7.5 4.8C7.8 4.6 8.1 4.4 8.4 4.2C8.7 4 9.1 3.7 9.4 3.4C9.7 3.1 10 2.8 10.3 2.2C10.6 1.7 10.9 0.7 11.2 0C11.6 -0.7 11.9 -1.7 12.2 -2.2C12.5 -2.8 12.8 -3.1 13.1 -3.4C13.4 -3.7 13.7 -4 14 -4.2C14.4 -4.4 14.7 -4.6 15 -4.8C15.3 -4.9 15.6 -5 15.9 -5.1C16.2 -5.2 16.5 -5.2 16.9 -5.2C17.2 -5.2 17.5 -5.2 17.8 -5.1C18.1 -5 18.4 -4.9 18.7 -4.8C19 -4.6 19.4 -4.4 19.7 -4.2C20 -4 20.3 -3.7 20.6 -3.4C20.9 -3.1 21.2 -2.8 21.5 -2.2C21.9 -1.7 22.2 -0.7 22.5 -0C22.8 0.7 23.1 1.7 23.4 2.2C23.7 2.8 24 3.1 24.4 3.4C24.7 3.7 25 4 25.3 4.2C25.6 4.4 25.9 4.6 26.2 4.8C26.5 4.9 26.8 5 27.2 5.1C27.5 5.2 27.8 5.2 28.1 5.2C28.4 5.2 28.7 5.2 29 5.1C29.3 5 29.7 4.9 30 4.8C30.3 4.6 30.6 4.4 30.9 4.2C31.2 4 31.5 3.7 31.8 3.4C32.2 3.1 32.5 2.8 32.8 2.2C33.1 1.7 33.4 0.7 33.7 -0C34 -0.7 34.3 -1.7 34.7 -2.2C35 -2.8 35.3 -3.1 35.6 -3.4C35.9 -3.7 36.2 -4 36.5 -4.2C36.8 -4.4 37.2 -4.6 37.5 -4.8C37.8 -4.9 38.1 -5 38.4 -5.1C38.7 -5.2 39 -5.2 39.3 -5.2C39.6 -5.2 40 -5.2 40.3 -5.1C40.6 -5 40.9 -4.9 41.2 -4.8C41.5 -4.6 41.8 -4.4 42.1 -4.2C42.5 -4 42.8 -3.7 43.1 -3.4C43.4 -3.1 43.7 -2.8 44 -2.2C44.3 -1.7 44.8 -0.4 45 -0" fill="none" stroke="#667" stroke-opacity="0.55" stroke-width="2.6" transform="translate(0.8 1.6)"/>
<path d="M0 -0C0.2 -0.4 0.6 -1.7 0.9 -2.2C1.2 -2.8 1.6 -3.1 1.9 -3.4C2.2 -3.7 2.5 -4 2.8 -4.2C3.1 -4.4 3.4 -4.6 3.7 -4.8C4.1 -4.9 4.4 -5 4.7 -5.1C5 -5.2 5.3 -5.2 5.6 -5.2C5.9 -5.2 6.2 -5.2 6.6 -5.1C6.9 -5 7.2 -4.9 7.5 -4.8C7.8 -4.6 8.1 -4.4 8.4 -4.2C8.7 -4 9.1 -3.7 9.4 -3.4C9.7 -3.1 10 -2.8 10.3 -2.2C10.6 -1.7 10.9 -0.7 11.2 -0C11.6 0.7 11.9 1.7 12.2 2.2C12.5 2.8 12.8 3.1 13.1 3.4C13.4 3.7 13.7 4 14 4.2C14.4 4.4 14.7 4.6 15 4.8C15.3 4.9 15.6 5 15.9 5.1C16.2 5.2 16.5 5.2 16.9 5.2C17.2 5.2 17.5 5.2 17.8 5.1C18.1 5 18.4 4.9 18.7 4.8C19 4.6 19.4 4.4 19.7 4.2C20 4 20.3 3.7 20.6 3.4C20.9 3.1 21.2 2.8 21.5 2.2C21.9 1.7 22.2 0.7 22.5 0C22.8 -0.7 23.1 -1.7 23.4 -2.2C23.7 -2.8 24 -3.1 24.4 -3.4C24.7 -3.7 25 -4 25.3 -4.2C25.6 -4.4 25.9 -4.6 26.2 -4.8C26.5 -4.9 26.8 -5 27.2 -5.1C27.5 -5.2 27.8 -5.2 28.1 -5.2C28.4 -5.2 28.7 -5.2 29 -5.1C29.3 -5 29.7 -4.9 30 -4.8C30.3 -4.6 30.6 -4.4 30.9 -4.2C31.2 -4 31.5 -3.7 31.8 -3.4C32.2 -3.1 32.5 -2.8 32.8 -2.2C33.1 -1.7 33.4 -0.7 33.7 0C34 0.7 34.3 1.7 34.7 2.2C35 2.8 35.3 3.1 35.6 3.4C35.9 3.7 36.2 4 36.5 4.2C36.8 4.4 37.2 4.6 37.5 4.8C37.8 4.9 38.1 5 38.4 5.1C38.7 5.2 39 5.2 39.3 5.2C39.6 5.2 40 5.2 40.3 5.1C40.6 5 40.9 4.9 41.2 4.8C41.5 4.6 41.8 4.4 42.1 4.2C42.5 4 42.8 3.7 43.1 3.4C43.4 3.1 43.7 2.8 44 2.2C44.3 1.7 44.8 0.4 45 0" fill="none" stroke="#667" stroke-opacity="0.55" stroke-width="2.6" transform="translate(0.8 1.6)"/>
<path d="M0 0C0.2 0.4 0.6 1.7 0.9 2.2C1.2 2.8 1.6 3.1 1.9 3.4C2.2 3.7 2.5 4 2.8 4.2C3.1 4.4 3.4 4.6 3.7 4.8C4.1 4.9 4.4 5 4.7 5.1C5 5.2 5.3 5.2 5.6 5.2C5.9 5.2 6.2 5.2 6.6 5.1C6.9 5 7.2 4.9 7.5 4.8C7.8 4.6 8.1 4.4 8.4 4.2C8.7 4 9.1 3.7 9.4 3.4C9.7 3.1 10 2.8 10.3 2.2C10.6 1.7 10.9 0.7 11.2 0C11.6 -0.7 11.9 -1.7 12.2 -2.2C12.5 -2.8 12.8 -3.1 13.1 -3.4C13.4 -3.7 13.7 -4 14 -4.2C14.4 -4.4 14.7 -4.6 15 -4.8C15.3 -4.9 15.6 -5 15.9 -5.1C16.2 -5.2 16.5 -5.2 16.9 -5.2C17.2 -5.2 17.5 -5.2 17.8 -5.1C18.1 -5 18.4 -4.9 18.7 -4.8C19 -4.6 19.4 -4.4 19.7 -4.2C20 -4 20.3 -3.7 20.6 -3.4C20.9 -3.1 21.2 -2.8 21.5 -2.2C21.9 -1.7 22.2 -0.7 22.5 -0C22.8 0.7 23.1 1.7 23.4 2.2C23.7 2.8 24 3.1 24.4 3.4C24.7 3.7 25 4 25.3 4.2C25.6 4.4 25.9 4.6 26.2 4.8C26.5 4.9 26.8 5 27.2 5.1C27.5 5.2 27.8 5.2 28.1 5.2C28.4 5.2 28.7 5.2 29 5.1C29.3 5 29.7 4.9 30 4.8C30.3 4.6 30.6 4.4 30.9 4.2C31.2 4 31.5 3.7 31.8 3.4C32.2 3.1 32.5 2.8 32.8 2.2C33.1 1.7 33.4 0.7 33.7 -0C34 -0.7 34.3 -1.7 34.7 -2.2C35 -2.8 35.3 -3.1 35.6 -3.4C35.9 -3.7 36.2 -4 36.5 -4.2C36.8 -4.4 37.2 -4.6 37.5 -4.8C37.8 -4.9 38.1 -5 38.4 -5.1C38.7 -5.2 39 -5.2 39.3 -5.2C39.6 -5.2 40 -5.2 40.3 -5.1C40.6 -5 40.9 -4.9 41.2 -4.8C41.5 -4.6 41.8 -4.4 42.1 -4.2C42.5 -4 42.8 -3.7 43.1 -3.4C43.4 -3.1 43.7 -2.8 44 -2.2C44.3 -1.7 44.8 -0.4 45 -0 L45 0 L44 2.2 L43.1 3.4 L42.1 4.2 L41.2 4.8 L40.3 5.1 L39.3 5.2 L38.4 5.1 L37.5 4.8 L36.5 4.2 L35.6 3.4 L34.7 2.2 L33.7 0 L32.8 -2.2 L31.8 -3.4 L30.9 -4.2 L30 -4.8 L29 -5.1 L28.1 -5.2 L27.2 -5.1 L26.2 -4.8 L25.3 -4.2 L24.4 -3.4 L23.4 -2.2 L22.5 0 L21.5 2.2 L20.6 3.4 L19.7 4.2 L18.7 4.8 L17.8 5.1 L16.9 5.2 L15.9 5.1 L15 4.8 L14 4.2 L13.1 3.4 L12.2 2.2 L11.2 -0 L10.3 -2.2 L9.4 -3.4 L8.4 -4.2 L7.5 -4.8 L6.6 -5.1 L5.6 -5.2 L4.7 -5.1 L3.7 -4.8 L2.8 -4.2 L1.9 -3.4 L0.9 -2.2 L0 -0Z" fill="#fff" stroke="none"/>
<path d="M3.8 -4.8V4.8M7.4 -4.8V4.8M15.1 -4.8V4.8M18.7 -4.8V4.8M26.3 -4.8V4.8M29.9 -4.8V4.8M37.5 -4.8V4.8M41.1 -4.8V4.8" fill="none" stroke="#262626" stroke-width="2.5" style="stroke-linecap:butt" transform="skewX(-20)"/>
<path d="M0 -0C0.2 -0.4 0.6 -1.7 0.9 -2.2C1.2 -2.8 1.6 -3.1 1.9 -3.4C2.2 -3.7 2.5 -4 2.8 -4.2C3.1 -4.4 3.4 -4.6 3.7 -4.8C4.1 -4.9 4.4 -5 4.7 -5.1C5 -5.2 5.3 -5.2 5.6 -5.2C5.9 -5.2 6.2 -5.2 6.6 -5.1C6.9 -5 7.2 -4.9 7.5 -4.8C7.8 -4.6 8.1 -4.4 8.4 -4.2C8.7 -4 9.1 -3.7 9.4 -3.4C9.7 -3.1 10 -2.8 10.3 -2.2C10.6 -1.7 10.9 -0.7 11.2 -0C11.6 0.7 11.9 1.7 12.2 2.2C12.5 2.8 12.8 3.1 13.1 3.4C13.4 3.7 13.7 4 14 4.2C14.4 4.4 14.7 4.6 15 4.8C15.3 4.9 15.6 5 15.9 5.1C16.2 5.2 16.5 5.2 16.9 5.2C17.2 5.2 17.5 5.2 17.8 5.1C18.1 5 18.4 4.9 18.7 4.8C19 4.6 19.4 4.4 19.7 4.2C20 4 20.3 3.7 20.6 3.4C20.9 3.1 21.2 2.8 21.5 2.2C21.9 1.7 22.2 0.7 22.5 0C22.8 -0.7 23.1 -1.7 23.4 -2.2C23.7 -2.8 24 -3.1 24.4 -3.4C24.7 -3.7 25 -4 25.3 -4.2C25.6 -4.4 25.9 -4.6 26.2 -4.8C26.5 -4.9 26.8 -5 27.2 -5.1C27.5 -5.2 27.8 -5.2 28.1 -5.2C28.4 -5.2 28.7 -5.2 29 -5.1C29.3 -5 29.7 -4.9 30 -4.8C30.3 -4.6 30.6 -4.4 30.9 -4.2C31.2 -4 31.5 -3.7 31.8 -3.4C32.2 -3.1 32.5 -2.8 32.8 -2.2C33.1 -1.7 33.4 -0.7 33.7 0C34 0.7 34.3 1.7 34.7 2.2C35 2.8 35.3 3.1 35.6 3.4C35.9 3.7 36.2 4 36.5 4.2C36.8 4.4 37.2 4.6 37.5 4.8C37.8 4.9 38.1 5 38.4 5.1C38.7 5.2 39 5.2 39.3 5.2C39.6 5.2 40 5.2 40.3 5.1C40.6 5 40.9 4.9 41.2 4.8C41.5 4.6 41.8 4.4 42.1 4.2C42.5 4 42.8 3.7 43.1 3.4C43.4 3.1 43.7 2.8 44 2.2C44.3 1.7 44.8 0.4 45 0" fill="none" stroke="#604996" stroke-width="1.8"/>
<path d="M0 0C0.2 0.4 0.6 1.7 0.9 2.2C1.2 2.8 1.6 3.1 1.9 3.4C2.2 3.7 2.5 4 2.8 4.2C3.1 4.4 3.4 4.6 3.7 4.8C4.1 4.9 4.4 5 4.7 5.1C5 5.2 5.3 5.2 5.6 5.2C5.9 5.2 6.2 5.2 6.6 5.1C6.9 5 7.2 4.9 7.5 4.8C7.8 4.6 8.1 4.4 8.4 4.2C8.7 4 9.1 3.7 9.4 3.4C9.7 3.1 10 2.8 10.3 2.2C10.6 1.7 10.9 0.7 11.2 0C11.6 -0.7 11.9 -1.7 12.2 -2.2C12.5 -2.8 12.8 -3.1 13.1 -3.4C13.4 -3.7 13.7 -4 14 -4.2C14.4 -4.4 14.7 -4.6 15 -4.8C15.3 -4.9 15.6 -5 15.9 -5.1C16.2 -5.2 16.5 -5.2 16.9 -5.2C17.2 -5.2 17.5 -5.2 17.8 -5.1C18.1 -5 18.4 -4.9 18.7 -4.8C19 -4.6 19.4 -4.4 19.7 -4.2C20 -4 20.3 -3.7 20.6 -3.4C20.9 -3.1 21.2 -2.8 21.5 -2.2C21.9 -1.7 22.2 -0.7 22.5 -0C22.8 0.7 23.1 1.7 23.4 2.2C23.7 2.8 24 3.1 24.4 3.4C24.7 3.7 25 4 25.3 4.2C25.6 4.4 25.9 4.6 26.2 4.8C26.5 4.9 26.8 5 27.2 5.1C27.5 5.2 27.8 5.2 28.1 5.2C28.4 5.2 28.7 5.2 29 5.1C29.3 5 29.7 4.9 30 4.8C30.3 4.6 30.6 4.4 30.9 4.2C31.2 4 31.5 3.7 31.8 3.4C32.2 3.1 32.5 2.8 32.8 2.2C33.1 1.7 33.4 0.7 33.7 -0C34 -0.7 34.3 -1.7 34.7 -2.2C35 -2.8 35.3 -3.1 35.6 -3.4C35.9 -3.7 36.2 -4 36.5 -4.2C36.8 -4.4 37.2 -4.6 37.5 -4.8C37.8 -4.9 38.1 -5 38.4 -5.1C38.7 -5.2 39 -5.2 39.3 -5.2C39.6 -5.2 40 -5.2 40.3 -5.1C40.6 -5 40.9 -4.9 41.2 -4.8C41.5 -4.6 41.8 -4.4 42.1 -4.2C42.5 -4 42.8 -3.7 43.1 -3.4C43.4 -3.1 43.7 -2.8 44 -2.2C44.3 -1.7 44.8 -0.4 45 -0" fill="none" stroke="#604996" stroke-width="1.8"/>
</g>
<circle cx="517" cy="317.1" r="4.9" fill="url(#gb)"/>
<circle cx="524.5" cy="317.1" r="4.9" fill="url(#go)"/>
<circle cx="532" cy="317.1" r="4.9" fill="url(#gr)"/>
<circle cx="539.5" cy="317.1" r="4.9" fill="url(#gb)"/>
<circle cx="547.1" cy="317.2" r="4.9" fill="url(#gg)"/>
<circle cx="554.6" cy="317.2" r="4.9" fill="url(#gb)"/>
<circle cx="562.1" cy="317.2" r="4.9" fill="url(#gr)"/>
<circle cx="473.1" cy="319.3" r="3" fill="url(#gd)"/>
<g stroke="#1a1a1a" stroke-width="2.2" fill="none">
<rect x="329" y="499" width="260.6" height="189.4"/>
<path d="M402.7 499V688.4M517 499V688.4M329 523.3H589.6M329 583H589.6M329 627.6H589.6M329 655H589.6" style="stroke-linecap:butt"/>
</g>
<text x="366" y="516.2" font-size="14.8" text-anchor="middle" font-weight="normal" >Identity</text>
<text x="458.4" y="516.2" font-size="14.8" text-anchor="middle" font-weight="normal" >Color code</text>
<text x="553.3" y="516.2" font-size="14.8" text-anchor="middle" font-weight="normal" >Counts</text>
<text x="343" y="557" font-size="14.8" text-anchor="start" font-weight="normal" >Gene 1</text>
<text x="343" y="612.2" font-size="14.8" text-anchor="start" font-weight="normal" >Gene 2</text>
<text x="343" y="643.3" font-size="14.8" text-anchor="start" font-weight="normal" >...</text>
<text x="343" y="675.8" font-size="14.8" text-anchor="start" font-weight="normal" >Gene <tspan font-style="italic">n</tspan></text>
<text x="553" y="557" font-size="14.8" text-anchor="middle" font-weight="normal" >3</text>
<text x="553" y="611" font-size="14.8" text-anchor="middle" font-weight="normal" >2</text>
<text x="553" y="675.6" font-size="14.8" text-anchor="middle" font-weight="normal" >1</text>
<circle cx="420" cy="536.2" r="6.7" fill="url(#gb)"/>
<circle cx="433.3" cy="536.2" r="6.7" fill="url(#go)"/>
<circle cx="446.7" cy="536.2" r="6.7" fill="url(#gr)"/>
<circle cx="460" cy="536.2" r="6.7" fill="url(#gb)"/>
<circle cx="473.3" cy="536.2" r="6.7" fill="url(#gg)"/>
<circle cx="486.7" cy="536.2" r="6.7" fill="url(#gb)"/>
<circle cx="500" cy="536.2" r="6.7" fill="url(#gr)"/>
<circle cx="420" cy="551.9" r="6.7" fill="url(#gb)"/>
<circle cx="433.3" cy="551.9" r="6.7" fill="url(#go)"/>
<circle cx="446.7" cy="551.9" r="6.7" fill="url(#gr)"/>
<circle cx="460" cy="551.9" r="6.7" fill="url(#gb)"/>
<circle cx="473.3" cy="551.9" r="6.7" fill="url(#gg)"/>
<circle cx="486.7" cy="551.9" r="6.7" fill="url(#gb)"/>
<circle cx="500" cy="551.9" r="6.7" fill="url(#gr)"/>
<circle cx="420" cy="568.2" r="6.7" fill="url(#gb)"/>
<circle cx="433.3" cy="568.2" r="6.7" fill="url(#go)"/>
<circle cx="446.7" cy="568.2" r="6.7" fill="url(#gr)"/>
<circle cx="460" cy="568.2" r="6.7" fill="url(#gb)"/>
<circle cx="473.3" cy="568.2" r="6.7" fill="url(#gg)"/>
<circle cx="486.7" cy="568.2" r="6.7" fill="url(#gb)"/>
<circle cx="500" cy="568.2" r="6.7" fill="url(#gr)"/>
<circle cx="420.5" cy="598.1" r="6.7" fill="url(#gr)"/>
<circle cx="433.8" cy="598.1" r="6.7" fill="url(#gb)"/>
<circle cx="447.2" cy="598.1" r="6.7" fill="url(#go)"/>
<circle cx="460.5" cy="598.1" r="6.7" fill="url(#gg)"/>
<circle cx="473.8" cy="598.1" r="6.7" fill="url(#gr)"/>
<circle cx="487.2" cy="598.1" r="6.7" fill="url(#gg)"/>
<circle cx="500.5" cy="598.1" r="6.7" fill="url(#gb)"/>
<circle cx="420.5" cy="613.9" r="6.7" fill="url(#gr)"/>
<circle cx="433.8" cy="613.9" r="6.7" fill="url(#gb)"/>
<circle cx="447.2" cy="613.9" r="6.7" fill="url(#go)"/>
<circle cx="460.5" cy="613.9" r="6.7" fill="url(#gg)"/>
<circle cx="473.8" cy="613.9" r="6.7" fill="url(#gr)"/>
<circle cx="487.2" cy="613.9" r="6.7" fill="url(#gg)"/>
<circle cx="500.5" cy="613.9" r="6.7" fill="url(#gb)"/>
<circle cx="421" cy="671.2" r="6.7" fill="url(#gg)"/>
<circle cx="434.3" cy="671.2" r="6.7" fill="url(#gr)"/>
<circle cx="447.7" cy="671.2" r="6.7" fill="url(#gb)"/>
<circle cx="461" cy="671.2" r="6.7" fill="url(#go)"/>
<circle cx="474.3" cy="671.2" r="6.7" fill="url(#gg)"/>
<circle cx="487.7" cy="671.2" r="6.7" fill="url(#gr)"/>
<circle cx="501" cy="671.2" r="6.7" fill="url(#gb)"/>
</svg>
</body></html>
